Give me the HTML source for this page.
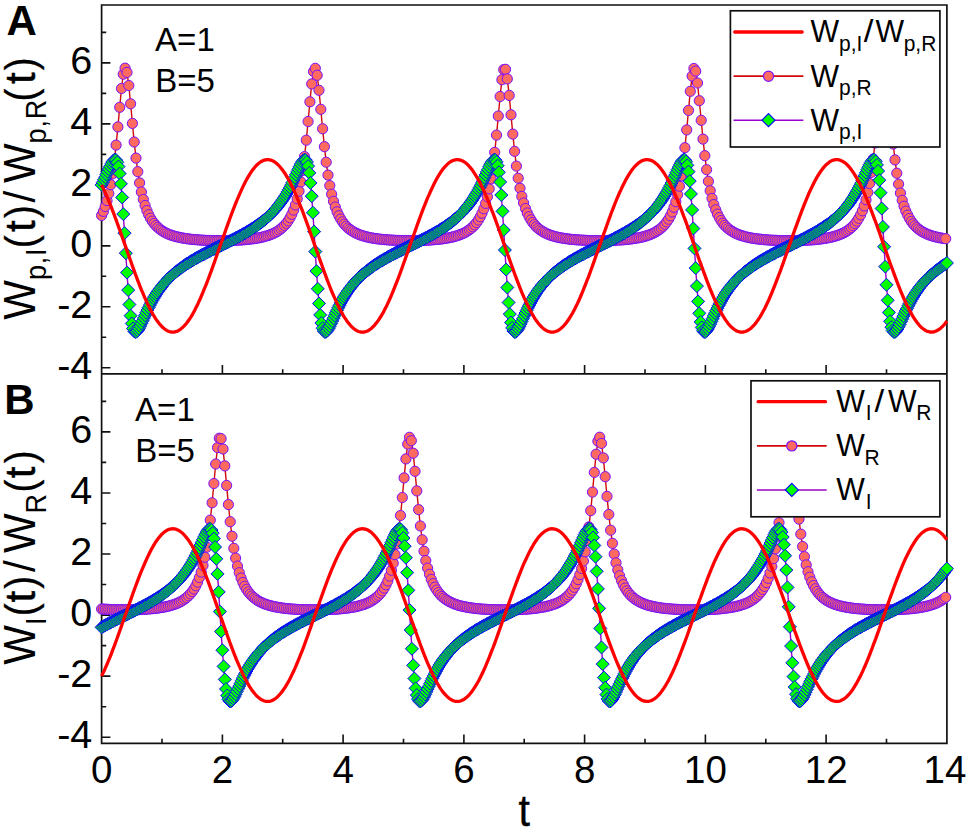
<!DOCTYPE html>
<html><head><meta charset="utf-8"><title>chart</title>
<style>
html,body{margin:0;padding:0;background:#fff}
body{width:970px;height:830px;overflow:hidden;font-family:"Liberation Sans",sans-serif}
svg{display:block}
.b{stroke:#000;stroke-width:.9px}
</style></head><body>

<svg width="970" height="830" viewBox="0 0 970 830">
<rect width="970" height="830" fill="#fff"/>
<g stroke="#111" stroke-width="1.7" fill="none" stroke-linecap="butt">
<path d="M101.6 5H946.9V743.3H101.6Z"/>
<path d="M101.6 373.9H946.9"/>
</g>
<g stroke="#111" stroke-width="1.6" fill="none">
<path d="M101.6 367.8h8.8M101.6 337.3h4.6M101.6 306.8h8.8M101.6 276.3h4.6M101.6 245.9h8.8M101.6 215.4h4.6M101.6 184.9h8.8M101.6 154.4h4.6M101.6 123.9h8.8M101.6 93.4h4.6M101.6 62.9h8.8M101.6 32.4h4.6M162 373.9v-4.6M222.4 373.9v-8.8M282.7 373.9v-4.6M343.1 373.9v-8.8M403.5 373.9v-4.6M463.9 373.9v-8.8M524.2 373.9v-4.6M584.6 373.9v-8.8M645 373.9v-4.6M705.4 373.9v-8.8M765.8 373.9v-4.6M826.1 373.9v-8.8M886.5 373.9v-4.6M101.6 737.2h8.8M101.6 706.7h4.6M101.6 676.1h8.8M101.6 645.6h4.6M101.6 615.1h8.8M101.6 584.5h4.6M101.6 554h8.8M101.6 523.5h4.6M101.6 493h8.8M101.6 462.4h4.6M101.6 431.9h8.8M101.6 401.4h4.6M162 743.3v-4.6M222.4 743.3v-8.8M282.7 743.3v-4.6M343.1 743.3v-8.8M403.5 743.3v-4.6M463.9 743.3v-8.8M524.2 743.3v-4.6M584.6 743.3v-8.8M645 743.3v-4.6M705.4 743.3v-8.8M765.8 743.3v-4.6M826.1 743.3v-8.8M886.5 743.3v-4.6"/>
</g>
<g>
<path d="M101.6 215.4L103.4 211.4L105.2 206.5L107 200.6L108.8 193.5L110.7 184.7L112.5 173.9L114.3 160.8L116.1 145.1L117.9 126.9L119.7 107.3L121.5 88.5L123.3 74.2L125.1 68.2L127 72.4L128.8 85.5L130.6 103.8L132.4 123.4L134.2 142L136 158.1L137.8 171.7L139.6 182.9L141.4 192L143.3 199.4L145.1 205.5L146.9 210.5L148.7 214.7L150.5 218.2L152.3 221.1L154.1 223.5L155.9 225.6L157.8 227.4L159.6 229L161.4 230.3L163.2 231.5L165 232.5L166.8 233.4L168.6 234.2L170.4 234.9L172.2 235.5L174.1 236.1L175.9 236.6L177.7 237L179.5 237.4L181.3 237.8L183.1 238.1L184.9 238.4L186.7 238.7L188.5 238.9L190.4 239.2L192.2 239.4L194 239.5L195.8 239.7L197.6 239.8L199.4 240L201.2 240.1L203 240.2L204.8 240.3L206.7 240.4L208.5 240.4L210.3 240.5L212.1 240.5L213.9 240.6L215.7 240.6L217.5 240.6L219.3 240.6L221.1 240.6L223 240.6L224.8 240.6L226.6 240.6L228.4 240.5L230.2 240.5L232 240.4L233.8 240.4L235.6 240.3L237.5 240.2L239.3 240.1L241.1 240L242.9 239.8L244.7 239.7L246.5 239.5L248.3 239.3L250.1 239.1L251.9 238.9L253.8 238.7L255.6 238.4L257.4 238.1L259.2 237.8L261 237.4L262.8 237L264.6 236.5L266.4 236L268.2 235.5L270.1 234.8L271.9 234.1L273.7 233.3L275.5 232.4L277.3 231.4L279.1 230.2L280.9 228.8L282.7 227.2L284.5 225.4L286.4 223.3L288.2 220.8L290 217.8L291.8 214.3L293.6 210.1L295.4 205L297.2 198.8L299 191.2L300.8 181.9L302.7 170.5L304.5 156.6L306.3 140.2L308.1 121.5L309.9 101.8L311.7 83.9L313.5 71.5L315.3 68.3L317.2 75.3L319 90.3L320.8 109.3L322.6 128.8L324.4 146.7L326.2 162.2L328 175.1L329.8 185.6L331.6 194.2L333.5 201.3L335.3 207L337.1 211.8L338.9 215.7L340.7 219L342.5 221.8L344.3 224.1L346.1 226.1L347.9 227.9L349.8 229.4L351.6 230.6L353.4 231.8L355.2 232.8L357 233.6L358.8 234.4L360.6 235.1L362.4 235.7L364.2 236.2L366.1 236.7L367.9 237.2L369.7 237.6L371.5 237.9L373.3 238.2L375.1 238.5L376.9 238.8L378.7 239L380.5 239.2L382.4 239.4L384.2 239.6L386 239.7L387.8 239.9L389.6 240L391.4 240.1L393.2 240.2L395 240.3L396.9 240.4L398.7 240.4L400.5 240.5L402.3 240.5L404.1 240.6L405.9 240.6L407.7 240.6L409.5 240.6L411.3 240.6L413.2 240.6L415 240.6L416.8 240.6L418.6 240.5L420.4 240.5L422.2 240.4L424 240.3L425.8 240.2L427.6 240.2L429.5 240L431.3 239.9L433.1 239.8L434.9 239.6L436.7 239.5L438.5 239.3L440.3 239.1L442.1 238.9L443.9 238.6L445.8 238.3L447.6 238L449.4 237.7L451.2 237.3L453 236.9L454.8 236.4L456.6 235.9L458.4 235.3L460.2 234.6L462.1 233.9L463.9 233.1L465.7 232.1L467.5 231L469.3 229.8L471.1 228.4L472.9 226.8L474.7 224.9L476.6 222.6L478.4 220L480.2 216.9L482 213.2L483.8 208.8L485.6 203.4L487.4 196.8L489.2 188.8L491 178.9L492.9 166.8L494.7 152.3L496.5 135.1L498.3 116L500.1 96.5L501.9 79.7L503.7 69.6L505.5 69.3L507.3 78.9L509.2 95.4L511 114.8L512.8 134.1L514.6 151.3L516.4 166.1L518.2 178.2L520 188.2L521.8 196.4L523.6 203L525.5 208.5L527.3 213L529.1 216.7L530.9 219.8L532.7 222.5L534.5 224.7L536.3 226.7L538.1 228.3L539.9 229.7L541.8 231L543.6 232.1L545.4 233L547.2 233.9L549 234.6L550.8 235.3L552.6 235.9L554.4 236.4L556.3 236.9L558.1 237.3L559.9 237.7L561.7 238L563.5 238.3L565.3 238.6L567.1 238.8L568.9 239.1L570.7 239.3L572.6 239.5L574.4 239.6L576.2 239.8L578 239.9L579.8 240L581.6 240.1L583.4 240.2L585.2 240.3L587 240.4L588.9 240.5L590.7 240.5L592.5 240.6L594.3 240.6L596.1 240.6L597.9 240.6L599.7 240.6L601.5 240.6L603.3 240.6L605.2 240.6L607 240.5L608.8 240.5L610.6 240.4L612.4 240.4L614.2 240.3L616 240.2L617.8 240.1L619.6 240L621.5 239.9L623.3 239.8L625.1 239.6L626.9 239.4L628.7 239.2L630.5 239L632.3 238.8L634.1 238.5L636 238.2L637.8 237.9L639.6 237.6L641.4 237.2L643.2 236.8L645 236.3L646.8 235.7L648.6 235.1L650.4 234.4L652.3 233.7L654.1 232.8L655.9 231.8L657.7 230.7L659.5 229.4L661.3 228L663.1 226.3L664.9 224.3L666.7 221.9L668.6 219.2L670.4 215.9L672.2 212L674 207.3L675.8 201.7L677.6 194.7L679.4 186.2L681.2 175.8L683 163L684.9 147.7L686.7 129.9L688.5 110.4L690.3 91.3L692.1 76L693.9 68.5L695.7 71.1L697.5 83L699.3 100.7L701.2 120.3L703 139.1L704.8 155.7L706.6 169.7L708.4 181.3L710.2 190.7L712 198.4L713.8 204.6L715.7 209.8L717.5 214.1L719.3 217.6L721.1 220.6L722.9 223.2L724.7 225.3L726.5 227.1L728.3 228.7L730.1 230.1L732 231.3L733.8 232.3L735.6 233.3L737.4 234.1L739.2 234.8L741 235.4L742.8 236L744.6 236.5L746.4 237L748.3 237.4L750.1 237.8L751.9 238.1L753.7 238.4L755.5 238.7L757.3 238.9L759.1 239.1L760.9 239.3L762.7 239.5L764.6 239.7L766.4 239.8L768.2 240L770 240.1L771.8 240.2L773.6 240.3L775.4 240.3L777.2 240.4L779 240.5L780.9 240.5L782.7 240.6L784.5 240.6L786.3 240.6L788.1 240.6L789.9 240.6L791.7 240.6L793.5 240.6L795.3 240.6L797.2 240.5L799 240.5L800.8 240.4L802.6 240.4L804.4 240.3L806.2 240.2L808 240.1L809.8 240L811.7 239.9L813.5 239.7L815.3 239.6L817.1 239.4L818.9 239.2L820.7 239L822.5 238.7L824.3 238.5L826.1 238.2L828 237.8L829.8 237.5L831.6 237.1L833.4 236.6L835.2 236.1L837 235.6L838.8 234.9L840.6 234.2L842.4 233.5L844.3 232.6L846.1 231.5L847.9 230.4L849.7 229L851.5 227.5L853.3 225.7L855.1 223.7L856.9 221.2L858.7 218.3L860.6 214.9L862.4 210.8L864.2 205.9L866 199.8L867.8 192.5L869.6 183.5L871.4 172.4L873.2 159L875 143L876.9 124.6L878.7 104.9L880.5 86.5L882.3 73L884.1 68.2L885.9 73.6L887.7 87.5L889.5 106.1L891.4 125.8L893.2 144L895 159.9L896.8 173.2L898.6 184.1L900.4 193L902.2 200.3L904 206.2L905.8 211.1L907.7 215.1L909.5 218.5L911.3 221.4L913.1 223.8L914.9 225.8L916.7 227.6L918.5 229.1L920.3 230.5L922.1 231.6L924 232.6L925.8 233.5L927.6 234.3L929.4 235L931.2 235.6L933 236.2L934.8 236.7L936.6 237.1L938.4 237.5L940.3 237.9L942.1 238.2L943.9 238.5L945.7 238.7" fill="none" stroke="#d00808" stroke-width="1.4"/>
<g fill="#ff6a60" stroke="#7810ff" stroke-width="1.0">
<circle cx="101.6" cy="215.4" r="5.1"/>
<circle cx="103.4" cy="211.4" r="5.1"/>
<circle cx="105.2" cy="206.5" r="5.1"/>
<circle cx="107" cy="200.6" r="5.1"/>
<circle cx="108.8" cy="193.5" r="5.1"/>
<circle cx="110.7" cy="184.7" r="5.1"/>
<circle cx="112.5" cy="173.9" r="5.1"/>
<circle cx="114.3" cy="160.8" r="5.1"/>
<circle cx="116.1" cy="145.1" r="5.1"/>
<circle cx="117.9" cy="126.9" r="5.1"/>
<circle cx="119.7" cy="107.3" r="5.1"/>
<circle cx="121.5" cy="88.5" r="5.1"/>
<circle cx="123.3" cy="74.2" r="5.1"/>
<circle cx="125.1" cy="68.2" r="5.1"/>
<circle cx="127" cy="72.4" r="5.1"/>
<circle cx="128.8" cy="85.5" r="5.1"/>
<circle cx="130.6" cy="103.8" r="5.1"/>
<circle cx="132.4" cy="123.4" r="5.1"/>
<circle cx="134.2" cy="142" r="5.1"/>
<circle cx="136" cy="158.1" r="5.1"/>
<circle cx="137.8" cy="171.7" r="5.1"/>
<circle cx="139.6" cy="182.9" r="5.1"/>
<circle cx="141.4" cy="192" r="5.1"/>
<circle cx="143.3" cy="199.4" r="5.1"/>
<circle cx="145.1" cy="205.5" r="5.1"/>
<circle cx="146.9" cy="210.5" r="5.1"/>
<circle cx="148.7" cy="214.7" r="5.1"/>
<circle cx="150.5" cy="218.2" r="5.1"/>
<circle cx="152.3" cy="221.1" r="5.1"/>
<circle cx="154.1" cy="223.5" r="5.1"/>
<circle cx="155.9" cy="225.6" r="5.1"/>
<circle cx="157.8" cy="227.4" r="5.1"/>
<circle cx="159.6" cy="229" r="5.1"/>
<circle cx="161.4" cy="230.3" r="5.1"/>
<circle cx="163.2" cy="231.5" r="5.1"/>
<circle cx="165" cy="232.5" r="5.1"/>
<circle cx="166.8" cy="233.4" r="5.1"/>
<circle cx="168.6" cy="234.2" r="5.1"/>
<circle cx="170.4" cy="234.9" r="5.1"/>
<circle cx="172.2" cy="235.5" r="5.1"/>
<circle cx="174.1" cy="236.1" r="5.1"/>
<circle cx="175.9" cy="236.6" r="5.1"/>
<circle cx="177.7" cy="237" r="5.1"/>
<circle cx="179.5" cy="237.4" r="5.1"/>
<circle cx="181.3" cy="237.8" r="5.1"/>
<circle cx="183.1" cy="238.1" r="5.1"/>
<circle cx="184.9" cy="238.4" r="5.1"/>
<circle cx="186.7" cy="238.7" r="5.1"/>
<circle cx="188.5" cy="238.9" r="5.1"/>
<circle cx="190.4" cy="239.2" r="5.1"/>
<circle cx="192.2" cy="239.4" r="5.1"/>
<circle cx="194" cy="239.5" r="5.1"/>
<circle cx="195.8" cy="239.7" r="5.1"/>
<circle cx="197.6" cy="239.8" r="5.1"/>
<circle cx="199.4" cy="240" r="5.1"/>
<circle cx="201.2" cy="240.1" r="5.1"/>
<circle cx="203" cy="240.2" r="5.1"/>
<circle cx="204.8" cy="240.3" r="5.1"/>
<circle cx="206.7" cy="240.4" r="5.1"/>
<circle cx="208.5" cy="240.4" r="5.1"/>
<circle cx="210.3" cy="240.5" r="5.1"/>
<circle cx="212.1" cy="240.5" r="5.1"/>
<circle cx="213.9" cy="240.6" r="5.1"/>
<circle cx="215.7" cy="240.6" r="5.1"/>
<circle cx="217.5" cy="240.6" r="5.1"/>
<circle cx="219.3" cy="240.6" r="5.1"/>
<circle cx="221.1" cy="240.6" r="5.1"/>
<circle cx="223" cy="240.6" r="5.1"/>
<circle cx="224.8" cy="240.6" r="5.1"/>
<circle cx="226.6" cy="240.6" r="5.1"/>
<circle cx="228.4" cy="240.5" r="5.1"/>
<circle cx="230.2" cy="240.5" r="5.1"/>
<circle cx="232" cy="240.4" r="5.1"/>
<circle cx="233.8" cy="240.4" r="5.1"/>
<circle cx="235.6" cy="240.3" r="5.1"/>
<circle cx="237.5" cy="240.2" r="5.1"/>
<circle cx="239.3" cy="240.1" r="5.1"/>
<circle cx="241.1" cy="240" r="5.1"/>
<circle cx="242.9" cy="239.8" r="5.1"/>
<circle cx="244.7" cy="239.7" r="5.1"/>
<circle cx="246.5" cy="239.5" r="5.1"/>
<circle cx="248.3" cy="239.3" r="5.1"/>
<circle cx="250.1" cy="239.1" r="5.1"/>
<circle cx="251.9" cy="238.9" r="5.1"/>
<circle cx="253.8" cy="238.7" r="5.1"/>
<circle cx="255.6" cy="238.4" r="5.1"/>
<circle cx="257.4" cy="238.1" r="5.1"/>
<circle cx="259.2" cy="237.8" r="5.1"/>
<circle cx="261" cy="237.4" r="5.1"/>
<circle cx="262.8" cy="237" r="5.1"/>
<circle cx="264.6" cy="236.5" r="5.1"/>
<circle cx="266.4" cy="236" r="5.1"/>
<circle cx="268.2" cy="235.5" r="5.1"/>
<circle cx="270.1" cy="234.8" r="5.1"/>
<circle cx="271.9" cy="234.1" r="5.1"/>
<circle cx="273.7" cy="233.3" r="5.1"/>
<circle cx="275.5" cy="232.4" r="5.1"/>
<circle cx="277.3" cy="231.4" r="5.1"/>
<circle cx="279.1" cy="230.2" r="5.1"/>
<circle cx="280.9" cy="228.8" r="5.1"/>
<circle cx="282.7" cy="227.2" r="5.1"/>
<circle cx="284.5" cy="225.4" r="5.1"/>
<circle cx="286.4" cy="223.3" r="5.1"/>
<circle cx="288.2" cy="220.8" r="5.1"/>
<circle cx="290" cy="217.8" r="5.1"/>
<circle cx="291.8" cy="214.3" r="5.1"/>
<circle cx="293.6" cy="210.1" r="5.1"/>
<circle cx="295.4" cy="205" r="5.1"/>
<circle cx="297.2" cy="198.8" r="5.1"/>
<circle cx="299" cy="191.2" r="5.1"/>
<circle cx="300.8" cy="181.9" r="5.1"/>
<circle cx="302.7" cy="170.5" r="5.1"/>
<circle cx="304.5" cy="156.6" r="5.1"/>
<circle cx="306.3" cy="140.2" r="5.1"/>
<circle cx="308.1" cy="121.5" r="5.1"/>
<circle cx="309.9" cy="101.8" r="5.1"/>
<circle cx="311.7" cy="83.9" r="5.1"/>
<circle cx="313.5" cy="71.5" r="5.1"/>
<circle cx="315.3" cy="68.3" r="5.1"/>
<circle cx="317.2" cy="75.3" r="5.1"/>
<circle cx="319" cy="90.3" r="5.1"/>
<circle cx="320.8" cy="109.3" r="5.1"/>
<circle cx="322.6" cy="128.8" r="5.1"/>
<circle cx="324.4" cy="146.7" r="5.1"/>
<circle cx="326.2" cy="162.2" r="5.1"/>
<circle cx="328" cy="175.1" r="5.1"/>
<circle cx="329.8" cy="185.6" r="5.1"/>
<circle cx="331.6" cy="194.2" r="5.1"/>
<circle cx="333.5" cy="201.3" r="5.1"/>
<circle cx="335.3" cy="207" r="5.1"/>
<circle cx="337.1" cy="211.8" r="5.1"/>
<circle cx="338.9" cy="215.7" r="5.1"/>
<circle cx="340.7" cy="219" r="5.1"/>
<circle cx="342.5" cy="221.8" r="5.1"/>
<circle cx="344.3" cy="224.1" r="5.1"/>
<circle cx="346.1" cy="226.1" r="5.1"/>
<circle cx="347.9" cy="227.9" r="5.1"/>
<circle cx="349.8" cy="229.4" r="5.1"/>
<circle cx="351.6" cy="230.6" r="5.1"/>
<circle cx="353.4" cy="231.8" r="5.1"/>
<circle cx="355.2" cy="232.8" r="5.1"/>
<circle cx="357" cy="233.6" r="5.1"/>
<circle cx="358.8" cy="234.4" r="5.1"/>
<circle cx="360.6" cy="235.1" r="5.1"/>
<circle cx="362.4" cy="235.7" r="5.1"/>
<circle cx="364.2" cy="236.2" r="5.1"/>
<circle cx="366.1" cy="236.7" r="5.1"/>
<circle cx="367.9" cy="237.2" r="5.1"/>
<circle cx="369.7" cy="237.6" r="5.1"/>
<circle cx="371.5" cy="237.9" r="5.1"/>
<circle cx="373.3" cy="238.2" r="5.1"/>
<circle cx="375.1" cy="238.5" r="5.1"/>
<circle cx="376.9" cy="238.8" r="5.1"/>
<circle cx="378.7" cy="239" r="5.1"/>
<circle cx="380.5" cy="239.2" r="5.1"/>
<circle cx="382.4" cy="239.4" r="5.1"/>
<circle cx="384.2" cy="239.6" r="5.1"/>
<circle cx="386" cy="239.7" r="5.1"/>
<circle cx="387.8" cy="239.9" r="5.1"/>
<circle cx="389.6" cy="240" r="5.1"/>
<circle cx="391.4" cy="240.1" r="5.1"/>
<circle cx="393.2" cy="240.2" r="5.1"/>
<circle cx="395" cy="240.3" r="5.1"/>
<circle cx="396.9" cy="240.4" r="5.1"/>
<circle cx="398.7" cy="240.4" r="5.1"/>
<circle cx="400.5" cy="240.5" r="5.1"/>
<circle cx="402.3" cy="240.5" r="5.1"/>
<circle cx="404.1" cy="240.6" r="5.1"/>
<circle cx="405.9" cy="240.6" r="5.1"/>
<circle cx="407.7" cy="240.6" r="5.1"/>
<circle cx="409.5" cy="240.6" r="5.1"/>
<circle cx="411.3" cy="240.6" r="5.1"/>
<circle cx="413.2" cy="240.6" r="5.1"/>
<circle cx="415" cy="240.6" r="5.1"/>
<circle cx="416.8" cy="240.6" r="5.1"/>
<circle cx="418.6" cy="240.5" r="5.1"/>
<circle cx="420.4" cy="240.5" r="5.1"/>
<circle cx="422.2" cy="240.4" r="5.1"/>
<circle cx="424" cy="240.3" r="5.1"/>
<circle cx="425.8" cy="240.2" r="5.1"/>
<circle cx="427.6" cy="240.2" r="5.1"/>
<circle cx="429.5" cy="240" r="5.1"/>
<circle cx="431.3" cy="239.9" r="5.1"/>
<circle cx="433.1" cy="239.8" r="5.1"/>
<circle cx="434.9" cy="239.6" r="5.1"/>
<circle cx="436.7" cy="239.5" r="5.1"/>
<circle cx="438.5" cy="239.3" r="5.1"/>
<circle cx="440.3" cy="239.1" r="5.1"/>
<circle cx="442.1" cy="238.9" r="5.1"/>
<circle cx="443.9" cy="238.6" r="5.1"/>
<circle cx="445.8" cy="238.3" r="5.1"/>
<circle cx="447.6" cy="238" r="5.1"/>
<circle cx="449.4" cy="237.7" r="5.1"/>
<circle cx="451.2" cy="237.3" r="5.1"/>
<circle cx="453" cy="236.9" r="5.1"/>
<circle cx="454.8" cy="236.4" r="5.1"/>
<circle cx="456.6" cy="235.9" r="5.1"/>
<circle cx="458.4" cy="235.3" r="5.1"/>
<circle cx="460.2" cy="234.6" r="5.1"/>
<circle cx="462.1" cy="233.9" r="5.1"/>
<circle cx="463.9" cy="233.1" r="5.1"/>
<circle cx="465.7" cy="232.1" r="5.1"/>
<circle cx="467.5" cy="231" r="5.1"/>
<circle cx="469.3" cy="229.8" r="5.1"/>
<circle cx="471.1" cy="228.4" r="5.1"/>
<circle cx="472.9" cy="226.8" r="5.1"/>
<circle cx="474.7" cy="224.9" r="5.1"/>
<circle cx="476.6" cy="222.6" r="5.1"/>
<circle cx="478.4" cy="220" r="5.1"/>
<circle cx="480.2" cy="216.9" r="5.1"/>
<circle cx="482" cy="213.2" r="5.1"/>
<circle cx="483.8" cy="208.8" r="5.1"/>
<circle cx="485.6" cy="203.4" r="5.1"/>
<circle cx="487.4" cy="196.8" r="5.1"/>
<circle cx="489.2" cy="188.8" r="5.1"/>
<circle cx="491" cy="178.9" r="5.1"/>
<circle cx="492.9" cy="166.8" r="5.1"/>
<circle cx="494.7" cy="152.3" r="5.1"/>
<circle cx="496.5" cy="135.1" r="5.1"/>
<circle cx="498.3" cy="116" r="5.1"/>
<circle cx="500.1" cy="96.5" r="5.1"/>
<circle cx="501.9" cy="79.7" r="5.1"/>
<circle cx="503.7" cy="69.6" r="5.1"/>
<circle cx="505.5" cy="69.3" r="5.1"/>
<circle cx="507.3" cy="78.9" r="5.1"/>
<circle cx="509.2" cy="95.4" r="5.1"/>
<circle cx="511" cy="114.8" r="5.1"/>
<circle cx="512.8" cy="134.1" r="5.1"/>
<circle cx="514.6" cy="151.3" r="5.1"/>
<circle cx="516.4" cy="166.1" r="5.1"/>
<circle cx="518.2" cy="178.2" r="5.1"/>
<circle cx="520" cy="188.2" r="5.1"/>
<circle cx="521.8" cy="196.4" r="5.1"/>
<circle cx="523.6" cy="203" r="5.1"/>
<circle cx="525.5" cy="208.5" r="5.1"/>
<circle cx="527.3" cy="213" r="5.1"/>
<circle cx="529.1" cy="216.7" r="5.1"/>
<circle cx="530.9" cy="219.8" r="5.1"/>
<circle cx="532.7" cy="222.5" r="5.1"/>
<circle cx="534.5" cy="224.7" r="5.1"/>
<circle cx="536.3" cy="226.7" r="5.1"/>
<circle cx="538.1" cy="228.3" r="5.1"/>
<circle cx="539.9" cy="229.7" r="5.1"/>
<circle cx="541.8" cy="231" r="5.1"/>
<circle cx="543.6" cy="232.1" r="5.1"/>
<circle cx="545.4" cy="233" r="5.1"/>
<circle cx="547.2" cy="233.9" r="5.1"/>
<circle cx="549" cy="234.6" r="5.1"/>
<circle cx="550.8" cy="235.3" r="5.1"/>
<circle cx="552.6" cy="235.9" r="5.1"/>
<circle cx="554.4" cy="236.4" r="5.1"/>
<circle cx="556.3" cy="236.9" r="5.1"/>
<circle cx="558.1" cy="237.3" r="5.1"/>
<circle cx="559.9" cy="237.7" r="5.1"/>
<circle cx="561.7" cy="238" r="5.1"/>
<circle cx="563.5" cy="238.3" r="5.1"/>
<circle cx="565.3" cy="238.6" r="5.1"/>
<circle cx="567.1" cy="238.8" r="5.1"/>
<circle cx="568.9" cy="239.1" r="5.1"/>
<circle cx="570.7" cy="239.3" r="5.1"/>
<circle cx="572.6" cy="239.5" r="5.1"/>
<circle cx="574.4" cy="239.6" r="5.1"/>
<circle cx="576.2" cy="239.8" r="5.1"/>
<circle cx="578" cy="239.9" r="5.1"/>
<circle cx="579.8" cy="240" r="5.1"/>
<circle cx="581.6" cy="240.1" r="5.1"/>
<circle cx="583.4" cy="240.2" r="5.1"/>
<circle cx="585.2" cy="240.3" r="5.1"/>
<circle cx="587" cy="240.4" r="5.1"/>
<circle cx="588.9" cy="240.5" r="5.1"/>
<circle cx="590.7" cy="240.5" r="5.1"/>
<circle cx="592.5" cy="240.6" r="5.1"/>
<circle cx="594.3" cy="240.6" r="5.1"/>
<circle cx="596.1" cy="240.6" r="5.1"/>
<circle cx="597.9" cy="240.6" r="5.1"/>
<circle cx="599.7" cy="240.6" r="5.1"/>
<circle cx="601.5" cy="240.6" r="5.1"/>
<circle cx="603.3" cy="240.6" r="5.1"/>
<circle cx="605.2" cy="240.6" r="5.1"/>
<circle cx="607" cy="240.5" r="5.1"/>
<circle cx="608.8" cy="240.5" r="5.1"/>
<circle cx="610.6" cy="240.4" r="5.1"/>
<circle cx="612.4" cy="240.4" r="5.1"/>
<circle cx="614.2" cy="240.3" r="5.1"/>
<circle cx="616" cy="240.2" r="5.1"/>
<circle cx="617.8" cy="240.1" r="5.1"/>
<circle cx="619.6" cy="240" r="5.1"/>
<circle cx="621.5" cy="239.9" r="5.1"/>
<circle cx="623.3" cy="239.8" r="5.1"/>
<circle cx="625.1" cy="239.6" r="5.1"/>
<circle cx="626.9" cy="239.4" r="5.1"/>
<circle cx="628.7" cy="239.2" r="5.1"/>
<circle cx="630.5" cy="239" r="5.1"/>
<circle cx="632.3" cy="238.8" r="5.1"/>
<circle cx="634.1" cy="238.5" r="5.1"/>
<circle cx="636" cy="238.2" r="5.1"/>
<circle cx="637.8" cy="237.9" r="5.1"/>
<circle cx="639.6" cy="237.6" r="5.1"/>
<circle cx="641.4" cy="237.2" r="5.1"/>
<circle cx="643.2" cy="236.8" r="5.1"/>
<circle cx="645" cy="236.3" r="5.1"/>
<circle cx="646.8" cy="235.7" r="5.1"/>
<circle cx="648.6" cy="235.1" r="5.1"/>
<circle cx="650.4" cy="234.4" r="5.1"/>
<circle cx="652.3" cy="233.7" r="5.1"/>
<circle cx="654.1" cy="232.8" r="5.1"/>
<circle cx="655.9" cy="231.8" r="5.1"/>
<circle cx="657.7" cy="230.7" r="5.1"/>
<circle cx="659.5" cy="229.4" r="5.1"/>
<circle cx="661.3" cy="228" r="5.1"/>
<circle cx="663.1" cy="226.3" r="5.1"/>
<circle cx="664.9" cy="224.3" r="5.1"/>
<circle cx="666.7" cy="221.9" r="5.1"/>
<circle cx="668.6" cy="219.2" r="5.1"/>
<circle cx="670.4" cy="215.9" r="5.1"/>
<circle cx="672.2" cy="212" r="5.1"/>
<circle cx="674" cy="207.3" r="5.1"/>
<circle cx="675.8" cy="201.7" r="5.1"/>
<circle cx="677.6" cy="194.7" r="5.1"/>
<circle cx="679.4" cy="186.2" r="5.1"/>
<circle cx="681.2" cy="175.8" r="5.1"/>
<circle cx="683" cy="163" r="5.1"/>
<circle cx="684.9" cy="147.7" r="5.1"/>
<circle cx="686.7" cy="129.9" r="5.1"/>
<circle cx="688.5" cy="110.4" r="5.1"/>
<circle cx="690.3" cy="91.3" r="5.1"/>
<circle cx="692.1" cy="76" r="5.1"/>
<circle cx="693.9" cy="68.5" r="5.1"/>
<circle cx="695.7" cy="71.1" r="5.1"/>
<circle cx="697.5" cy="83" r="5.1"/>
<circle cx="699.3" cy="100.7" r="5.1"/>
<circle cx="701.2" cy="120.3" r="5.1"/>
<circle cx="703" cy="139.1" r="5.1"/>
<circle cx="704.8" cy="155.7" r="5.1"/>
<circle cx="706.6" cy="169.7" r="5.1"/>
<circle cx="708.4" cy="181.3" r="5.1"/>
<circle cx="710.2" cy="190.7" r="5.1"/>
<circle cx="712" cy="198.4" r="5.1"/>
<circle cx="713.8" cy="204.6" r="5.1"/>
<circle cx="715.7" cy="209.8" r="5.1"/>
<circle cx="717.5" cy="214.1" r="5.1"/>
<circle cx="719.3" cy="217.6" r="5.1"/>
<circle cx="721.1" cy="220.6" r="5.1"/>
<circle cx="722.9" cy="223.2" r="5.1"/>
<circle cx="724.7" cy="225.3" r="5.1"/>
<circle cx="726.5" cy="227.1" r="5.1"/>
<circle cx="728.3" cy="228.7" r="5.1"/>
<circle cx="730.1" cy="230.1" r="5.1"/>
<circle cx="732" cy="231.3" r="5.1"/>
<circle cx="733.8" cy="232.3" r="5.1"/>
<circle cx="735.6" cy="233.3" r="5.1"/>
<circle cx="737.4" cy="234.1" r="5.1"/>
<circle cx="739.2" cy="234.8" r="5.1"/>
<circle cx="741" cy="235.4" r="5.1"/>
<circle cx="742.8" cy="236" r="5.1"/>
<circle cx="744.6" cy="236.5" r="5.1"/>
<circle cx="746.4" cy="237" r="5.1"/>
<circle cx="748.3" cy="237.4" r="5.1"/>
<circle cx="750.1" cy="237.8" r="5.1"/>
<circle cx="751.9" cy="238.1" r="5.1"/>
<circle cx="753.7" cy="238.4" r="5.1"/>
<circle cx="755.5" cy="238.7" r="5.1"/>
<circle cx="757.3" cy="238.9" r="5.1"/>
<circle cx="759.1" cy="239.1" r="5.1"/>
<circle cx="760.9" cy="239.3" r="5.1"/>
<circle cx="762.7" cy="239.5" r="5.1"/>
<circle cx="764.6" cy="239.7" r="5.1"/>
<circle cx="766.4" cy="239.8" r="5.1"/>
<circle cx="768.2" cy="240" r="5.1"/>
<circle cx="770" cy="240.1" r="5.1"/>
<circle cx="771.8" cy="240.2" r="5.1"/>
<circle cx="773.6" cy="240.3" r="5.1"/>
<circle cx="775.4" cy="240.3" r="5.1"/>
<circle cx="777.2" cy="240.4" r="5.1"/>
<circle cx="779" cy="240.5" r="5.1"/>
<circle cx="780.9" cy="240.5" r="5.1"/>
<circle cx="782.7" cy="240.6" r="5.1"/>
<circle cx="784.5" cy="240.6" r="5.1"/>
<circle cx="786.3" cy="240.6" r="5.1"/>
<circle cx="788.1" cy="240.6" r="5.1"/>
<circle cx="789.9" cy="240.6" r="5.1"/>
<circle cx="791.7" cy="240.6" r="5.1"/>
<circle cx="793.5" cy="240.6" r="5.1"/>
<circle cx="795.3" cy="240.6" r="5.1"/>
<circle cx="797.2" cy="240.5" r="5.1"/>
<circle cx="799" cy="240.5" r="5.1"/>
<circle cx="800.8" cy="240.4" r="5.1"/>
<circle cx="802.6" cy="240.4" r="5.1"/>
<circle cx="804.4" cy="240.3" r="5.1"/>
<circle cx="806.2" cy="240.2" r="5.1"/>
<circle cx="808" cy="240.1" r="5.1"/>
<circle cx="809.8" cy="240" r="5.1"/>
<circle cx="811.7" cy="239.9" r="5.1"/>
<circle cx="813.5" cy="239.7" r="5.1"/>
<circle cx="815.3" cy="239.6" r="5.1"/>
<circle cx="817.1" cy="239.4" r="5.1"/>
<circle cx="818.9" cy="239.2" r="5.1"/>
<circle cx="820.7" cy="239" r="5.1"/>
<circle cx="822.5" cy="238.7" r="5.1"/>
<circle cx="824.3" cy="238.5" r="5.1"/>
<circle cx="826.1" cy="238.2" r="5.1"/>
<circle cx="828" cy="237.8" r="5.1"/>
<circle cx="829.8" cy="237.5" r="5.1"/>
<circle cx="831.6" cy="237.1" r="5.1"/>
<circle cx="833.4" cy="236.6" r="5.1"/>
<circle cx="835.2" cy="236.1" r="5.1"/>
<circle cx="837" cy="235.6" r="5.1"/>
<circle cx="838.8" cy="234.9" r="5.1"/>
<circle cx="840.6" cy="234.2" r="5.1"/>
<circle cx="842.4" cy="233.5" r="5.1"/>
<circle cx="844.3" cy="232.6" r="5.1"/>
<circle cx="846.1" cy="231.5" r="5.1"/>
<circle cx="847.9" cy="230.4" r="5.1"/>
<circle cx="849.7" cy="229" r="5.1"/>
<circle cx="851.5" cy="227.5" r="5.1"/>
<circle cx="853.3" cy="225.7" r="5.1"/>
<circle cx="855.1" cy="223.7" r="5.1"/>
<circle cx="856.9" cy="221.2" r="5.1"/>
<circle cx="858.7" cy="218.3" r="5.1"/>
<circle cx="860.6" cy="214.9" r="5.1"/>
<circle cx="862.4" cy="210.8" r="5.1"/>
<circle cx="864.2" cy="205.9" r="5.1"/>
<circle cx="866" cy="199.8" r="5.1"/>
<circle cx="867.8" cy="192.5" r="5.1"/>
<circle cx="869.6" cy="183.5" r="5.1"/>
<circle cx="871.4" cy="172.4" r="5.1"/>
<circle cx="873.2" cy="159" r="5.1"/>
<circle cx="875" cy="143" r="5.1"/>
<circle cx="876.9" cy="124.6" r="5.1"/>
<circle cx="878.7" cy="104.9" r="5.1"/>
<circle cx="880.5" cy="86.5" r="5.1"/>
<circle cx="882.3" cy="73" r="5.1"/>
<circle cx="884.1" cy="68.2" r="5.1"/>
<circle cx="885.9" cy="73.6" r="5.1"/>
<circle cx="887.7" cy="87.5" r="5.1"/>
<circle cx="889.5" cy="106.1" r="5.1"/>
<circle cx="891.4" cy="125.8" r="5.1"/>
<circle cx="893.2" cy="144" r="5.1"/>
<circle cx="895" cy="159.9" r="5.1"/>
<circle cx="896.8" cy="173.2" r="5.1"/>
<circle cx="898.6" cy="184.1" r="5.1"/>
<circle cx="900.4" cy="193" r="5.1"/>
<circle cx="902.2" cy="200.3" r="5.1"/>
<circle cx="904" cy="206.2" r="5.1"/>
<circle cx="905.8" cy="211.1" r="5.1"/>
<circle cx="907.7" cy="215.1" r="5.1"/>
<circle cx="909.5" cy="218.5" r="5.1"/>
<circle cx="911.3" cy="221.4" r="5.1"/>
<circle cx="913.1" cy="223.8" r="5.1"/>
<circle cx="914.9" cy="225.8" r="5.1"/>
<circle cx="916.7" cy="227.6" r="5.1"/>
<circle cx="918.5" cy="229.1" r="5.1"/>
<circle cx="920.3" cy="230.5" r="5.1"/>
<circle cx="922.1" cy="231.6" r="5.1"/>
<circle cx="924" cy="232.6" r="5.1"/>
<circle cx="925.8" cy="233.5" r="5.1"/>
<circle cx="927.6" cy="234.3" r="5.1"/>
<circle cx="929.4" cy="235" r="5.1"/>
<circle cx="931.2" cy="235.6" r="5.1"/>
<circle cx="933" cy="236.2" r="5.1"/>
<circle cx="934.8" cy="236.7" r="5.1"/>
<circle cx="936.6" cy="237.1" r="5.1"/>
<circle cx="938.4" cy="237.5" r="5.1"/>
<circle cx="940.3" cy="237.9" r="5.1"/>
<circle cx="942.1" cy="238.2" r="5.1"/>
<circle cx="943.9" cy="238.5" r="5.1"/>
<circle cx="945.7" cy="238.7" r="5.1"/>
</g>
<path d="M101.6 184.9L102.8 182.4L104 179.8L105.2 177.2L106.4 174.4L107.6 171.7L108.8 169L110.1 166.4L111.3 163.9L112.5 161.9L113.7 160.3L114.9 159.6L116.1 160.1L117.3 162.3L118.5 166.6L119.7 173.6L120.9 183.8L122.1 197.4L123.3 214.1L124.5 233.2L125.8 253.2L127 272.6L128.2 290.1L129.4 304.5L130.6 315.7L131.8 323.5L133 328.5L134.2 331.2L135.4 332.1L136.6 331.7L137.8 330.3L139 328.4L140.2 326L141.4 323.4L142.7 320.7L143.9 318L145.1 315.3L146.3 312.6L147.5 310L148.7 307.5L149.9 305.1L151.1 302.8L152.3 300.5L153.5 298.4L154.7 296.4L155.9 294.5L157.1 292.6L158.4 290.8L159.6 289.2L160.8 287.5L162 286L163.2 284.5L164.4 283.1L165.6 281.7L166.8 280.4L168 279.1L169.2 277.9L170.4 276.7L171.6 275.6L172.8 274.5L174.1 273.4L175.3 272.4L176.5 271.4L177.7 270.4L178.9 269.5L180.1 268.6L181.3 267.7L182.5 266.8L183.7 266L184.9 265.1L186.1 264.3L187.3 263.5L188.5 262.8L189.8 262L191 261.3L192.2 260.5L193.4 259.8L194.6 259.1L195.8 258.4L197 257.7L198.2 257.1L199.4 256.4L200.6 255.7L201.8 255.1L203 254.5L204.2 253.8L205.5 253.2L206.7 252.6L207.9 252L209.1 251.3L210.3 250.7L211.5 250.1L212.7 249.5L213.9 248.9L215.1 248.3L216.3 247.7L217.5 247.1L218.7 246.5L219.9 246L221.1 245.4L222.4 244.8L223.6 244.2L224.8 243.6L226 243L227.2 242.4L228.4 241.8L229.6 241.2L230.8 240.6L232 240L233.2 239.4L234.4 238.7L235.6 238.1L236.8 237.5L238.1 236.8L239.3 236.2L240.5 235.5L241.7 234.9L242.9 234.2L244.1 233.5L245.3 232.8L246.5 232.1L247.7 231.4L248.9 230.7L250.1 230L251.3 229.2L252.5 228.4L253.8 227.7L255 226.8L256.2 226L257.4 225.2L258.6 224.3L259.8 223.4L261 222.5L262.2 221.6L263.4 220.6L264.6 219.7L265.8 218.6L267 217.6L268.2 216.5L269.5 215.4L270.7 214.2L271.9 213L273.1 211.8L274.3 210.5L275.5 209.1L276.7 207.7L277.9 206.2L279.1 204.7L280.3 203.1L281.5 201.5L282.7 199.7L283.9 197.9L285.2 196L286.4 194L287.6 191.9L288.8 189.7L290 187.5L291.2 185.1L292.4 182.6L293.6 180L294.8 177.4L296 174.7L297.2 171.9L298.4 169.2L299.6 166.6L300.8 164.1L302.1 162L303.3 160.4L304.5 159.6L305.7 160L306.9 162L308.1 166.1L309.3 172.9L310.5 182.9L311.7 196.2L312.9 212.7L314.1 231.6L315.3 251.6L316.5 271.1L317.8 288.8L319 303.5L320.2 314.9L321.4 323L322.6 328.2L323.8 331L325 332.1L326.2 331.7L327.4 330.5L328.6 328.5L329.8 326.2L331 323.7L332.2 321L333.5 318.2L334.7 315.5L335.9 312.8L337.1 310.2L338.3 307.7L339.5 305.3L340.7 302.9L341.9 300.7L343.1 298.6L344.3 296.6L345.5 294.6L346.7 292.8L347.9 291L349.2 289.3L350.4 287.7L351.6 286.1L352.8 284.6L354 283.2L355.2 281.8L356.4 280.5L357.6 279.2L358.8 278L360 276.8L361.2 275.7L362.4 274.6L363.6 273.5L364.9 272.5L366.1 271.5L367.3 270.5L368.5 269.6L369.7 268.6L370.9 267.8L372.1 266.9L373.3 266L374.5 265.2L375.7 264.4L376.9 263.6L378.1 262.8L379.3 262.1L380.5 261.3L381.8 260.6L383 259.9L384.2 259.2L385.4 258.5L386.6 257.8L387.8 257.1L389 256.4L390.2 255.8L391.4 255.1L392.6 254.5L393.8 253.9L395 253.2L396.2 252.6L397.5 252L398.7 251.4L399.9 250.8L401.1 250.2L402.3 249.6L403.5 249L404.7 248.4L405.9 247.8L407.1 247.2L408.3 246.6L409.5 246L410.7 245.4L411.9 244.8L413.2 244.2L414.4 243.6L415.6 243L416.8 242.4L418 241.8L419.2 241.2L420.4 240.6L421.6 240L422.8 239.4L424 238.8L425.2 238.2L426.4 237.5L427.6 236.9L428.9 236.2L430.1 235.6L431.3 234.9L432.5 234.3L433.7 233.6L434.9 232.9L436.1 232.2L437.3 231.5L438.5 230.8L439.7 230L440.9 229.3L442.1 228.5L443.3 227.7L444.6 226.9L445.8 226.1L447 225.3L448.2 224.4L449.4 223.5L450.6 222.6L451.8 221.7L453 220.7L454.2 219.7L455.4 218.7L456.6 217.7L457.8 216.6L459 215.5L460.2 214.3L461.5 213.1L462.7 211.9L463.9 210.6L465.1 209.2L466.3 207.8L467.5 206.4L468.7 204.8L469.9 203.3L471.1 201.6L472.3 199.9L473.5 198.1L474.7 196.2L475.9 194.2L477.2 192.1L478.4 189.9L479.6 187.6L480.8 185.3L482 182.8L483.2 180.2L484.4 177.6L485.6 174.9L486.8 172.1L488 169.4L489.2 166.8L490.4 164.3L491.6 162.2L492.9 160.5L494.1 159.7L495.3 160L496.5 161.8L497.7 165.7L498.9 172.3L500.1 182L501.3 195L502.5 211.3L503.7 230L504.9 250L506.1 269.6L507.3 287.5L508.6 302.5L509.8 314.1L511 322.5L512.2 327.9L513.4 330.9L514.6 332L515.8 331.8L517 330.6L518.2 328.7L519.4 326.4L520.6 323.9L521.8 321.2L523 318.4L524.2 315.7L525.5 313L526.7 310.4L527.9 307.9L529.1 305.5L530.3 303.1L531.5 300.9L532.7 298.7L533.9 296.7L535.1 294.8L536.3 292.9L537.5 291.1L538.7 289.4L539.9 287.8L541.2 286.2L542.4 284.7L543.6 283.3L544.8 281.9L546 280.6L547.2 279.3L548.4 278.1L549.6 276.9L550.8 275.8L552 274.7L553.2 273.6L554.4 272.6L555.6 271.6L556.9 270.6L558.1 269.6L559.3 268.7L560.5 267.8L561.7 267L562.9 266.1L564.1 265.3L565.3 264.5L566.5 263.7L567.7 262.9L568.9 262.1L570.1 261.4L571.3 260.6L572.6 259.9L573.8 259.2L575 258.5L576.2 257.8L577.4 257.2L578.6 256.5L579.8 255.8L581 255.2L582.2 254.6L583.4 253.9L584.6 253.3L585.8 252.7L587 252L588.3 251.4L589.5 250.8L590.7 250.2L591.9 249.6L593.1 249L594.3 248.4L595.5 247.8L596.7 247.2L597.9 246.6L599.1 246L600.3 245.5L601.5 244.9L602.7 244.3L603.9 243.7L605.2 243.1L606.4 242.5L607.6 241.9L608.8 241.3L610 240.7L611.2 240.1L612.4 239.5L613.6 238.8L614.8 238.2L616 237.6L617.2 236.9L618.4 236.3L619.6 235.6L620.9 235L622.1 234.3L623.3 233.6L624.5 232.9L625.7 232.2L626.9 231.5L628.1 230.8L629.3 230.1L630.5 229.3L631.7 228.6L632.9 227.8L634.1 227L635.3 226.2L636.6 225.3L637.8 224.5L639 223.6L640.2 222.7L641.4 221.8L642.6 220.8L643.8 219.8L645 218.8L646.2 217.8L647.4 216.7L648.6 215.6L649.8 214.4L651 213.2L652.3 212L653.5 210.7L654.7 209.3L655.9 207.9L657.1 206.5L658.3 205L659.5 203.4L660.7 201.7L661.9 200L663.1 198.2L664.3 196.3L665.5 194.3L666.7 192.3L668 190.1L669.2 187.8L670.4 185.5L671.6 183L672.8 180.4L674 177.8L675.2 175.1L676.4 172.4L677.6 169.6L678.8 167L680 164.5L681.2 162.3L682.4 160.6L683.6 159.7L684.9 159.9L686.1 161.6L687.3 165.3L688.5 171.7L689.7 181.1L690.9 193.9L692.1 209.9L693.3 228.5L694.5 248.4L695.7 268.1L696.9 286.1L698.1 301.4L699.3 313.3L700.6 321.9L701.8 327.5L703 330.7L704.2 332L705.4 331.9L706.6 330.7L707.8 328.9L709 326.6L710.2 324.1L711.4 321.4L712.6 318.7L713.8 315.9L715 313.2L716.3 310.6L717.5 308.1L718.7 305.6L719.9 303.3L721.1 301.1L722.3 298.9L723.5 296.9L724.7 294.9L725.9 293L727.1 291.3L728.3 289.5L729.5 287.9L730.7 286.4L732 284.9L733.2 283.4L734.4 282L735.6 280.7L736.8 279.4L738 278.2L739.2 277L740.4 275.9L741.6 274.8L742.8 273.7L744 272.6L745.2 271.6L746.4 270.7L747.7 269.7L748.9 268.8L750.1 267.9L751.3 267L752.5 266.2L753.7 265.3L754.9 264.5L756.1 263.7L757.3 262.9L758.5 262.2L759.7 261.4L760.9 260.7L762.1 260L763.3 259.3L764.6 258.6L765.8 257.9L767 257.2L768.2 256.6L769.4 255.9L770.6 255.2L771.8 254.6L773 254L774.2 253.3L775.4 252.7L776.6 252.1L777.8 251.5L779 250.9L780.3 250.3L781.5 249.7L782.7 249.1L783.9 248.5L785.1 247.9L786.3 247.3L787.5 246.7L788.7 246.1L789.9 245.5L791.1 244.9L792.3 244.3L793.5 243.7L794.7 243.1L796 242.5L797.2 241.9L798.4 241.3L799.6 240.7L800.8 240.1L802 239.5L803.2 238.9L804.4 238.3L805.6 237.6L806.8 237L808 236.3L809.2 235.7L810.4 235L811.7 234.4L812.9 233.7L814.1 233L815.3 232.3L816.5 231.6L817.7 230.9L818.9 230.1L820.1 229.4L821.3 228.6L822.5 227.8L823.7 227L824.9 226.2L826.1 225.4L827.4 224.5L828.6 223.7L829.8 222.8L831 221.8L832.2 220.9L833.4 219.9L834.6 218.9L835.8 217.8L837 216.8L838.2 215.6L839.4 214.5L840.6 213.3L841.8 212.1L843 210.8L844.3 209.4L845.5 208L846.7 206.6L847.9 205.1L849.1 203.5L850.3 201.9L851.5 200.1L852.7 198.3L853.9 196.5L855.1 194.5L856.3 192.4L857.5 190.3L858.7 188L860 185.6L861.2 183.2L862.4 180.6L863.6 178L864.8 175.3L866 172.6L867.2 169.8L868.4 167.2L869.6 164.7L870.8 162.5L872 160.7L873.2 159.7L874.4 159.8L875.7 161.4L876.9 164.9L878.1 171L879.3 180.2L880.5 192.7L881.7 208.5L882.9 226.9L884.1 246.8L885.3 266.6L886.5 284.8L887.7 300.3L888.9 312.5L890.1 321.3L891.4 327.2L892.6 330.5L893.8 332L895 331.9L896.2 330.8L897.4 329L898.6 326.8L899.8 324.3L901 321.6L902.2 318.9L903.4 316.1L904.6 313.4L905.8 310.8L907.1 308.3L908.3 305.8L909.5 303.5L910.7 301.2L911.9 299.1L913.1 297L914.3 295.1L915.5 293.2L916.7 291.4L917.9 289.7L919.1 288L920.3 286.5L921.5 285L922.7 283.5L924 282.1L925.2 280.8L926.4 279.5L927.6 278.3L928.8 277.1L930 275.9L931.2 274.8L932.4 273.8L933.6 272.7L934.8 271.7L936 270.7L937.2 269.8L938.4 268.9L939.7 268L940.9 267.1L942.1 266.2L943.3 265.4L944.5 264.6L945.7 263.8L946.9 263" fill="none" stroke="#9900cc" stroke-width="1.4"/>
<g fill="#00ff00" stroke="#0808ff" stroke-width="1.0" stroke-linejoin="miter">
<path d="M95.1 184.9l6.5 -6.5l6.5 6.5l-6.5 6.5z"/>
<path d="M96.3 182.4l6.5 -6.5l6.5 6.5l-6.5 6.5z"/>
<path d="M97.5 179.8l6.5 -6.5l6.5 6.5l-6.5 6.5z"/>
<path d="M98.7 177.2l6.5 -6.5l6.5 6.5l-6.5 6.5z"/>
<path d="M99.9 174.4l6.5 -6.5l6.5 6.5l-6.5 6.5z"/>
<path d="M101.1 171.7l6.5 -6.5l6.5 6.5l-6.5 6.5z"/>
<path d="M102.3 169l6.5 -6.5l6.5 6.5l-6.5 6.5z"/>
<path d="M103.6 166.4l6.5 -6.5l6.5 6.5l-6.5 6.5z"/>
<path d="M104.8 163.9l6.5 -6.5l6.5 6.5l-6.5 6.5z"/>
<path d="M106 161.9l6.5 -6.5l6.5 6.5l-6.5 6.5z"/>
<path d="M107.2 160.3l6.5 -6.5l6.5 6.5l-6.5 6.5z"/>
<path d="M108.4 159.6l6.5 -6.5l6.5 6.5l-6.5 6.5z"/>
<path d="M109.6 160.1l6.5 -6.5l6.5 6.5l-6.5 6.5z"/>
<path d="M110.8 162.3l6.5 -6.5l6.5 6.5l-6.5 6.5z"/>
<path d="M112 166.6l6.5 -6.5l6.5 6.5l-6.5 6.5z"/>
<path d="M113.2 173.6l6.5 -6.5l6.5 6.5l-6.5 6.5z"/>
<path d="M114.4 183.8l6.5 -6.5l6.5 6.5l-6.5 6.5z"/>
<path d="M115.6 197.4l6.5 -6.5l6.5 6.5l-6.5 6.5z"/>
<path d="M116.8 214.1l6.5 -6.5l6.5 6.5l-6.5 6.5z"/>
<path d="M118 233.2l6.5 -6.5l6.5 6.5l-6.5 6.5z"/>
<path d="M119.3 253.2l6.5 -6.5l6.5 6.5l-6.5 6.5z"/>
<path d="M120.5 272.6l6.5 -6.5l6.5 6.5l-6.5 6.5z"/>
<path d="M121.7 290.1l6.5 -6.5l6.5 6.5l-6.5 6.5z"/>
<path d="M122.9 304.5l6.5 -6.5l6.5 6.5l-6.5 6.5z"/>
<path d="M124.1 315.7l6.5 -6.5l6.5 6.5l-6.5 6.5z"/>
<path d="M125.3 323.5l6.5 -6.5l6.5 6.5l-6.5 6.5z"/>
<path d="M126.5 328.5l6.5 -6.5l6.5 6.5l-6.5 6.5z"/>
<path d="M127.7 331.2l6.5 -6.5l6.5 6.5l-6.5 6.5z"/>
<path d="M128.9 332.1l6.5 -6.5l6.5 6.5l-6.5 6.5z"/>
<path d="M130.1 331.7l6.5 -6.5l6.5 6.5l-6.5 6.5z"/>
<path d="M131.3 330.3l6.5 -6.5l6.5 6.5l-6.5 6.5z"/>
<path d="M132.5 328.4l6.5 -6.5l6.5 6.5l-6.5 6.5z"/>
<path d="M133.7 326l6.5 -6.5l6.5 6.5l-6.5 6.5z"/>
<path d="M134.9 323.4l6.5 -6.5l6.5 6.5l-6.5 6.5z"/>
<path d="M136.2 320.7l6.5 -6.5l6.5 6.5l-6.5 6.5z"/>
<path d="M137.4 318l6.5 -6.5l6.5 6.5l-6.5 6.5z"/>
<path d="M138.6 315.3l6.5 -6.5l6.5 6.5l-6.5 6.5z"/>
<path d="M139.8 312.6l6.5 -6.5l6.5 6.5l-6.5 6.5z"/>
<path d="M141 310l6.5 -6.5l6.5 6.5l-6.5 6.5z"/>
<path d="M142.2 307.5l6.5 -6.5l6.5 6.5l-6.5 6.5z"/>
<path d="M143.4 305.1l6.5 -6.5l6.5 6.5l-6.5 6.5z"/>
<path d="M144.6 302.8l6.5 -6.5l6.5 6.5l-6.5 6.5z"/>
<path d="M145.8 300.5l6.5 -6.5l6.5 6.5l-6.5 6.5z"/>
<path d="M147 298.4l6.5 -6.5l6.5 6.5l-6.5 6.5z"/>
<path d="M148.2 296.4l6.5 -6.5l6.5 6.5l-6.5 6.5z"/>
<path d="M149.4 294.5l6.5 -6.5l6.5 6.5l-6.5 6.5z"/>
<path d="M150.6 292.6l6.5 -6.5l6.5 6.5l-6.5 6.5z"/>
<path d="M151.9 290.8l6.5 -6.5l6.5 6.5l-6.5 6.5z"/>
<path d="M153.1 289.2l6.5 -6.5l6.5 6.5l-6.5 6.5z"/>
<path d="M154.3 287.5l6.5 -6.5l6.5 6.5l-6.5 6.5z"/>
<path d="M155.5 286l6.5 -6.5l6.5 6.5l-6.5 6.5z"/>
<path d="M156.7 284.5l6.5 -6.5l6.5 6.5l-6.5 6.5z"/>
<path d="M157.9 283.1l6.5 -6.5l6.5 6.5l-6.5 6.5z"/>
<path d="M159.1 281.7l6.5 -6.5l6.5 6.5l-6.5 6.5z"/>
<path d="M160.3 280.4l6.5 -6.5l6.5 6.5l-6.5 6.5z"/>
<path d="M161.5 279.1l6.5 -6.5l6.5 6.5l-6.5 6.5z"/>
<path d="M162.7 277.9l6.5 -6.5l6.5 6.5l-6.5 6.5z"/>
<path d="M163.9 276.7l6.5 -6.5l6.5 6.5l-6.5 6.5z"/>
<path d="M165.1 275.6l6.5 -6.5l6.5 6.5l-6.5 6.5z"/>
<path d="M166.3 274.5l6.5 -6.5l6.5 6.5l-6.5 6.5z"/>
<path d="M167.6 273.4l6.5 -6.5l6.5 6.5l-6.5 6.5z"/>
<path d="M168.8 272.4l6.5 -6.5l6.5 6.5l-6.5 6.5z"/>
<path d="M170 271.4l6.5 -6.5l6.5 6.5l-6.5 6.5z"/>
<path d="M171.2 270.4l6.5 -6.5l6.5 6.5l-6.5 6.5z"/>
<path d="M172.4 269.5l6.5 -6.5l6.5 6.5l-6.5 6.5z"/>
<path d="M173.6 268.6l6.5 -6.5l6.5 6.5l-6.5 6.5z"/>
<path d="M174.8 267.7l6.5 -6.5l6.5 6.5l-6.5 6.5z"/>
<path d="M176 266.8l6.5 -6.5l6.5 6.5l-6.5 6.5z"/>
<path d="M177.2 266l6.5 -6.5l6.5 6.5l-6.5 6.5z"/>
<path d="M178.4 265.1l6.5 -6.5l6.5 6.5l-6.5 6.5z"/>
<path d="M179.6 264.3l6.5 -6.5l6.5 6.5l-6.5 6.5z"/>
<path d="M180.8 263.5l6.5 -6.5l6.5 6.5l-6.5 6.5z"/>
<path d="M182 262.8l6.5 -6.5l6.5 6.5l-6.5 6.5z"/>
<path d="M183.3 262l6.5 -6.5l6.5 6.5l-6.5 6.5z"/>
<path d="M184.5 261.3l6.5 -6.5l6.5 6.5l-6.5 6.5z"/>
<path d="M185.7 260.5l6.5 -6.5l6.5 6.5l-6.5 6.5z"/>
<path d="M186.9 259.8l6.5 -6.5l6.5 6.5l-6.5 6.5z"/>
<path d="M188.1 259.1l6.5 -6.5l6.5 6.5l-6.5 6.5z"/>
<path d="M189.3 258.4l6.5 -6.5l6.5 6.5l-6.5 6.5z"/>
<path d="M190.5 257.7l6.5 -6.5l6.5 6.5l-6.5 6.5z"/>
<path d="M191.7 257.1l6.5 -6.5l6.5 6.5l-6.5 6.5z"/>
<path d="M192.9 256.4l6.5 -6.5l6.5 6.5l-6.5 6.5z"/>
<path d="M194.1 255.7l6.5 -6.5l6.5 6.5l-6.5 6.5z"/>
<path d="M195.3 255.1l6.5 -6.5l6.5 6.5l-6.5 6.5z"/>
<path d="M196.5 254.5l6.5 -6.5l6.5 6.5l-6.5 6.5z"/>
<path d="M197.7 253.8l6.5 -6.5l6.5 6.5l-6.5 6.5z"/>
<path d="M199 253.2l6.5 -6.5l6.5 6.5l-6.5 6.5z"/>
<path d="M200.2 252.6l6.5 -6.5l6.5 6.5l-6.5 6.5z"/>
<path d="M201.4 252l6.5 -6.5l6.5 6.5l-6.5 6.5z"/>
<path d="M202.6 251.3l6.5 -6.5l6.5 6.5l-6.5 6.5z"/>
<path d="M203.8 250.7l6.5 -6.5l6.5 6.5l-6.5 6.5z"/>
<path d="M205 250.1l6.5 -6.5l6.5 6.5l-6.5 6.5z"/>
<path d="M206.2 249.5l6.5 -6.5l6.5 6.5l-6.5 6.5z"/>
<path d="M207.4 248.9l6.5 -6.5l6.5 6.5l-6.5 6.5z"/>
<path d="M208.6 248.3l6.5 -6.5l6.5 6.5l-6.5 6.5z"/>
<path d="M209.8 247.7l6.5 -6.5l6.5 6.5l-6.5 6.5z"/>
<path d="M211 247.1l6.5 -6.5l6.5 6.5l-6.5 6.5z"/>
<path d="M212.2 246.5l6.5 -6.5l6.5 6.5l-6.5 6.5z"/>
<path d="M213.4 246l6.5 -6.5l6.5 6.5l-6.5 6.5z"/>
<path d="M214.6 245.4l6.5 -6.5l6.5 6.5l-6.5 6.5z"/>
<path d="M215.9 244.8l6.5 -6.5l6.5 6.5l-6.5 6.5z"/>
<path d="M217.1 244.2l6.5 -6.5l6.5 6.5l-6.5 6.5z"/>
<path d="M218.3 243.6l6.5 -6.5l6.5 6.5l-6.5 6.5z"/>
<path d="M219.5 243l6.5 -6.5l6.5 6.5l-6.5 6.5z"/>
<path d="M220.7 242.4l6.5 -6.5l6.5 6.5l-6.5 6.5z"/>
<path d="M221.9 241.8l6.5 -6.5l6.5 6.5l-6.5 6.5z"/>
<path d="M223.1 241.2l6.5 -6.5l6.5 6.5l-6.5 6.5z"/>
<path d="M224.3 240.6l6.5 -6.5l6.5 6.5l-6.5 6.5z"/>
<path d="M225.5 240l6.5 -6.5l6.5 6.5l-6.5 6.5z"/>
<path d="M226.7 239.4l6.5 -6.5l6.5 6.5l-6.5 6.5z"/>
<path d="M227.9 238.7l6.5 -6.5l6.5 6.5l-6.5 6.5z"/>
<path d="M229.1 238.1l6.5 -6.5l6.5 6.5l-6.5 6.5z"/>
<path d="M230.3 237.5l6.5 -6.5l6.5 6.5l-6.5 6.5z"/>
<path d="M231.6 236.8l6.5 -6.5l6.5 6.5l-6.5 6.5z"/>
<path d="M232.8 236.2l6.5 -6.5l6.5 6.5l-6.5 6.5z"/>
<path d="M234 235.5l6.5 -6.5l6.5 6.5l-6.5 6.5z"/>
<path d="M235.2 234.9l6.5 -6.5l6.5 6.5l-6.5 6.5z"/>
<path d="M236.4 234.2l6.5 -6.5l6.5 6.5l-6.5 6.5z"/>
<path d="M237.6 233.5l6.5 -6.5l6.5 6.5l-6.5 6.5z"/>
<path d="M238.8 232.8l6.5 -6.5l6.5 6.5l-6.5 6.5z"/>
<path d="M240 232.1l6.5 -6.5l6.5 6.5l-6.5 6.5z"/>
<path d="M241.2 231.4l6.5 -6.5l6.5 6.5l-6.5 6.5z"/>
<path d="M242.4 230.7l6.5 -6.5l6.5 6.5l-6.5 6.5z"/>
<path d="M243.6 230l6.5 -6.5l6.5 6.5l-6.5 6.5z"/>
<path d="M244.8 229.2l6.5 -6.5l6.5 6.5l-6.5 6.5z"/>
<path d="M246 228.4l6.5 -6.5l6.5 6.5l-6.5 6.5z"/>
<path d="M247.3 227.7l6.5 -6.5l6.5 6.5l-6.5 6.5z"/>
<path d="M248.5 226.8l6.5 -6.5l6.5 6.5l-6.5 6.5z"/>
<path d="M249.7 226l6.5 -6.5l6.5 6.5l-6.5 6.5z"/>
<path d="M250.9 225.2l6.5 -6.5l6.5 6.5l-6.5 6.5z"/>
<path d="M252.1 224.3l6.5 -6.5l6.5 6.5l-6.5 6.5z"/>
<path d="M253.3 223.4l6.5 -6.5l6.5 6.5l-6.5 6.5z"/>
<path d="M254.5 222.5l6.5 -6.5l6.5 6.5l-6.5 6.5z"/>
<path d="M255.7 221.6l6.5 -6.5l6.5 6.5l-6.5 6.5z"/>
<path d="M256.9 220.6l6.5 -6.5l6.5 6.5l-6.5 6.5z"/>
<path d="M258.1 219.7l6.5 -6.5l6.5 6.5l-6.5 6.5z"/>
<path d="M259.3 218.6l6.5 -6.5l6.5 6.5l-6.5 6.5z"/>
<path d="M260.5 217.6l6.5 -6.5l6.5 6.5l-6.5 6.5z"/>
<path d="M261.7 216.5l6.5 -6.5l6.5 6.5l-6.5 6.5z"/>
<path d="M263 215.4l6.5 -6.5l6.5 6.5l-6.5 6.5z"/>
<path d="M264.2 214.2l6.5 -6.5l6.5 6.5l-6.5 6.5z"/>
<path d="M265.4 213l6.5 -6.5l6.5 6.5l-6.5 6.5z"/>
<path d="M266.6 211.8l6.5 -6.5l6.5 6.5l-6.5 6.5z"/>
<path d="M267.8 210.5l6.5 -6.5l6.5 6.5l-6.5 6.5z"/>
<path d="M269 209.1l6.5 -6.5l6.5 6.5l-6.5 6.5z"/>
<path d="M270.2 207.7l6.5 -6.5l6.5 6.5l-6.5 6.5z"/>
<path d="M271.4 206.2l6.5 -6.5l6.5 6.5l-6.5 6.5z"/>
<path d="M272.6 204.7l6.5 -6.5l6.5 6.5l-6.5 6.5z"/>
<path d="M273.8 203.1l6.5 -6.5l6.5 6.5l-6.5 6.5z"/>
<path d="M275 201.5l6.5 -6.5l6.5 6.5l-6.5 6.5z"/>
<path d="M276.2 199.7l6.5 -6.5l6.5 6.5l-6.5 6.5z"/>
<path d="M277.4 197.9l6.5 -6.5l6.5 6.5l-6.5 6.5z"/>
<path d="M278.7 196l6.5 -6.5l6.5 6.5l-6.5 6.5z"/>
<path d="M279.9 194l6.5 -6.5l6.5 6.5l-6.5 6.5z"/>
<path d="M281.1 191.9l6.5 -6.5l6.5 6.5l-6.5 6.5z"/>
<path d="M282.3 189.7l6.5 -6.5l6.5 6.5l-6.5 6.5z"/>
<path d="M283.5 187.5l6.5 -6.5l6.5 6.5l-6.5 6.5z"/>
<path d="M284.7 185.1l6.5 -6.5l6.5 6.5l-6.5 6.5z"/>
<path d="M285.9 182.6l6.5 -6.5l6.5 6.5l-6.5 6.5z"/>
<path d="M287.1 180l6.5 -6.5l6.5 6.5l-6.5 6.5z"/>
<path d="M288.3 177.4l6.5 -6.5l6.5 6.5l-6.5 6.5z"/>
<path d="M289.5 174.7l6.5 -6.5l6.5 6.5l-6.5 6.5z"/>
<path d="M290.7 171.9l6.5 -6.5l6.5 6.5l-6.5 6.5z"/>
<path d="M291.9 169.2l6.5 -6.5l6.5 6.5l-6.5 6.5z"/>
<path d="M293.1 166.6l6.5 -6.5l6.5 6.5l-6.5 6.5z"/>
<path d="M294.3 164.1l6.5 -6.5l6.5 6.5l-6.5 6.5z"/>
<path d="M295.6 162l6.5 -6.5l6.5 6.5l-6.5 6.5z"/>
<path d="M296.8 160.4l6.5 -6.5l6.5 6.5l-6.5 6.5z"/>
<path d="M298 159.6l6.5 -6.5l6.5 6.5l-6.5 6.5z"/>
<path d="M299.2 160l6.5 -6.5l6.5 6.5l-6.5 6.5z"/>
<path d="M300.4 162l6.5 -6.5l6.5 6.5l-6.5 6.5z"/>
<path d="M301.6 166.1l6.5 -6.5l6.5 6.5l-6.5 6.5z"/>
<path d="M302.8 172.9l6.5 -6.5l6.5 6.5l-6.5 6.5z"/>
<path d="M304 182.9l6.5 -6.5l6.5 6.5l-6.5 6.5z"/>
<path d="M305.2 196.2l6.5 -6.5l6.5 6.5l-6.5 6.5z"/>
<path d="M306.4 212.7l6.5 -6.5l6.5 6.5l-6.5 6.5z"/>
<path d="M307.6 231.6l6.5 -6.5l6.5 6.5l-6.5 6.5z"/>
<path d="M308.8 251.6l6.5 -6.5l6.5 6.5l-6.5 6.5z"/>
<path d="M310 271.1l6.5 -6.5l6.5 6.5l-6.5 6.5z"/>
<path d="M311.3 288.8l6.5 -6.5l6.5 6.5l-6.5 6.5z"/>
<path d="M312.5 303.5l6.5 -6.5l6.5 6.5l-6.5 6.5z"/>
<path d="M313.7 314.9l6.5 -6.5l6.5 6.5l-6.5 6.5z"/>
<path d="M314.9 323l6.5 -6.5l6.5 6.5l-6.5 6.5z"/>
<path d="M316.1 328.2l6.5 -6.5l6.5 6.5l-6.5 6.5z"/>
<path d="M317.3 331l6.5 -6.5l6.5 6.5l-6.5 6.5z"/>
<path d="M318.5 332.1l6.5 -6.5l6.5 6.5l-6.5 6.5z"/>
<path d="M319.7 331.7l6.5 -6.5l6.5 6.5l-6.5 6.5z"/>
<path d="M320.9 330.5l6.5 -6.5l6.5 6.5l-6.5 6.5z"/>
<path d="M322.1 328.5l6.5 -6.5l6.5 6.5l-6.5 6.5z"/>
<path d="M323.3 326.2l6.5 -6.5l6.5 6.5l-6.5 6.5z"/>
<path d="M324.5 323.7l6.5 -6.5l6.5 6.5l-6.5 6.5z"/>
<path d="M325.7 321l6.5 -6.5l6.5 6.5l-6.5 6.5z"/>
<path d="M327 318.2l6.5 -6.5l6.5 6.5l-6.5 6.5z"/>
<path d="M328.2 315.5l6.5 -6.5l6.5 6.5l-6.5 6.5z"/>
<path d="M329.4 312.8l6.5 -6.5l6.5 6.5l-6.5 6.5z"/>
<path d="M330.6 310.2l6.5 -6.5l6.5 6.5l-6.5 6.5z"/>
<path d="M331.8 307.7l6.5 -6.5l6.5 6.5l-6.5 6.5z"/>
<path d="M333 305.3l6.5 -6.5l6.5 6.5l-6.5 6.5z"/>
<path d="M334.2 302.9l6.5 -6.5l6.5 6.5l-6.5 6.5z"/>
<path d="M335.4 300.7l6.5 -6.5l6.5 6.5l-6.5 6.5z"/>
<path d="M336.6 298.6l6.5 -6.5l6.5 6.5l-6.5 6.5z"/>
<path d="M337.8 296.6l6.5 -6.5l6.5 6.5l-6.5 6.5z"/>
<path d="M339 294.6l6.5 -6.5l6.5 6.5l-6.5 6.5z"/>
<path d="M340.2 292.8l6.5 -6.5l6.5 6.5l-6.5 6.5z"/>
<path d="M341.4 291l6.5 -6.5l6.5 6.5l-6.5 6.5z"/>
<path d="M342.7 289.3l6.5 -6.5l6.5 6.5l-6.5 6.5z"/>
<path d="M343.9 287.7l6.5 -6.5l6.5 6.5l-6.5 6.5z"/>
<path d="M345.1 286.1l6.5 -6.5l6.5 6.5l-6.5 6.5z"/>
<path d="M346.3 284.6l6.5 -6.5l6.5 6.5l-6.5 6.5z"/>
<path d="M347.5 283.2l6.5 -6.5l6.5 6.5l-6.5 6.5z"/>
<path d="M348.7 281.8l6.5 -6.5l6.5 6.5l-6.5 6.5z"/>
<path d="M349.9 280.5l6.5 -6.5l6.5 6.5l-6.5 6.5z"/>
<path d="M351.1 279.2l6.5 -6.5l6.5 6.5l-6.5 6.5z"/>
<path d="M352.3 278l6.5 -6.5l6.5 6.5l-6.5 6.5z"/>
<path d="M353.5 276.8l6.5 -6.5l6.5 6.5l-6.5 6.5z"/>
<path d="M354.7 275.7l6.5 -6.5l6.5 6.5l-6.5 6.5z"/>
<path d="M355.9 274.6l6.5 -6.5l6.5 6.5l-6.5 6.5z"/>
<path d="M357.1 273.5l6.5 -6.5l6.5 6.5l-6.5 6.5z"/>
<path d="M358.4 272.5l6.5 -6.5l6.5 6.5l-6.5 6.5z"/>
<path d="M359.6 271.5l6.5 -6.5l6.5 6.5l-6.5 6.5z"/>
<path d="M360.8 270.5l6.5 -6.5l6.5 6.5l-6.5 6.5z"/>
<path d="M362 269.6l6.5 -6.5l6.5 6.5l-6.5 6.5z"/>
<path d="M363.2 268.6l6.5 -6.5l6.5 6.5l-6.5 6.5z"/>
<path d="M364.4 267.8l6.5 -6.5l6.5 6.5l-6.5 6.5z"/>
<path d="M365.6 266.9l6.5 -6.5l6.5 6.5l-6.5 6.5z"/>
<path d="M366.8 266l6.5 -6.5l6.5 6.5l-6.5 6.5z"/>
<path d="M368 265.2l6.5 -6.5l6.5 6.5l-6.5 6.5z"/>
<path d="M369.2 264.4l6.5 -6.5l6.5 6.5l-6.5 6.5z"/>
<path d="M370.4 263.6l6.5 -6.5l6.5 6.5l-6.5 6.5z"/>
<path d="M371.6 262.8l6.5 -6.5l6.5 6.5l-6.5 6.5z"/>
<path d="M372.8 262.1l6.5 -6.5l6.5 6.5l-6.5 6.5z"/>
<path d="M374 261.3l6.5 -6.5l6.5 6.5l-6.5 6.5z"/>
<path d="M375.3 260.6l6.5 -6.5l6.5 6.5l-6.5 6.5z"/>
<path d="M376.5 259.9l6.5 -6.5l6.5 6.5l-6.5 6.5z"/>
<path d="M377.7 259.2l6.5 -6.5l6.5 6.5l-6.5 6.5z"/>
<path d="M378.9 258.5l6.5 -6.5l6.5 6.5l-6.5 6.5z"/>
<path d="M380.1 257.8l6.5 -6.5l6.5 6.5l-6.5 6.5z"/>
<path d="M381.3 257.1l6.5 -6.5l6.5 6.5l-6.5 6.5z"/>
<path d="M382.5 256.4l6.5 -6.5l6.5 6.5l-6.5 6.5z"/>
<path d="M383.7 255.8l6.5 -6.5l6.5 6.5l-6.5 6.5z"/>
<path d="M384.9 255.1l6.5 -6.5l6.5 6.5l-6.5 6.5z"/>
<path d="M386.1 254.5l6.5 -6.5l6.5 6.5l-6.5 6.5z"/>
<path d="M387.3 253.9l6.5 -6.5l6.5 6.5l-6.5 6.5z"/>
<path d="M388.5 253.2l6.5 -6.5l6.5 6.5l-6.5 6.5z"/>
<path d="M389.7 252.6l6.5 -6.5l6.5 6.5l-6.5 6.5z"/>
<path d="M391 252l6.5 -6.5l6.5 6.5l-6.5 6.5z"/>
<path d="M392.2 251.4l6.5 -6.5l6.5 6.5l-6.5 6.5z"/>
<path d="M393.4 250.8l6.5 -6.5l6.5 6.5l-6.5 6.5z"/>
<path d="M394.6 250.2l6.5 -6.5l6.5 6.5l-6.5 6.5z"/>
<path d="M395.8 249.6l6.5 -6.5l6.5 6.5l-6.5 6.5z"/>
<path d="M397 249l6.5 -6.5l6.5 6.5l-6.5 6.5z"/>
<path d="M398.2 248.4l6.5 -6.5l6.5 6.5l-6.5 6.5z"/>
<path d="M399.4 247.8l6.5 -6.5l6.5 6.5l-6.5 6.5z"/>
<path d="M400.6 247.2l6.5 -6.5l6.5 6.5l-6.5 6.5z"/>
<path d="M401.8 246.6l6.5 -6.5l6.5 6.5l-6.5 6.5z"/>
<path d="M403 246l6.5 -6.5l6.5 6.5l-6.5 6.5z"/>
<path d="M404.2 245.4l6.5 -6.5l6.5 6.5l-6.5 6.5z"/>
<path d="M405.4 244.8l6.5 -6.5l6.5 6.5l-6.5 6.5z"/>
<path d="M406.7 244.2l6.5 -6.5l6.5 6.5l-6.5 6.5z"/>
<path d="M407.9 243.6l6.5 -6.5l6.5 6.5l-6.5 6.5z"/>
<path d="M409.1 243l6.5 -6.5l6.5 6.5l-6.5 6.5z"/>
<path d="M410.3 242.4l6.5 -6.5l6.5 6.5l-6.5 6.5z"/>
<path d="M411.5 241.8l6.5 -6.5l6.5 6.5l-6.5 6.5z"/>
<path d="M412.7 241.2l6.5 -6.5l6.5 6.5l-6.5 6.5z"/>
<path d="M413.9 240.6l6.5 -6.5l6.5 6.5l-6.5 6.5z"/>
<path d="M415.1 240l6.5 -6.5l6.5 6.5l-6.5 6.5z"/>
<path d="M416.3 239.4l6.5 -6.5l6.5 6.5l-6.5 6.5z"/>
<path d="M417.5 238.8l6.5 -6.5l6.5 6.5l-6.5 6.5z"/>
<path d="M418.7 238.2l6.5 -6.5l6.5 6.5l-6.5 6.5z"/>
<path d="M419.9 237.5l6.5 -6.5l6.5 6.5l-6.5 6.5z"/>
<path d="M421.1 236.9l6.5 -6.5l6.5 6.5l-6.5 6.5z"/>
<path d="M422.4 236.2l6.5 -6.5l6.5 6.5l-6.5 6.5z"/>
<path d="M423.6 235.6l6.5 -6.5l6.5 6.5l-6.5 6.5z"/>
<path d="M424.8 234.9l6.5 -6.5l6.5 6.5l-6.5 6.5z"/>
<path d="M426 234.3l6.5 -6.5l6.5 6.5l-6.5 6.5z"/>
<path d="M427.2 233.6l6.5 -6.5l6.5 6.5l-6.5 6.5z"/>
<path d="M428.4 232.9l6.5 -6.5l6.5 6.5l-6.5 6.5z"/>
<path d="M429.6 232.2l6.5 -6.5l6.5 6.5l-6.5 6.5z"/>
<path d="M430.8 231.5l6.5 -6.5l6.5 6.5l-6.5 6.5z"/>
<path d="M432 230.8l6.5 -6.5l6.5 6.5l-6.5 6.5z"/>
<path d="M433.2 230l6.5 -6.5l6.5 6.5l-6.5 6.5z"/>
<path d="M434.4 229.3l6.5 -6.5l6.5 6.5l-6.5 6.5z"/>
<path d="M435.6 228.5l6.5 -6.5l6.5 6.5l-6.5 6.5z"/>
<path d="M436.8 227.7l6.5 -6.5l6.5 6.5l-6.5 6.5z"/>
<path d="M438.1 226.9l6.5 -6.5l6.5 6.5l-6.5 6.5z"/>
<path d="M439.3 226.1l6.5 -6.5l6.5 6.5l-6.5 6.5z"/>
<path d="M440.5 225.3l6.5 -6.5l6.5 6.5l-6.5 6.5z"/>
<path d="M441.7 224.4l6.5 -6.5l6.5 6.5l-6.5 6.5z"/>
<path d="M442.9 223.5l6.5 -6.5l6.5 6.5l-6.5 6.5z"/>
<path d="M444.1 222.6l6.5 -6.5l6.5 6.5l-6.5 6.5z"/>
<path d="M445.3 221.7l6.5 -6.5l6.5 6.5l-6.5 6.5z"/>
<path d="M446.5 220.7l6.5 -6.5l6.5 6.5l-6.5 6.5z"/>
<path d="M447.7 219.7l6.5 -6.5l6.5 6.5l-6.5 6.5z"/>
<path d="M448.9 218.7l6.5 -6.5l6.5 6.5l-6.5 6.5z"/>
<path d="M450.1 217.7l6.5 -6.5l6.5 6.5l-6.5 6.5z"/>
<path d="M451.3 216.6l6.5 -6.5l6.5 6.5l-6.5 6.5z"/>
<path d="M452.5 215.5l6.5 -6.5l6.5 6.5l-6.5 6.5z"/>
<path d="M453.7 214.3l6.5 -6.5l6.5 6.5l-6.5 6.5z"/>
<path d="M455 213.1l6.5 -6.5l6.5 6.5l-6.5 6.5z"/>
<path d="M456.2 211.9l6.5 -6.5l6.5 6.5l-6.5 6.5z"/>
<path d="M457.4 210.6l6.5 -6.5l6.5 6.5l-6.5 6.5z"/>
<path d="M458.6 209.2l6.5 -6.5l6.5 6.5l-6.5 6.5z"/>
<path d="M459.8 207.8l6.5 -6.5l6.5 6.5l-6.5 6.5z"/>
<path d="M461 206.4l6.5 -6.5l6.5 6.5l-6.5 6.5z"/>
<path d="M462.2 204.8l6.5 -6.5l6.5 6.5l-6.5 6.5z"/>
<path d="M463.4 203.3l6.5 -6.5l6.5 6.5l-6.5 6.5z"/>
<path d="M464.6 201.6l6.5 -6.5l6.5 6.5l-6.5 6.5z"/>
<path d="M465.8 199.9l6.5 -6.5l6.5 6.5l-6.5 6.5z"/>
<path d="M467 198.1l6.5 -6.5l6.5 6.5l-6.5 6.5z"/>
<path d="M468.2 196.2l6.5 -6.5l6.5 6.5l-6.5 6.5z"/>
<path d="M469.4 194.2l6.5 -6.5l6.5 6.5l-6.5 6.5z"/>
<path d="M470.7 192.1l6.5 -6.5l6.5 6.5l-6.5 6.5z"/>
<path d="M471.9 189.9l6.5 -6.5l6.5 6.5l-6.5 6.5z"/>
<path d="M473.1 187.6l6.5 -6.5l6.5 6.5l-6.5 6.5z"/>
<path d="M474.3 185.3l6.5 -6.5l6.5 6.5l-6.5 6.5z"/>
<path d="M475.5 182.8l6.5 -6.5l6.5 6.5l-6.5 6.5z"/>
<path d="M476.7 180.2l6.5 -6.5l6.5 6.5l-6.5 6.5z"/>
<path d="M477.9 177.6l6.5 -6.5l6.5 6.5l-6.5 6.5z"/>
<path d="M479.1 174.9l6.5 -6.5l6.5 6.5l-6.5 6.5z"/>
<path d="M480.3 172.1l6.5 -6.5l6.5 6.5l-6.5 6.5z"/>
<path d="M481.5 169.4l6.5 -6.5l6.5 6.5l-6.5 6.5z"/>
<path d="M482.7 166.8l6.5 -6.5l6.5 6.5l-6.5 6.5z"/>
<path d="M483.9 164.3l6.5 -6.5l6.5 6.5l-6.5 6.5z"/>
<path d="M485.1 162.2l6.5 -6.5l6.5 6.5l-6.5 6.5z"/>
<path d="M486.4 160.5l6.5 -6.5l6.5 6.5l-6.5 6.5z"/>
<path d="M487.6 159.7l6.5 -6.5l6.5 6.5l-6.5 6.5z"/>
<path d="M488.8 160l6.5 -6.5l6.5 6.5l-6.5 6.5z"/>
<path d="M490 161.8l6.5 -6.5l6.5 6.5l-6.5 6.5z"/>
<path d="M491.2 165.7l6.5 -6.5l6.5 6.5l-6.5 6.5z"/>
<path d="M492.4 172.3l6.5 -6.5l6.5 6.5l-6.5 6.5z"/>
<path d="M493.6 182l6.5 -6.5l6.5 6.5l-6.5 6.5z"/>
<path d="M494.8 195l6.5 -6.5l6.5 6.5l-6.5 6.5z"/>
<path d="M496 211.3l6.5 -6.5l6.5 6.5l-6.5 6.5z"/>
<path d="M497.2 230l6.5 -6.5l6.5 6.5l-6.5 6.5z"/>
<path d="M498.4 250l6.5 -6.5l6.5 6.5l-6.5 6.5z"/>
<path d="M499.6 269.6l6.5 -6.5l6.5 6.5l-6.5 6.5z"/>
<path d="M500.8 287.5l6.5 -6.5l6.5 6.5l-6.5 6.5z"/>
<path d="M502.1 302.5l6.5 -6.5l6.5 6.5l-6.5 6.5z"/>
<path d="M503.3 314.1l6.5 -6.5l6.5 6.5l-6.5 6.5z"/>
<path d="M504.5 322.5l6.5 -6.5l6.5 6.5l-6.5 6.5z"/>
<path d="M505.7 327.9l6.5 -6.5l6.5 6.5l-6.5 6.5z"/>
<path d="M506.9 330.9l6.5 -6.5l6.5 6.5l-6.5 6.5z"/>
<path d="M508.1 332l6.5 -6.5l6.5 6.5l-6.5 6.5z"/>
<path d="M509.3 331.8l6.5 -6.5l6.5 6.5l-6.5 6.5z"/>
<path d="M510.5 330.6l6.5 -6.5l6.5 6.5l-6.5 6.5z"/>
<path d="M511.7 328.7l6.5 -6.5l6.5 6.5l-6.5 6.5z"/>
<path d="M512.9 326.4l6.5 -6.5l6.5 6.5l-6.5 6.5z"/>
<path d="M514.1 323.9l6.5 -6.5l6.5 6.5l-6.5 6.5z"/>
<path d="M515.3 321.2l6.5 -6.5l6.5 6.5l-6.5 6.5z"/>
<path d="M516.5 318.4l6.5 -6.5l6.5 6.5l-6.5 6.5z"/>
<path d="M517.8 315.7l6.5 -6.5l6.5 6.5l-6.5 6.5z"/>
<path d="M519 313l6.5 -6.5l6.5 6.5l-6.5 6.5z"/>
<path d="M520.2 310.4l6.5 -6.5l6.5 6.5l-6.5 6.5z"/>
<path d="M521.4 307.9l6.5 -6.5l6.5 6.5l-6.5 6.5z"/>
<path d="M522.6 305.5l6.5 -6.5l6.5 6.5l-6.5 6.5z"/>
<path d="M523.8 303.1l6.5 -6.5l6.5 6.5l-6.5 6.5z"/>
<path d="M525 300.9l6.5 -6.5l6.5 6.5l-6.5 6.5z"/>
<path d="M526.2 298.7l6.5 -6.5l6.5 6.5l-6.5 6.5z"/>
<path d="M527.4 296.7l6.5 -6.5l6.5 6.5l-6.5 6.5z"/>
<path d="M528.6 294.8l6.5 -6.5l6.5 6.5l-6.5 6.5z"/>
<path d="M529.8 292.9l6.5 -6.5l6.5 6.5l-6.5 6.5z"/>
<path d="M531 291.1l6.5 -6.5l6.5 6.5l-6.5 6.5z"/>
<path d="M532.2 289.4l6.5 -6.5l6.5 6.5l-6.5 6.5z"/>
<path d="M533.4 287.8l6.5 -6.5l6.5 6.5l-6.5 6.5z"/>
<path d="M534.7 286.2l6.5 -6.5l6.5 6.5l-6.5 6.5z"/>
<path d="M535.9 284.7l6.5 -6.5l6.5 6.5l-6.5 6.5z"/>
<path d="M537.1 283.3l6.5 -6.5l6.5 6.5l-6.5 6.5z"/>
<path d="M538.3 281.9l6.5 -6.5l6.5 6.5l-6.5 6.5z"/>
<path d="M539.5 280.6l6.5 -6.5l6.5 6.5l-6.5 6.5z"/>
<path d="M540.7 279.3l6.5 -6.5l6.5 6.5l-6.5 6.5z"/>
<path d="M541.9 278.1l6.5 -6.5l6.5 6.5l-6.5 6.5z"/>
<path d="M543.1 276.9l6.5 -6.5l6.5 6.5l-6.5 6.5z"/>
<path d="M544.3 275.8l6.5 -6.5l6.5 6.5l-6.5 6.5z"/>
<path d="M545.5 274.7l6.5 -6.5l6.5 6.5l-6.5 6.5z"/>
<path d="M546.7 273.6l6.5 -6.5l6.5 6.5l-6.5 6.5z"/>
<path d="M547.9 272.6l6.5 -6.5l6.5 6.5l-6.5 6.5z"/>
<path d="M549.1 271.6l6.5 -6.5l6.5 6.5l-6.5 6.5z"/>
<path d="M550.4 270.6l6.5 -6.5l6.5 6.5l-6.5 6.5z"/>
<path d="M551.6 269.6l6.5 -6.5l6.5 6.5l-6.5 6.5z"/>
<path d="M552.8 268.7l6.5 -6.5l6.5 6.5l-6.5 6.5z"/>
<path d="M554 267.8l6.5 -6.5l6.5 6.5l-6.5 6.5z"/>
<path d="M555.2 267l6.5 -6.5l6.5 6.5l-6.5 6.5z"/>
<path d="M556.4 266.1l6.5 -6.5l6.5 6.5l-6.5 6.5z"/>
<path d="M557.6 265.3l6.5 -6.5l6.5 6.5l-6.5 6.5z"/>
<path d="M558.8 264.5l6.5 -6.5l6.5 6.5l-6.5 6.5z"/>
<path d="M560 263.7l6.5 -6.5l6.5 6.5l-6.5 6.5z"/>
<path d="M561.2 262.9l6.5 -6.5l6.5 6.5l-6.5 6.5z"/>
<path d="M562.4 262.1l6.5 -6.5l6.5 6.5l-6.5 6.5z"/>
<path d="M563.6 261.4l6.5 -6.5l6.5 6.5l-6.5 6.5z"/>
<path d="M564.8 260.6l6.5 -6.5l6.5 6.5l-6.5 6.5z"/>
<path d="M566.1 259.9l6.5 -6.5l6.5 6.5l-6.5 6.5z"/>
<path d="M567.3 259.2l6.5 -6.5l6.5 6.5l-6.5 6.5z"/>
<path d="M568.5 258.5l6.5 -6.5l6.5 6.5l-6.5 6.5z"/>
<path d="M569.7 257.8l6.5 -6.5l6.5 6.5l-6.5 6.5z"/>
<path d="M570.9 257.2l6.5 -6.5l6.5 6.5l-6.5 6.5z"/>
<path d="M572.1 256.5l6.5 -6.5l6.5 6.5l-6.5 6.5z"/>
<path d="M573.3 255.8l6.5 -6.5l6.5 6.5l-6.5 6.5z"/>
<path d="M574.5 255.2l6.5 -6.5l6.5 6.5l-6.5 6.5z"/>
<path d="M575.7 254.6l6.5 -6.5l6.5 6.5l-6.5 6.5z"/>
<path d="M576.9 253.9l6.5 -6.5l6.5 6.5l-6.5 6.5z"/>
<path d="M578.1 253.3l6.5 -6.5l6.5 6.5l-6.5 6.5z"/>
<path d="M579.3 252.7l6.5 -6.5l6.5 6.5l-6.5 6.5z"/>
<path d="M580.5 252l6.5 -6.5l6.5 6.5l-6.5 6.5z"/>
<path d="M581.8 251.4l6.5 -6.5l6.5 6.5l-6.5 6.5z"/>
<path d="M583 250.8l6.5 -6.5l6.5 6.5l-6.5 6.5z"/>
<path d="M584.2 250.2l6.5 -6.5l6.5 6.5l-6.5 6.5z"/>
<path d="M585.4 249.6l6.5 -6.5l6.5 6.5l-6.5 6.5z"/>
<path d="M586.6 249l6.5 -6.5l6.5 6.5l-6.5 6.5z"/>
<path d="M587.8 248.4l6.5 -6.5l6.5 6.5l-6.5 6.5z"/>
<path d="M589 247.8l6.5 -6.5l6.5 6.5l-6.5 6.5z"/>
<path d="M590.2 247.2l6.5 -6.5l6.5 6.5l-6.5 6.5z"/>
<path d="M591.4 246.6l6.5 -6.5l6.5 6.5l-6.5 6.5z"/>
<path d="M592.6 246l6.5 -6.5l6.5 6.5l-6.5 6.5z"/>
<path d="M593.8 245.5l6.5 -6.5l6.5 6.5l-6.5 6.5z"/>
<path d="M595 244.9l6.5 -6.5l6.5 6.5l-6.5 6.5z"/>
<path d="M596.2 244.3l6.5 -6.5l6.5 6.5l-6.5 6.5z"/>
<path d="M597.4 243.7l6.5 -6.5l6.5 6.5l-6.5 6.5z"/>
<path d="M598.7 243.1l6.5 -6.5l6.5 6.5l-6.5 6.5z"/>
<path d="M599.9 242.5l6.5 -6.5l6.5 6.5l-6.5 6.5z"/>
<path d="M601.1 241.9l6.5 -6.5l6.5 6.5l-6.5 6.5z"/>
<path d="M602.3 241.3l6.5 -6.5l6.5 6.5l-6.5 6.5z"/>
<path d="M603.5 240.7l6.5 -6.5l6.5 6.5l-6.5 6.5z"/>
<path d="M604.7 240.1l6.5 -6.5l6.5 6.5l-6.5 6.5z"/>
<path d="M605.9 239.5l6.5 -6.5l6.5 6.5l-6.5 6.5z"/>
<path d="M607.1 238.8l6.5 -6.5l6.5 6.5l-6.5 6.5z"/>
<path d="M608.3 238.2l6.5 -6.5l6.5 6.5l-6.5 6.5z"/>
<path d="M609.5 237.6l6.5 -6.5l6.5 6.5l-6.5 6.5z"/>
<path d="M610.7 236.9l6.5 -6.5l6.5 6.5l-6.5 6.5z"/>
<path d="M611.9 236.3l6.5 -6.5l6.5 6.5l-6.5 6.5z"/>
<path d="M613.1 235.6l6.5 -6.5l6.5 6.5l-6.5 6.5z"/>
<path d="M614.4 235l6.5 -6.5l6.5 6.5l-6.5 6.5z"/>
<path d="M615.6 234.3l6.5 -6.5l6.5 6.5l-6.5 6.5z"/>
<path d="M616.8 233.6l6.5 -6.5l6.5 6.5l-6.5 6.5z"/>
<path d="M618 232.9l6.5 -6.5l6.5 6.5l-6.5 6.5z"/>
<path d="M619.2 232.2l6.5 -6.5l6.5 6.5l-6.5 6.5z"/>
<path d="M620.4 231.5l6.5 -6.5l6.5 6.5l-6.5 6.5z"/>
<path d="M621.6 230.8l6.5 -6.5l6.5 6.5l-6.5 6.5z"/>
<path d="M622.8 230.1l6.5 -6.5l6.5 6.5l-6.5 6.5z"/>
<path d="M624 229.3l6.5 -6.5l6.5 6.5l-6.5 6.5z"/>
<path d="M625.2 228.6l6.5 -6.5l6.5 6.5l-6.5 6.5z"/>
<path d="M626.4 227.8l6.5 -6.5l6.5 6.5l-6.5 6.5z"/>
<path d="M627.6 227l6.5 -6.5l6.5 6.5l-6.5 6.5z"/>
<path d="M628.8 226.2l6.5 -6.5l6.5 6.5l-6.5 6.5z"/>
<path d="M630.1 225.3l6.5 -6.5l6.5 6.5l-6.5 6.5z"/>
<path d="M631.3 224.5l6.5 -6.5l6.5 6.5l-6.5 6.5z"/>
<path d="M632.5 223.6l6.5 -6.5l6.5 6.5l-6.5 6.5z"/>
<path d="M633.7 222.7l6.5 -6.5l6.5 6.5l-6.5 6.5z"/>
<path d="M634.9 221.8l6.5 -6.5l6.5 6.5l-6.5 6.5z"/>
<path d="M636.1 220.8l6.5 -6.5l6.5 6.5l-6.5 6.5z"/>
<path d="M637.3 219.8l6.5 -6.5l6.5 6.5l-6.5 6.5z"/>
<path d="M638.5 218.8l6.5 -6.5l6.5 6.5l-6.5 6.5z"/>
<path d="M639.7 217.8l6.5 -6.5l6.5 6.5l-6.5 6.5z"/>
<path d="M640.9 216.7l6.5 -6.5l6.5 6.5l-6.5 6.5z"/>
<path d="M642.1 215.6l6.5 -6.5l6.5 6.5l-6.5 6.5z"/>
<path d="M643.3 214.4l6.5 -6.5l6.5 6.5l-6.5 6.5z"/>
<path d="M644.5 213.2l6.5 -6.5l6.5 6.5l-6.5 6.5z"/>
<path d="M645.8 212l6.5 -6.5l6.5 6.5l-6.5 6.5z"/>
<path d="M647 210.7l6.5 -6.5l6.5 6.5l-6.5 6.5z"/>
<path d="M648.2 209.3l6.5 -6.5l6.5 6.5l-6.5 6.5z"/>
<path d="M649.4 207.9l6.5 -6.5l6.5 6.5l-6.5 6.5z"/>
<path d="M650.6 206.5l6.5 -6.5l6.5 6.5l-6.5 6.5z"/>
<path d="M651.8 205l6.5 -6.5l6.5 6.5l-6.5 6.5z"/>
<path d="M653 203.4l6.5 -6.5l6.5 6.5l-6.5 6.5z"/>
<path d="M654.2 201.7l6.5 -6.5l6.5 6.5l-6.5 6.5z"/>
<path d="M655.4 200l6.5 -6.5l6.5 6.5l-6.5 6.5z"/>
<path d="M656.6 198.2l6.5 -6.5l6.5 6.5l-6.5 6.5z"/>
<path d="M657.8 196.3l6.5 -6.5l6.5 6.5l-6.5 6.5z"/>
<path d="M659 194.3l6.5 -6.5l6.5 6.5l-6.5 6.5z"/>
<path d="M660.2 192.3l6.5 -6.5l6.5 6.5l-6.5 6.5z"/>
<path d="M661.5 190.1l6.5 -6.5l6.5 6.5l-6.5 6.5z"/>
<path d="M662.7 187.8l6.5 -6.5l6.5 6.5l-6.5 6.5z"/>
<path d="M663.9 185.5l6.5 -6.5l6.5 6.5l-6.5 6.5z"/>
<path d="M665.1 183l6.5 -6.5l6.5 6.5l-6.5 6.5z"/>
<path d="M666.3 180.4l6.5 -6.5l6.5 6.5l-6.5 6.5z"/>
<path d="M667.5 177.8l6.5 -6.5l6.5 6.5l-6.5 6.5z"/>
<path d="M668.7 175.1l6.5 -6.5l6.5 6.5l-6.5 6.5z"/>
<path d="M669.9 172.4l6.5 -6.5l6.5 6.5l-6.5 6.5z"/>
<path d="M671.1 169.6l6.5 -6.5l6.5 6.5l-6.5 6.5z"/>
<path d="M672.3 167l6.5 -6.5l6.5 6.5l-6.5 6.5z"/>
<path d="M673.5 164.5l6.5 -6.5l6.5 6.5l-6.5 6.5z"/>
<path d="M674.7 162.3l6.5 -6.5l6.5 6.5l-6.5 6.5z"/>
<path d="M675.9 160.6l6.5 -6.5l6.5 6.5l-6.5 6.5z"/>
<path d="M677.1 159.7l6.5 -6.5l6.5 6.5l-6.5 6.5z"/>
<path d="M678.4 159.9l6.5 -6.5l6.5 6.5l-6.5 6.5z"/>
<path d="M679.6 161.6l6.5 -6.5l6.5 6.5l-6.5 6.5z"/>
<path d="M680.8 165.3l6.5 -6.5l6.5 6.5l-6.5 6.5z"/>
<path d="M682 171.7l6.5 -6.5l6.5 6.5l-6.5 6.5z"/>
<path d="M683.2 181.1l6.5 -6.5l6.5 6.5l-6.5 6.5z"/>
<path d="M684.4 193.9l6.5 -6.5l6.5 6.5l-6.5 6.5z"/>
<path d="M685.6 209.9l6.5 -6.5l6.5 6.5l-6.5 6.5z"/>
<path d="M686.8 228.5l6.5 -6.5l6.5 6.5l-6.5 6.5z"/>
<path d="M688 248.4l6.5 -6.5l6.5 6.5l-6.5 6.5z"/>
<path d="M689.2 268.1l6.5 -6.5l6.5 6.5l-6.5 6.5z"/>
<path d="M690.4 286.1l6.5 -6.5l6.5 6.5l-6.5 6.5z"/>
<path d="M691.6 301.4l6.5 -6.5l6.5 6.5l-6.5 6.5z"/>
<path d="M692.8 313.3l6.5 -6.5l6.5 6.5l-6.5 6.5z"/>
<path d="M694.1 321.9l6.5 -6.5l6.5 6.5l-6.5 6.5z"/>
<path d="M695.3 327.5l6.5 -6.5l6.5 6.5l-6.5 6.5z"/>
<path d="M696.5 330.7l6.5 -6.5l6.5 6.5l-6.5 6.5z"/>
<path d="M697.7 332l6.5 -6.5l6.5 6.5l-6.5 6.5z"/>
<path d="M698.9 331.9l6.5 -6.5l6.5 6.5l-6.5 6.5z"/>
<path d="M700.1 330.7l6.5 -6.5l6.5 6.5l-6.5 6.5z"/>
<path d="M701.3 328.9l6.5 -6.5l6.5 6.5l-6.5 6.5z"/>
<path d="M702.5 326.6l6.5 -6.5l6.5 6.5l-6.5 6.5z"/>
<path d="M703.7 324.1l6.5 -6.5l6.5 6.5l-6.5 6.5z"/>
<path d="M704.9 321.4l6.5 -6.5l6.5 6.5l-6.5 6.5z"/>
<path d="M706.1 318.7l6.5 -6.5l6.5 6.5l-6.5 6.5z"/>
<path d="M707.3 315.9l6.5 -6.5l6.5 6.5l-6.5 6.5z"/>
<path d="M708.5 313.2l6.5 -6.5l6.5 6.5l-6.5 6.5z"/>
<path d="M709.8 310.6l6.5 -6.5l6.5 6.5l-6.5 6.5z"/>
<path d="M711 308.1l6.5 -6.5l6.5 6.5l-6.5 6.5z"/>
<path d="M712.2 305.6l6.5 -6.5l6.5 6.5l-6.5 6.5z"/>
<path d="M713.4 303.3l6.5 -6.5l6.5 6.5l-6.5 6.5z"/>
<path d="M714.6 301.1l6.5 -6.5l6.5 6.5l-6.5 6.5z"/>
<path d="M715.8 298.9l6.5 -6.5l6.5 6.5l-6.5 6.5z"/>
<path d="M717 296.9l6.5 -6.5l6.5 6.5l-6.5 6.5z"/>
<path d="M718.2 294.9l6.5 -6.5l6.5 6.5l-6.5 6.5z"/>
<path d="M719.4 293l6.5 -6.5l6.5 6.5l-6.5 6.5z"/>
<path d="M720.6 291.3l6.5 -6.5l6.5 6.5l-6.5 6.5z"/>
<path d="M721.8 289.5l6.5 -6.5l6.5 6.5l-6.5 6.5z"/>
<path d="M723 287.9l6.5 -6.5l6.5 6.5l-6.5 6.5z"/>
<path d="M724.2 286.4l6.5 -6.5l6.5 6.5l-6.5 6.5z"/>
<path d="M725.5 284.9l6.5 -6.5l6.5 6.5l-6.5 6.5z"/>
<path d="M726.7 283.4l6.5 -6.5l6.5 6.5l-6.5 6.5z"/>
<path d="M727.9 282l6.5 -6.5l6.5 6.5l-6.5 6.5z"/>
<path d="M729.1 280.7l6.5 -6.5l6.5 6.5l-6.5 6.5z"/>
<path d="M730.3 279.4l6.5 -6.5l6.5 6.5l-6.5 6.5z"/>
<path d="M731.5 278.2l6.5 -6.5l6.5 6.5l-6.5 6.5z"/>
<path d="M732.7 277l6.5 -6.5l6.5 6.5l-6.5 6.5z"/>
<path d="M733.9 275.9l6.5 -6.5l6.5 6.5l-6.5 6.5z"/>
<path d="M735.1 274.8l6.5 -6.5l6.5 6.5l-6.5 6.5z"/>
<path d="M736.3 273.7l6.5 -6.5l6.5 6.5l-6.5 6.5z"/>
<path d="M737.5 272.6l6.5 -6.5l6.5 6.5l-6.5 6.5z"/>
<path d="M738.7 271.6l6.5 -6.5l6.5 6.5l-6.5 6.5z"/>
<path d="M739.9 270.7l6.5 -6.5l6.5 6.5l-6.5 6.5z"/>
<path d="M741.2 269.7l6.5 -6.5l6.5 6.5l-6.5 6.5z"/>
<path d="M742.4 268.8l6.5 -6.5l6.5 6.5l-6.5 6.5z"/>
<path d="M743.6 267.9l6.5 -6.5l6.5 6.5l-6.5 6.5z"/>
<path d="M744.8 267l6.5 -6.5l6.5 6.5l-6.5 6.5z"/>
<path d="M746 266.2l6.5 -6.5l6.5 6.5l-6.5 6.5z"/>
<path d="M747.2 265.3l6.5 -6.5l6.5 6.5l-6.5 6.5z"/>
<path d="M748.4 264.5l6.5 -6.5l6.5 6.5l-6.5 6.5z"/>
<path d="M749.6 263.7l6.5 -6.5l6.5 6.5l-6.5 6.5z"/>
<path d="M750.8 262.9l6.5 -6.5l6.5 6.5l-6.5 6.5z"/>
<path d="M752 262.2l6.5 -6.5l6.5 6.5l-6.5 6.5z"/>
<path d="M753.2 261.4l6.5 -6.5l6.5 6.5l-6.5 6.5z"/>
<path d="M754.4 260.7l6.5 -6.5l6.5 6.5l-6.5 6.5z"/>
<path d="M755.6 260l6.5 -6.5l6.5 6.5l-6.5 6.5z"/>
<path d="M756.8 259.3l6.5 -6.5l6.5 6.5l-6.5 6.5z"/>
<path d="M758.1 258.6l6.5 -6.5l6.5 6.5l-6.5 6.5z"/>
<path d="M759.3 257.9l6.5 -6.5l6.5 6.5l-6.5 6.5z"/>
<path d="M760.5 257.2l6.5 -6.5l6.5 6.5l-6.5 6.5z"/>
<path d="M761.7 256.6l6.5 -6.5l6.5 6.5l-6.5 6.5z"/>
<path d="M762.9 255.9l6.5 -6.5l6.5 6.5l-6.5 6.5z"/>
<path d="M764.1 255.2l6.5 -6.5l6.5 6.5l-6.5 6.5z"/>
<path d="M765.3 254.6l6.5 -6.5l6.5 6.5l-6.5 6.5z"/>
<path d="M766.5 254l6.5 -6.5l6.5 6.5l-6.5 6.5z"/>
<path d="M767.7 253.3l6.5 -6.5l6.5 6.5l-6.5 6.5z"/>
<path d="M768.9 252.7l6.5 -6.5l6.5 6.5l-6.5 6.5z"/>
<path d="M770.1 252.1l6.5 -6.5l6.5 6.5l-6.5 6.5z"/>
<path d="M771.3 251.5l6.5 -6.5l6.5 6.5l-6.5 6.5z"/>
<path d="M772.5 250.9l6.5 -6.5l6.5 6.5l-6.5 6.5z"/>
<path d="M773.8 250.3l6.5 -6.5l6.5 6.5l-6.5 6.5z"/>
<path d="M775 249.7l6.5 -6.5l6.5 6.5l-6.5 6.5z"/>
<path d="M776.2 249.1l6.5 -6.5l6.5 6.5l-6.5 6.5z"/>
<path d="M777.4 248.5l6.5 -6.5l6.5 6.5l-6.5 6.5z"/>
<path d="M778.6 247.9l6.5 -6.5l6.5 6.5l-6.5 6.5z"/>
<path d="M779.8 247.3l6.5 -6.5l6.5 6.5l-6.5 6.5z"/>
<path d="M781 246.7l6.5 -6.5l6.5 6.5l-6.5 6.5z"/>
<path d="M782.2 246.1l6.5 -6.5l6.5 6.5l-6.5 6.5z"/>
<path d="M783.4 245.5l6.5 -6.5l6.5 6.5l-6.5 6.5z"/>
<path d="M784.6 244.9l6.5 -6.5l6.5 6.5l-6.5 6.5z"/>
<path d="M785.8 244.3l6.5 -6.5l6.5 6.5l-6.5 6.5z"/>
<path d="M787 243.7l6.5 -6.5l6.5 6.5l-6.5 6.5z"/>
<path d="M788.2 243.1l6.5 -6.5l6.5 6.5l-6.5 6.5z"/>
<path d="M789.5 242.5l6.5 -6.5l6.5 6.5l-6.5 6.5z"/>
<path d="M790.7 241.9l6.5 -6.5l6.5 6.5l-6.5 6.5z"/>
<path d="M791.9 241.3l6.5 -6.5l6.5 6.5l-6.5 6.5z"/>
<path d="M793.1 240.7l6.5 -6.5l6.5 6.5l-6.5 6.5z"/>
<path d="M794.3 240.1l6.5 -6.5l6.5 6.5l-6.5 6.5z"/>
<path d="M795.5 239.5l6.5 -6.5l6.5 6.5l-6.5 6.5z"/>
<path d="M796.7 238.9l6.5 -6.5l6.5 6.5l-6.5 6.5z"/>
<path d="M797.9 238.3l6.5 -6.5l6.5 6.5l-6.5 6.5z"/>
<path d="M799.1 237.6l6.5 -6.5l6.5 6.5l-6.5 6.5z"/>
<path d="M800.3 237l6.5 -6.5l6.5 6.5l-6.5 6.5z"/>
<path d="M801.5 236.3l6.5 -6.5l6.5 6.5l-6.5 6.5z"/>
<path d="M802.7 235.7l6.5 -6.5l6.5 6.5l-6.5 6.5z"/>
<path d="M803.9 235l6.5 -6.5l6.5 6.5l-6.5 6.5z"/>
<path d="M805.2 234.4l6.5 -6.5l6.5 6.5l-6.5 6.5z"/>
<path d="M806.4 233.7l6.5 -6.5l6.5 6.5l-6.5 6.5z"/>
<path d="M807.6 233l6.5 -6.5l6.5 6.5l-6.5 6.5z"/>
<path d="M808.8 232.3l6.5 -6.5l6.5 6.5l-6.5 6.5z"/>
<path d="M810 231.6l6.5 -6.5l6.5 6.5l-6.5 6.5z"/>
<path d="M811.2 230.9l6.5 -6.5l6.5 6.5l-6.5 6.5z"/>
<path d="M812.4 230.1l6.5 -6.5l6.5 6.5l-6.5 6.5z"/>
<path d="M813.6 229.4l6.5 -6.5l6.5 6.5l-6.5 6.5z"/>
<path d="M814.8 228.6l6.5 -6.5l6.5 6.5l-6.5 6.5z"/>
<path d="M816 227.8l6.5 -6.5l6.5 6.5l-6.5 6.5z"/>
<path d="M817.2 227l6.5 -6.5l6.5 6.5l-6.5 6.5z"/>
<path d="M818.4 226.2l6.5 -6.5l6.5 6.5l-6.5 6.5z"/>
<path d="M819.6 225.4l6.5 -6.5l6.5 6.5l-6.5 6.5z"/>
<path d="M820.9 224.5l6.5 -6.5l6.5 6.5l-6.5 6.5z"/>
<path d="M822.1 223.7l6.5 -6.5l6.5 6.5l-6.5 6.5z"/>
<path d="M823.3 222.8l6.5 -6.5l6.5 6.5l-6.5 6.5z"/>
<path d="M824.5 221.8l6.5 -6.5l6.5 6.5l-6.5 6.5z"/>
<path d="M825.7 220.9l6.5 -6.5l6.5 6.5l-6.5 6.5z"/>
<path d="M826.9 219.9l6.5 -6.5l6.5 6.5l-6.5 6.5z"/>
<path d="M828.1 218.9l6.5 -6.5l6.5 6.5l-6.5 6.5z"/>
<path d="M829.3 217.8l6.5 -6.5l6.5 6.5l-6.5 6.5z"/>
<path d="M830.5 216.8l6.5 -6.5l6.5 6.5l-6.5 6.5z"/>
<path d="M831.7 215.6l6.5 -6.5l6.5 6.5l-6.5 6.5z"/>
<path d="M832.9 214.5l6.5 -6.5l6.5 6.5l-6.5 6.5z"/>
<path d="M834.1 213.3l6.5 -6.5l6.5 6.5l-6.5 6.5z"/>
<path d="M835.3 212.1l6.5 -6.5l6.5 6.5l-6.5 6.5z"/>
<path d="M836.5 210.8l6.5 -6.5l6.5 6.5l-6.5 6.5z"/>
<path d="M837.8 209.4l6.5 -6.5l6.5 6.5l-6.5 6.5z"/>
<path d="M839 208l6.5 -6.5l6.5 6.5l-6.5 6.5z"/>
<path d="M840.2 206.6l6.5 -6.5l6.5 6.5l-6.5 6.5z"/>
<path d="M841.4 205.1l6.5 -6.5l6.5 6.5l-6.5 6.5z"/>
<path d="M842.6 203.5l6.5 -6.5l6.5 6.5l-6.5 6.5z"/>
<path d="M843.8 201.9l6.5 -6.5l6.5 6.5l-6.5 6.5z"/>
<path d="M845 200.1l6.5 -6.5l6.5 6.5l-6.5 6.5z"/>
<path d="M846.2 198.3l6.5 -6.5l6.5 6.5l-6.5 6.5z"/>
<path d="M847.4 196.5l6.5 -6.5l6.5 6.5l-6.5 6.5z"/>
<path d="M848.6 194.5l6.5 -6.5l6.5 6.5l-6.5 6.5z"/>
<path d="M849.8 192.4l6.5 -6.5l6.5 6.5l-6.5 6.5z"/>
<path d="M851 190.3l6.5 -6.5l6.5 6.5l-6.5 6.5z"/>
<path d="M852.2 188l6.5 -6.5l6.5 6.5l-6.5 6.5z"/>
<path d="M853.5 185.6l6.5 -6.5l6.5 6.5l-6.5 6.5z"/>
<path d="M854.7 183.2l6.5 -6.5l6.5 6.5l-6.5 6.5z"/>
<path d="M855.9 180.6l6.5 -6.5l6.5 6.5l-6.5 6.5z"/>
<path d="M857.1 178l6.5 -6.5l6.5 6.5l-6.5 6.5z"/>
<path d="M858.3 175.3l6.5 -6.5l6.5 6.5l-6.5 6.5z"/>
<path d="M859.5 172.6l6.5 -6.5l6.5 6.5l-6.5 6.5z"/>
<path d="M860.7 169.8l6.5 -6.5l6.5 6.5l-6.5 6.5z"/>
<path d="M861.9 167.2l6.5 -6.5l6.5 6.5l-6.5 6.5z"/>
<path d="M863.1 164.7l6.5 -6.5l6.5 6.5l-6.5 6.5z"/>
<path d="M864.3 162.5l6.5 -6.5l6.5 6.5l-6.5 6.5z"/>
<path d="M865.5 160.7l6.5 -6.5l6.5 6.5l-6.5 6.5z"/>
<path d="M866.7 159.7l6.5 -6.5l6.5 6.5l-6.5 6.5z"/>
<path d="M867.9 159.8l6.5 -6.5l6.5 6.5l-6.5 6.5z"/>
<path d="M869.2 161.4l6.5 -6.5l6.5 6.5l-6.5 6.5z"/>
<path d="M870.4 164.9l6.5 -6.5l6.5 6.5l-6.5 6.5z"/>
<path d="M871.6 171l6.5 -6.5l6.5 6.5l-6.5 6.5z"/>
<path d="M872.8 180.2l6.5 -6.5l6.5 6.5l-6.5 6.5z"/>
<path d="M874 192.7l6.5 -6.5l6.5 6.5l-6.5 6.5z"/>
<path d="M875.2 208.5l6.5 -6.5l6.5 6.5l-6.5 6.5z"/>
<path d="M876.4 226.9l6.5 -6.5l6.5 6.5l-6.5 6.5z"/>
<path d="M877.6 246.8l6.5 -6.5l6.5 6.5l-6.5 6.5z"/>
<path d="M878.8 266.6l6.5 -6.5l6.5 6.5l-6.5 6.5z"/>
<path d="M880 284.8l6.5 -6.5l6.5 6.5l-6.5 6.5z"/>
<path d="M881.2 300.3l6.5 -6.5l6.5 6.5l-6.5 6.5z"/>
<path d="M882.4 312.5l6.5 -6.5l6.5 6.5l-6.5 6.5z"/>
<path d="M883.6 321.3l6.5 -6.5l6.5 6.5l-6.5 6.5z"/>
<path d="M884.9 327.2l6.5 -6.5l6.5 6.5l-6.5 6.5z"/>
<path d="M886.1 330.5l6.5 -6.5l6.5 6.5l-6.5 6.5z"/>
<path d="M887.3 332l6.5 -6.5l6.5 6.5l-6.5 6.5z"/>
<path d="M888.5 331.9l6.5 -6.5l6.5 6.5l-6.5 6.5z"/>
<path d="M889.7 330.8l6.5 -6.5l6.5 6.5l-6.5 6.5z"/>
<path d="M890.9 329l6.5 -6.5l6.5 6.5l-6.5 6.5z"/>
<path d="M892.1 326.8l6.5 -6.5l6.5 6.5l-6.5 6.5z"/>
<path d="M893.3 324.3l6.5 -6.5l6.5 6.5l-6.5 6.5z"/>
<path d="M894.5 321.6l6.5 -6.5l6.5 6.5l-6.5 6.5z"/>
<path d="M895.7 318.9l6.5 -6.5l6.5 6.5l-6.5 6.5z"/>
<path d="M896.9 316.1l6.5 -6.5l6.5 6.5l-6.5 6.5z"/>
<path d="M898.1 313.4l6.5 -6.5l6.5 6.5l-6.5 6.5z"/>
<path d="M899.3 310.8l6.5 -6.5l6.5 6.5l-6.5 6.5z"/>
<path d="M900.6 308.3l6.5 -6.5l6.5 6.5l-6.5 6.5z"/>
<path d="M901.8 305.8l6.5 -6.5l6.5 6.5l-6.5 6.5z"/>
<path d="M903 303.5l6.5 -6.5l6.5 6.5l-6.5 6.5z"/>
<path d="M904.2 301.2l6.5 -6.5l6.5 6.5l-6.5 6.5z"/>
<path d="M905.4 299.1l6.5 -6.5l6.5 6.5l-6.5 6.5z"/>
<path d="M906.6 297l6.5 -6.5l6.5 6.5l-6.5 6.5z"/>
<path d="M907.8 295.1l6.5 -6.5l6.5 6.5l-6.5 6.5z"/>
<path d="M909 293.2l6.5 -6.5l6.5 6.5l-6.5 6.5z"/>
<path d="M910.2 291.4l6.5 -6.5l6.5 6.5l-6.5 6.5z"/>
<path d="M911.4 289.7l6.5 -6.5l6.5 6.5l-6.5 6.5z"/>
<path d="M912.6 288l6.5 -6.5l6.5 6.5l-6.5 6.5z"/>
<path d="M913.8 286.5l6.5 -6.5l6.5 6.5l-6.5 6.5z"/>
<path d="M915 285l6.5 -6.5l6.5 6.5l-6.5 6.5z"/>
<path d="M916.2 283.5l6.5 -6.5l6.5 6.5l-6.5 6.5z"/>
<path d="M917.5 282.1l6.5 -6.5l6.5 6.5l-6.5 6.5z"/>
<path d="M918.7 280.8l6.5 -6.5l6.5 6.5l-6.5 6.5z"/>
<path d="M919.9 279.5l6.5 -6.5l6.5 6.5l-6.5 6.5z"/>
<path d="M921.1 278.3l6.5 -6.5l6.5 6.5l-6.5 6.5z"/>
<path d="M922.3 277.1l6.5 -6.5l6.5 6.5l-6.5 6.5z"/>
<path d="M923.5 275.9l6.5 -6.5l6.5 6.5l-6.5 6.5z"/>
<path d="M924.7 274.8l6.5 -6.5l6.5 6.5l-6.5 6.5z"/>
<path d="M925.9 273.8l6.5 -6.5l6.5 6.5l-6.5 6.5z"/>
<path d="M927.1 272.7l6.5 -6.5l6.5 6.5l-6.5 6.5z"/>
<path d="M928.3 271.7l6.5 -6.5l6.5 6.5l-6.5 6.5z"/>
<path d="M929.5 270.7l6.5 -6.5l6.5 6.5l-6.5 6.5z"/>
<path d="M930.7 269.8l6.5 -6.5l6.5 6.5l-6.5 6.5z"/>
<path d="M931.9 268.9l6.5 -6.5l6.5 6.5l-6.5 6.5z"/>
<path d="M933.2 268l6.5 -6.5l6.5 6.5l-6.5 6.5z"/>
<path d="M934.4 267.1l6.5 -6.5l6.5 6.5l-6.5 6.5z"/>
<path d="M935.6 266.2l6.5 -6.5l6.5 6.5l-6.5 6.5z"/>
<path d="M936.8 265.4l6.5 -6.5l6.5 6.5l-6.5 6.5z"/>
<path d="M938 264.6l6.5 -6.5l6.5 6.5l-6.5 6.5z"/>
<path d="M939.2 263.8l6.5 -6.5l6.5 6.5l-6.5 6.5z"/>
<path d="M940.4 263l6.5 -6.5l6.5 6.5l-6.5 6.5z"/>
</g>
<path d="M101.6 184.9L102.8 187.4L104 189.9L105.2 192.6L106.4 195.4L107.6 198.2L108.8 201.1L110.1 204.1L111.3 207.2L112.5 210.3L113.7 213.4L114.9 216.7L116.1 219.9L117.3 223.2L118.5 226.6L119.7 230L120.9 233.4L122.1 236.8L123.3 240.2L124.5 243.7L125.8 247.1L127 250.6L128.2 254L129.4 257.4L130.6 260.8L131.8 264.2L133 267.6L134.2 270.9L135.4 274.2L136.6 277.4L137.8 280.6L139 283.7L140.2 286.8L141.4 289.8L142.7 292.7L143.9 295.6L145.1 298.4L146.3 301L147.5 303.7L148.7 306.2L149.9 308.6L151.1 310.9L152.3 313.1L153.5 315.2L154.7 317.2L155.9 319.1L157.1 320.8L158.4 322.5L159.6 324L160.8 325.4L162 326.7L163.2 327.8L164.4 328.8L165.6 329.7L166.8 330.4L168 331L169.2 331.5L170.4 331.8L171.6 332L172.8 332.1L174.1 332L175.3 331.8L176.5 331.4L177.7 330.9L178.9 330.3L180.1 329.5L181.3 328.6L182.5 327.6L183.7 326.4L184.9 325.1L186.1 323.7L187.3 322.2L188.5 320.5L189.8 318.7L191 316.8L192.2 314.8L193.4 312.7L194.6 310.5L195.8 308.1L197 305.7L198.2 303.2L199.4 300.5L200.6 297.8L201.8 295L203 292.2L204.2 289.2L205.5 286.2L206.7 283.1L207.9 280L209.1 276.8L210.3 273.5L211.5 270.3L212.7 266.9L213.9 263.6L215.1 260.2L216.3 256.8L217.5 253.3L218.7 249.9L219.9 246.5L221.1 243L222.4 239.6L223.6 236.1L224.8 232.7L226 229.3L227.2 225.9L228.4 222.6L229.6 219.3L230.8 216L232 212.8L233.2 209.7L234.4 206.6L235.6 203.5L236.8 200.6L238.1 197.7L239.3 194.8L240.5 192.1L241.7 189.4L242.9 186.9L244.1 184.4L245.3 182L246.5 179.8L247.7 177.6L248.9 175.6L250.1 173.6L251.3 171.8L252.5 170.1L253.8 168.5L255 167L256.2 165.7L257.4 164.5L258.6 163.4L259.8 162.5L261 161.7L262.2 161L263.4 160.4L264.6 160L265.8 159.8L267 159.6L268.2 159.6L269.5 159.8L270.7 160.1L271.9 160.5L273.1 161L274.3 161.7L275.5 162.6L276.7 163.5L277.9 164.6L279.1 165.8L280.3 167.2L281.5 168.7L282.7 170.3L283.9 172L285.2 173.8L286.4 175.8L287.6 177.8L288.8 180L290 182.3L291.2 184.7L292.4 187.2L293.6 189.7L294.8 192.4L296 195.1L297.2 198L298.4 200.9L299.6 203.9L300.8 206.9L302.1 210L303.3 213.2L304.5 216.4L305.7 219.7L306.9 223L308.1 226.3L309.3 229.7L310.5 233.1L311.7 236.5L312.9 239.9L314.1 243.4L315.3 246.8L316.5 250.3L317.8 253.7L319 257.2L320.2 260.6L321.4 263.9L322.6 267.3L323.8 270.6L325 273.9L326.2 277.1L327.4 280.3L328.6 283.5L329.8 286.5L331 289.6L332.2 292.5L333.5 295.4L334.7 298.1L335.9 300.8L337.1 303.4L338.3 306L339.5 308.4L340.7 310.7L341.9 312.9L343.1 315.1L344.3 317.1L345.5 318.9L346.7 320.7L347.9 322.4L349.2 323.9L350.4 325.3L351.6 326.6L352.8 327.7L354 328.7L355.2 329.6L356.4 330.4L357.6 331L358.8 331.5L360 331.8L361.2 332L362.4 332.1L363.6 332L364.9 331.8L366.1 331.5L367.3 331L368.5 330.4L369.7 329.6L370.9 328.7L372.1 327.7L373.3 326.5L374.5 325.3L375.7 323.8L376.9 322.3L378.1 320.7L379.3 318.9L380.5 317L381.8 315L383 312.9L384.2 310.6L385.4 308.3L386.6 305.9L387.8 303.4L389 300.8L390.2 298.1L391.4 295.3L392.6 292.4L393.8 289.5L395 286.4L396.2 283.4L397.5 280.2L398.7 277L399.9 273.8L401.1 270.5L402.3 267.2L403.5 263.8L404.7 260.5L405.9 257L407.1 253.6L408.3 250.2L409.5 246.7L410.7 243.3L411.9 239.8L413.2 236.4L414.4 233L415.6 229.6L416.8 226.2L418 222.9L419.2 219.6L420.4 216.3L421.6 213.1L422.8 209.9L424 206.8L425.2 203.8L426.4 200.8L427.6 197.9L428.9 195.1L430.1 192.3L431.3 189.7L432.5 187.1L433.7 184.6L434.9 182.2L436.1 180L437.3 177.8L438.5 175.7L439.7 173.8L440.9 171.9L442.1 170.2L443.3 168.6L444.6 167.1L445.8 165.8L447 164.6L448.2 163.5L449.4 162.5L450.6 161.7L451.8 161L453 160.5L454.2 160.1L455.4 159.8L456.6 159.6L457.8 159.6L459 159.8L460.2 160L461.5 160.5L462.7 161L463.9 161.7L465.1 162.5L466.3 163.4L467.5 164.5L468.7 165.7L469.9 167.1L471.1 168.5L472.3 170.1L473.5 171.8L474.7 173.7L475.9 175.6L477.2 177.7L478.4 179.8L479.6 182.1L480.8 184.5L482 187L483.2 189.5L484.4 192.2L485.6 194.9L486.8 197.7L488 200.6L489.2 203.6L490.4 206.7L491.6 209.8L492.9 212.9L494.1 216.1L495.3 219.4L496.5 222.7L497.7 226L498.9 229.4L500.1 232.8L501.3 236.2L502.5 239.7L503.7 243.1L504.9 246.6L506.1 250L507.3 253.5L508.6 256.9L509.8 260.3L511 263.7L512.2 267L513.4 270.4L514.6 273.7L515.8 276.9L517 280.1L518.2 283.2L519.4 286.3L520.6 289.3L521.8 292.3L523 295.1L524.2 297.9L525.5 300.6L526.7 303.2L527.9 305.8L529.1 308.2L530.3 310.5L531.5 312.8L532.7 314.9L533.9 316.9L535.1 318.8L536.3 320.6L537.5 322.2L538.7 323.8L539.9 325.2L541.2 326.5L542.4 327.6L543.6 328.7L544.8 329.6L546 330.3L547.2 330.9L548.4 331.4L549.6 331.8L550.8 332L552 332.1L553.2 332L554.4 331.8L555.6 331.5L556.9 331L558.1 330.4L559.3 329.7L560.5 328.8L561.7 327.8L562.9 326.6L564.1 325.4L565.3 324L566.5 322.4L567.7 320.8L568.9 319L570.1 317.1L571.3 315.2L572.6 313L573.8 310.8L575 308.5L576.2 306.1L577.4 303.6L578.6 301L579.8 298.3L581 295.5L582.2 292.6L583.4 289.7L584.6 286.7L585.8 283.6L587 280.5L588.3 277.3L589.5 274.1L590.7 270.8L591.9 267.5L593.1 264.1L594.3 260.7L595.5 257.3L596.7 253.9L597.9 250.5L599.1 247L600.3 243.6L601.5 240.1L602.7 236.7L603.9 233.3L605.2 229.9L606.4 226.5L607.6 223.1L608.8 219.8L610 216.6L611.2 213.3L612.4 210.2L613.6 207.1L614.8 204L616 201L617.2 198.1L618.4 195.3L619.6 192.5L620.9 189.9L622.1 187.3L623.3 184.8L624.5 182.4L625.7 180.1L626.9 177.9L628.1 175.9L629.3 173.9L630.5 172.1L631.7 170.3L632.9 168.7L634.1 167.3L635.3 165.9L636.6 164.7L637.8 163.6L639 162.6L640.2 161.8L641.4 161.1L642.6 160.5L643.8 160.1L645 159.8L646.2 159.6L647.4 159.6L648.6 159.8L649.8 160L651 160.4L652.3 160.9L653.5 161.6L654.7 162.4L655.9 163.4L657.1 164.4L658.3 165.6L659.5 167L660.7 168.4L661.9 170L663.1 171.7L664.3 173.5L665.5 175.5L666.7 177.5L668 179.7L669.2 181.9L670.4 184.3L671.6 186.8L672.8 189.3L674 192L675.2 194.7L676.4 197.5L677.6 200.4L678.8 203.4L680 206.4L681.2 209.5L682.4 212.7L683.6 215.9L684.9 219.1L686.1 222.4L687.3 225.8L688.5 229.1L689.7 232.5L690.9 236L692.1 239.4L693.3 242.8L694.5 246.3L695.7 249.7L696.9 253.2L698.1 256.6L699.3 260L700.6 263.4L701.8 266.8L703 270.1L704.2 273.4L705.4 276.6L706.6 279.8L707.8 283L709 286.1L710.2 289.1L711.4 292L712.6 294.9L713.8 297.7L715 300.4L716.3 303L717.5 305.6L718.7 308L719.9 310.4L721.1 312.6L722.3 314.7L723.5 316.7L724.7 318.6L725.9 320.4L727.1 322.1L728.3 323.7L729.5 325.1L730.7 326.4L732 327.5L733.2 328.6L734.4 329.5L735.6 330.3L736.8 330.9L738 331.4L739.2 331.8L740.4 332L741.6 332.1L742.8 332L744 331.8L745.2 331.5L746.4 331.1L747.7 330.5L748.9 329.7L750.1 328.9L751.3 327.9L752.5 326.7L753.7 325.5L754.9 324.1L756.1 322.6L757.3 320.9L758.5 319.2L759.7 317.3L760.9 315.3L762.1 313.2L763.3 311L764.6 308.7L765.8 306.3L767 303.8L768.2 301.2L769.4 298.5L770.6 295.7L771.8 292.9L773 289.9L774.2 286.9L775.4 283.9L776.6 280.7L777.8 277.6L779 274.3L780.3 271.1L781.5 267.7L782.7 264.4L783.9 261L785.1 257.6L786.3 254.2L787.5 250.7L788.7 247.3L789.9 243.8L791.1 240.4L792.3 236.9L793.5 233.5L794.7 230.1L796 226.7L797.2 223.4L798.4 220.1L799.6 216.8L800.8 213.6L802 210.4L803.2 207.3L804.4 204.2L805.6 201.3L806.8 198.3L808 195.5L809.2 192.7L810.4 190.1L811.7 187.5L812.9 185L814.1 182.6L815.3 180.3L816.5 178.1L817.7 176L818.9 174.1L820.1 172.2L821.3 170.5L822.5 168.9L823.7 167.4L824.9 166L826.1 164.8L827.4 163.7L828.6 162.7L829.8 161.8L831 161.1L832.2 160.6L833.4 160.1L834.6 159.8L835.8 159.7L837 159.6L838.2 159.7L839.4 160L840.6 160.4L841.8 160.9L843 161.6L844.3 162.4L845.5 163.3L846.7 164.3L847.9 165.5L849.1 166.9L850.3 168.3L851.5 169.9L852.7 171.6L853.9 173.4L855.1 175.3L856.3 177.3L857.5 179.5L858.7 181.7L860 184.1L861.2 186.6L862.4 189.1L863.6 191.8L864.8 194.5L866 197.3L867.2 200.2L868.4 203.1L869.6 206.2L870.8 209.3L872 212.4L873.2 215.6L874.4 218.9L875.7 222.2L876.9 225.5L878.1 228.9L879.3 232.3L880.5 235.7L881.7 239.1L882.9 242.6L884.1 246L885.3 249.5L886.5 252.9L887.7 256.3L888.9 259.7L890.1 263.1L891.4 266.5L892.6 269.8L893.8 273.1L895 276.4L896.2 279.6L897.4 282.7L898.6 285.8L899.8 288.8L901 291.8L902.2 294.7L903.4 297.5L904.6 300.2L905.8 302.8L907.1 305.4L908.3 307.8L909.5 310.2L910.7 312.4L911.9 314.6L913.1 316.6L914.3 318.5L915.5 320.3L916.7 322L917.9 323.5L919.1 325L920.3 326.3L921.5 327.5L922.7 328.5L924 329.4L925.2 330.2L926.4 330.9L927.6 331.4L928.8 331.7L930 332L931.2 332.1L932.4 332L933.6 331.9L934.8 331.6L936 331.1L937.2 330.5L938.4 329.8L939.7 328.9L940.9 327.9L942.1 326.8L943.3 325.6L944.5 324.2L945.7 322.7L946.9 321.1" fill="none" stroke="#ff0000" stroke-width="3.3" stroke-linejoin="round"/>
</g>
<g>
<path d="M101.6 609L103.4 609.1L105.2 609.2L107 609.3L108.8 609.4L110.7 609.5L112.5 609.6L114.3 609.7L116.1 609.7L117.9 609.8L119.7 609.8L121.5 609.8L123.3 609.8L125.1 609.8L127 609.8L128.8 609.8L130.6 609.8L132.4 609.8L134.2 609.7L136 609.7L137.8 609.6L139.6 609.5L141.4 609.5L143.3 609.4L145.1 609.3L146.9 609.1L148.7 609L150.5 608.8L152.3 608.7L154.1 608.5L155.9 608.3L157.8 608.1L159.6 607.8L161.4 607.5L163.2 607.2L165 606.9L166.8 606.5L168.6 606.1L170.4 605.6L172.2 605.1L174.1 604.5L175.9 603.8L177.7 603.1L179.5 602.2L181.3 601.3L183.1 600.2L184.9 598.9L186.7 597.5L188.5 595.8L190.4 593.9L192.2 591.6L194 589L195.8 585.8L197.6 582.1L199.4 577.5L201.2 572.1L203 565.4L204.8 557.2L206.7 547.2L208.5 534.9L210.3 520.1L212.1 502.8L213.9 483.5L215.7 464L217.5 447.6L219.3 438.2L221.1 438.7L223 449L224.8 465.9L226.6 485.4L228.4 504.6L230.2 521.7L232 536.2L233.8 548.3L235.6 558.1L237.5 566.1L239.3 572.7L241.1 578L242.9 582.5L244.7 586.2L246.5 589.3L248.3 591.9L250.1 594.1L251.9 596L253.8 597.6L255.6 599L257.4 600.3L259.2 601.4L261 602.3L262.8 603.1L264.6 603.9L266.4 604.5L268.2 605.1L270.1 605.6L271.9 606.1L273.7 606.5L275.5 606.9L277.3 607.2L279.1 607.5L280.9 607.8L282.7 608.1L284.5 608.3L286.4 608.5L288.2 608.7L290 608.9L291.8 609L293.6 609.1L295.4 609.3L297.2 609.4L299 609.5L300.8 609.6L302.7 609.6L304.5 609.7L306.3 609.7L308.1 609.8L309.9 609.8L311.7 609.8L313.5 609.8L315.3 609.8L317.2 609.8L319 609.8L320.8 609.8L322.6 609.8L324.4 609.7L326.2 609.7L328 609.6L329.8 609.5L331.6 609.4L333.5 609.3L335.3 609.2L337.1 609.1L338.9 609L340.7 608.8L342.5 608.6L344.3 608.4L346.1 608.2L347.9 608L349.8 607.7L351.6 607.4L353.4 607.1L355.2 606.8L357 606.4L358.8 605.9L360.6 605.4L362.4 604.9L364.2 604.3L366.1 603.6L367.9 602.8L369.7 602L371.5 601L373.3 599.8L375.1 598.5L376.9 597L378.7 595.3L380.5 593.3L382.4 590.9L384.2 588.1L386 584.8L387.8 580.9L389.6 576.1L391.4 570.3L393.2 563.2L395 554.6L396.9 544L398.7 531L400.5 515.5L402.3 497.5L404.1 477.9L405.9 458.9L407.7 444.1L409.5 437.3L411.3 440.7L413.2 453.2L415 471.3L416.8 490.9L418.6 509.6L420.4 526L422.2 539.8L424 551.2L425.8 560.5L427.6 568.1L429.5 574.3L431.3 579.4L433.1 583.6L434.9 587.1L436.7 590L438.5 592.5L440.3 594.7L442.1 596.5L443.9 598L445.8 599.4L447.6 600.6L449.4 601.6L451.2 602.5L453 603.3L454.8 604.1L456.6 604.7L458.4 605.3L460.2 605.8L462.1 606.2L463.9 606.6L465.7 607L467.5 607.3L469.3 607.6L471.1 607.9L472.9 608.1L474.7 608.4L476.6 608.6L478.4 608.7L480.2 608.9L482 609.1L483.8 609.2L485.6 609.3L487.4 609.4L489.2 609.5L491 609.6L492.9 609.6L494.7 609.7L496.5 609.7L498.3 609.8L500.1 609.8L501.9 609.8L503.7 609.8L505.5 609.8L507.3 609.8L509.2 609.8L511 609.8L512.8 609.7L514.6 609.7L516.4 609.6L518.2 609.6L520 609.5L521.8 609.4L523.6 609.3L525.5 609.2L527.3 609.1L529.1 608.9L530.9 608.8L532.7 608.6L534.5 608.4L536.3 608.2L538.1 607.9L539.9 607.6L541.8 607.3L543.6 607L545.4 606.7L547.2 606.2L549 605.8L550.8 605.3L552.6 604.7L554.4 604.1L556.3 603.4L558.1 602.6L559.9 601.7L561.7 600.7L563.5 599.5L565.3 598.1L567.1 596.6L568.9 594.8L570.7 592.7L572.6 590.2L574.4 587.3L576.2 583.8L578 579.6L579.8 574.6L581.6 568.5L583.4 561L585.2 551.8L587 540.6L588.9 526.9L590.7 510.7L592.5 492.1L594.3 472.4L596.1 454.2L597.9 441.2L599.7 437.2L601.5 443.4L603.3 457.9L605.2 476.7L607 496.4L608.8 514.5L610.6 530.2L612.4 543.3L614.2 554L616 562.8L617.8 569.9L619.6 575.8L621.5 580.6L623.3 584.6L625.1 588L626.9 590.8L628.7 593.2L630.5 595.2L632.3 596.9L634.1 598.5L636 599.8L637.8 600.9L639.6 601.9L641.4 602.8L643.2 603.6L645 604.2L646.8 604.9L648.6 605.4L650.4 605.9L652.3 606.3L654.1 606.7L655.9 607.1L657.7 607.4L659.5 607.7L661.3 608L663.1 608.2L664.9 608.4L666.7 608.6L668.6 608.8L670.4 608.9L672.2 609.1L674 609.2L675.8 609.3L677.6 609.4L679.4 609.5L681.2 609.6L683 609.7L684.9 609.7L686.7 609.8L688.5 609.8L690.3 609.8L692.1 609.8L693.9 609.8L695.7 609.8L697.5 609.8L699.3 609.8L701.2 609.8L703 609.7L704.8 609.7L706.6 609.6L708.4 609.6L710.2 609.5L712 609.4L713.8 609.3L715.7 609.2L717.5 609L719.3 608.9L721.1 608.7L722.9 608.5L724.7 608.3L726.5 608.1L728.3 607.8L730.1 607.6L732 607.3L733.8 606.9L735.6 606.5L737.4 606.1L739.2 605.7L741 605.1L742.8 604.6L744.6 603.9L746.4 603.2L748.3 602.4L750.1 601.4L751.9 600.3L753.7 599.1L755.5 597.7L757.3 596.1L759.1 594.2L760.9 592L762.7 589.4L764.6 586.4L766.4 582.7L768.2 578.3L770 573L771.8 566.5L773.6 558.6L775.4 548.9L777.2 537L779 522.6L780.9 505.7L782.7 486.6L784.5 467L786.3 449.8L788.1 439.1L789.9 437.9L791.7 446.8L793.5 462.9L795.3 482.3L797.2 501.7L799 519.1L800.8 534.1L802.6 546.5L804.4 556.7L806.2 564.9L808 571.7L809.8 577.2L811.7 581.8L813.5 585.6L815.3 588.8L817.1 591.5L818.9 593.8L820.7 595.7L822.5 597.4L824.3 598.8L826.1 600.1L828 601.2L829.8 602.2L831.6 603L833.4 603.8L835.2 604.4L837 605L838.8 605.6L840.6 606L842.4 606.5L844.3 606.8L846.1 607.2L847.9 607.5L849.7 607.8L851.5 608L853.3 608.3L855.1 608.5L856.9 608.7L858.7 608.8L860.6 609L862.4 609.1L864.2 609.2L866 609.4L867.8 609.5L869.6 609.5L871.4 609.6L873.2 609.7L875 609.7L876.9 609.8L878.7 609.8L880.5 609.8L882.3 609.8L884.1 609.8L885.9 609.8L887.7 609.8L889.5 609.8L891.4 609.8L893.2 609.7L895 609.7L896.8 609.6L898.6 609.5L900.4 609.4L902.2 609.4L904 609.2L905.8 609.1L907.7 609L909.5 608.8L911.3 608.7L913.1 608.5L914.9 608.3L916.7 608L918.5 607.8L920.3 607.5L922.1 607.2L924 606.8L925.8 606.4L927.6 606L929.4 605.5L931.2 605L933 604.4L934.8 603.7L936.6 603L938.4 602.1L940.3 601.1L942.1 600L943.9 598.8L945.7 597.3" fill="none" stroke="#d00808" stroke-width="1.4"/>
<g fill="#ff6a60" stroke="#7810ff" stroke-width="1.0">
<circle cx="101.6" cy="609" r="5.1"/>
<circle cx="103.4" cy="609.1" r="5.1"/>
<circle cx="105.2" cy="609.2" r="5.1"/>
<circle cx="107" cy="609.3" r="5.1"/>
<circle cx="108.8" cy="609.4" r="5.1"/>
<circle cx="110.7" cy="609.5" r="5.1"/>
<circle cx="112.5" cy="609.6" r="5.1"/>
<circle cx="114.3" cy="609.7" r="5.1"/>
<circle cx="116.1" cy="609.7" r="5.1"/>
<circle cx="117.9" cy="609.8" r="5.1"/>
<circle cx="119.7" cy="609.8" r="5.1"/>
<circle cx="121.5" cy="609.8" r="5.1"/>
<circle cx="123.3" cy="609.8" r="5.1"/>
<circle cx="125.1" cy="609.8" r="5.1"/>
<circle cx="127" cy="609.8" r="5.1"/>
<circle cx="128.8" cy="609.8" r="5.1"/>
<circle cx="130.6" cy="609.8" r="5.1"/>
<circle cx="132.4" cy="609.8" r="5.1"/>
<circle cx="134.2" cy="609.7" r="5.1"/>
<circle cx="136" cy="609.7" r="5.1"/>
<circle cx="137.8" cy="609.6" r="5.1"/>
<circle cx="139.6" cy="609.5" r="5.1"/>
<circle cx="141.4" cy="609.5" r="5.1"/>
<circle cx="143.3" cy="609.4" r="5.1"/>
<circle cx="145.1" cy="609.3" r="5.1"/>
<circle cx="146.9" cy="609.1" r="5.1"/>
<circle cx="148.7" cy="609" r="5.1"/>
<circle cx="150.5" cy="608.8" r="5.1"/>
<circle cx="152.3" cy="608.7" r="5.1"/>
<circle cx="154.1" cy="608.5" r="5.1"/>
<circle cx="155.9" cy="608.3" r="5.1"/>
<circle cx="157.8" cy="608.1" r="5.1"/>
<circle cx="159.6" cy="607.8" r="5.1"/>
<circle cx="161.4" cy="607.5" r="5.1"/>
<circle cx="163.2" cy="607.2" r="5.1"/>
<circle cx="165" cy="606.9" r="5.1"/>
<circle cx="166.8" cy="606.5" r="5.1"/>
<circle cx="168.6" cy="606.1" r="5.1"/>
<circle cx="170.4" cy="605.6" r="5.1"/>
<circle cx="172.2" cy="605.1" r="5.1"/>
<circle cx="174.1" cy="604.5" r="5.1"/>
<circle cx="175.9" cy="603.8" r="5.1"/>
<circle cx="177.7" cy="603.1" r="5.1"/>
<circle cx="179.5" cy="602.2" r="5.1"/>
<circle cx="181.3" cy="601.3" r="5.1"/>
<circle cx="183.1" cy="600.2" r="5.1"/>
<circle cx="184.9" cy="598.9" r="5.1"/>
<circle cx="186.7" cy="597.5" r="5.1"/>
<circle cx="188.5" cy="595.8" r="5.1"/>
<circle cx="190.4" cy="593.9" r="5.1"/>
<circle cx="192.2" cy="591.6" r="5.1"/>
<circle cx="194" cy="589" r="5.1"/>
<circle cx="195.8" cy="585.8" r="5.1"/>
<circle cx="197.6" cy="582.1" r="5.1"/>
<circle cx="199.4" cy="577.5" r="5.1"/>
<circle cx="201.2" cy="572.1" r="5.1"/>
<circle cx="203" cy="565.4" r="5.1"/>
<circle cx="204.8" cy="557.2" r="5.1"/>
<circle cx="206.7" cy="547.2" r="5.1"/>
<circle cx="208.5" cy="534.9" r="5.1"/>
<circle cx="210.3" cy="520.1" r="5.1"/>
<circle cx="212.1" cy="502.8" r="5.1"/>
<circle cx="213.9" cy="483.5" r="5.1"/>
<circle cx="215.7" cy="464" r="5.1"/>
<circle cx="217.5" cy="447.6" r="5.1"/>
<circle cx="219.3" cy="438.2" r="5.1"/>
<circle cx="221.1" cy="438.7" r="5.1"/>
<circle cx="223" cy="449" r="5.1"/>
<circle cx="224.8" cy="465.9" r="5.1"/>
<circle cx="226.6" cy="485.4" r="5.1"/>
<circle cx="228.4" cy="504.6" r="5.1"/>
<circle cx="230.2" cy="521.7" r="5.1"/>
<circle cx="232" cy="536.2" r="5.1"/>
<circle cx="233.8" cy="548.3" r="5.1"/>
<circle cx="235.6" cy="558.1" r="5.1"/>
<circle cx="237.5" cy="566.1" r="5.1"/>
<circle cx="239.3" cy="572.7" r="5.1"/>
<circle cx="241.1" cy="578" r="5.1"/>
<circle cx="242.9" cy="582.5" r="5.1"/>
<circle cx="244.7" cy="586.2" r="5.1"/>
<circle cx="246.5" cy="589.3" r="5.1"/>
<circle cx="248.3" cy="591.9" r="5.1"/>
<circle cx="250.1" cy="594.1" r="5.1"/>
<circle cx="251.9" cy="596" r="5.1"/>
<circle cx="253.8" cy="597.6" r="5.1"/>
<circle cx="255.6" cy="599" r="5.1"/>
<circle cx="257.4" cy="600.3" r="5.1"/>
<circle cx="259.2" cy="601.4" r="5.1"/>
<circle cx="261" cy="602.3" r="5.1"/>
<circle cx="262.8" cy="603.1" r="5.1"/>
<circle cx="264.6" cy="603.9" r="5.1"/>
<circle cx="266.4" cy="604.5" r="5.1"/>
<circle cx="268.2" cy="605.1" r="5.1"/>
<circle cx="270.1" cy="605.6" r="5.1"/>
<circle cx="271.9" cy="606.1" r="5.1"/>
<circle cx="273.7" cy="606.5" r="5.1"/>
<circle cx="275.5" cy="606.9" r="5.1"/>
<circle cx="277.3" cy="607.2" r="5.1"/>
<circle cx="279.1" cy="607.5" r="5.1"/>
<circle cx="280.9" cy="607.8" r="5.1"/>
<circle cx="282.7" cy="608.1" r="5.1"/>
<circle cx="284.5" cy="608.3" r="5.1"/>
<circle cx="286.4" cy="608.5" r="5.1"/>
<circle cx="288.2" cy="608.7" r="5.1"/>
<circle cx="290" cy="608.9" r="5.1"/>
<circle cx="291.8" cy="609" r="5.1"/>
<circle cx="293.6" cy="609.1" r="5.1"/>
<circle cx="295.4" cy="609.3" r="5.1"/>
<circle cx="297.2" cy="609.4" r="5.1"/>
<circle cx="299" cy="609.5" r="5.1"/>
<circle cx="300.8" cy="609.6" r="5.1"/>
<circle cx="302.7" cy="609.6" r="5.1"/>
<circle cx="304.5" cy="609.7" r="5.1"/>
<circle cx="306.3" cy="609.7" r="5.1"/>
<circle cx="308.1" cy="609.8" r="5.1"/>
<circle cx="309.9" cy="609.8" r="5.1"/>
<circle cx="311.7" cy="609.8" r="5.1"/>
<circle cx="313.5" cy="609.8" r="5.1"/>
<circle cx="315.3" cy="609.8" r="5.1"/>
<circle cx="317.2" cy="609.8" r="5.1"/>
<circle cx="319" cy="609.8" r="5.1"/>
<circle cx="320.8" cy="609.8" r="5.1"/>
<circle cx="322.6" cy="609.8" r="5.1"/>
<circle cx="324.4" cy="609.7" r="5.1"/>
<circle cx="326.2" cy="609.7" r="5.1"/>
<circle cx="328" cy="609.6" r="5.1"/>
<circle cx="329.8" cy="609.5" r="5.1"/>
<circle cx="331.6" cy="609.4" r="5.1"/>
<circle cx="333.5" cy="609.3" r="5.1"/>
<circle cx="335.3" cy="609.2" r="5.1"/>
<circle cx="337.1" cy="609.1" r="5.1"/>
<circle cx="338.9" cy="609" r="5.1"/>
<circle cx="340.7" cy="608.8" r="5.1"/>
<circle cx="342.5" cy="608.6" r="5.1"/>
<circle cx="344.3" cy="608.4" r="5.1"/>
<circle cx="346.1" cy="608.2" r="5.1"/>
<circle cx="347.9" cy="608" r="5.1"/>
<circle cx="349.8" cy="607.7" r="5.1"/>
<circle cx="351.6" cy="607.4" r="5.1"/>
<circle cx="353.4" cy="607.1" r="5.1"/>
<circle cx="355.2" cy="606.8" r="5.1"/>
<circle cx="357" cy="606.4" r="5.1"/>
<circle cx="358.8" cy="605.9" r="5.1"/>
<circle cx="360.6" cy="605.4" r="5.1"/>
<circle cx="362.4" cy="604.9" r="5.1"/>
<circle cx="364.2" cy="604.3" r="5.1"/>
<circle cx="366.1" cy="603.6" r="5.1"/>
<circle cx="367.9" cy="602.8" r="5.1"/>
<circle cx="369.7" cy="602" r="5.1"/>
<circle cx="371.5" cy="601" r="5.1"/>
<circle cx="373.3" cy="599.8" r="5.1"/>
<circle cx="375.1" cy="598.5" r="5.1"/>
<circle cx="376.9" cy="597" r="5.1"/>
<circle cx="378.7" cy="595.3" r="5.1"/>
<circle cx="380.5" cy="593.3" r="5.1"/>
<circle cx="382.4" cy="590.9" r="5.1"/>
<circle cx="384.2" cy="588.1" r="5.1"/>
<circle cx="386" cy="584.8" r="5.1"/>
<circle cx="387.8" cy="580.9" r="5.1"/>
<circle cx="389.6" cy="576.1" r="5.1"/>
<circle cx="391.4" cy="570.3" r="5.1"/>
<circle cx="393.2" cy="563.2" r="5.1"/>
<circle cx="395" cy="554.6" r="5.1"/>
<circle cx="396.9" cy="544" r="5.1"/>
<circle cx="398.7" cy="531" r="5.1"/>
<circle cx="400.5" cy="515.5" r="5.1"/>
<circle cx="402.3" cy="497.5" r="5.1"/>
<circle cx="404.1" cy="477.9" r="5.1"/>
<circle cx="405.9" cy="458.9" r="5.1"/>
<circle cx="407.7" cy="444.1" r="5.1"/>
<circle cx="409.5" cy="437.3" r="5.1"/>
<circle cx="411.3" cy="440.7" r="5.1"/>
<circle cx="413.2" cy="453.2" r="5.1"/>
<circle cx="415" cy="471.3" r="5.1"/>
<circle cx="416.8" cy="490.9" r="5.1"/>
<circle cx="418.6" cy="509.6" r="5.1"/>
<circle cx="420.4" cy="526" r="5.1"/>
<circle cx="422.2" cy="539.8" r="5.1"/>
<circle cx="424" cy="551.2" r="5.1"/>
<circle cx="425.8" cy="560.5" r="5.1"/>
<circle cx="427.6" cy="568.1" r="5.1"/>
<circle cx="429.5" cy="574.3" r="5.1"/>
<circle cx="431.3" cy="579.4" r="5.1"/>
<circle cx="433.1" cy="583.6" r="5.1"/>
<circle cx="434.9" cy="587.1" r="5.1"/>
<circle cx="436.7" cy="590" r="5.1"/>
<circle cx="438.5" cy="592.5" r="5.1"/>
<circle cx="440.3" cy="594.7" r="5.1"/>
<circle cx="442.1" cy="596.5" r="5.1"/>
<circle cx="443.9" cy="598" r="5.1"/>
<circle cx="445.8" cy="599.4" r="5.1"/>
<circle cx="447.6" cy="600.6" r="5.1"/>
<circle cx="449.4" cy="601.6" r="5.1"/>
<circle cx="451.2" cy="602.5" r="5.1"/>
<circle cx="453" cy="603.3" r="5.1"/>
<circle cx="454.8" cy="604.1" r="5.1"/>
<circle cx="456.6" cy="604.7" r="5.1"/>
<circle cx="458.4" cy="605.3" r="5.1"/>
<circle cx="460.2" cy="605.8" r="5.1"/>
<circle cx="462.1" cy="606.2" r="5.1"/>
<circle cx="463.9" cy="606.6" r="5.1"/>
<circle cx="465.7" cy="607" r="5.1"/>
<circle cx="467.5" cy="607.3" r="5.1"/>
<circle cx="469.3" cy="607.6" r="5.1"/>
<circle cx="471.1" cy="607.9" r="5.1"/>
<circle cx="472.9" cy="608.1" r="5.1"/>
<circle cx="474.7" cy="608.4" r="5.1"/>
<circle cx="476.6" cy="608.6" r="5.1"/>
<circle cx="478.4" cy="608.7" r="5.1"/>
<circle cx="480.2" cy="608.9" r="5.1"/>
<circle cx="482" cy="609.1" r="5.1"/>
<circle cx="483.8" cy="609.2" r="5.1"/>
<circle cx="485.6" cy="609.3" r="5.1"/>
<circle cx="487.4" cy="609.4" r="5.1"/>
<circle cx="489.2" cy="609.5" r="5.1"/>
<circle cx="491" cy="609.6" r="5.1"/>
<circle cx="492.9" cy="609.6" r="5.1"/>
<circle cx="494.7" cy="609.7" r="5.1"/>
<circle cx="496.5" cy="609.7" r="5.1"/>
<circle cx="498.3" cy="609.8" r="5.1"/>
<circle cx="500.1" cy="609.8" r="5.1"/>
<circle cx="501.9" cy="609.8" r="5.1"/>
<circle cx="503.7" cy="609.8" r="5.1"/>
<circle cx="505.5" cy="609.8" r="5.1"/>
<circle cx="507.3" cy="609.8" r="5.1"/>
<circle cx="509.2" cy="609.8" r="5.1"/>
<circle cx="511" cy="609.8" r="5.1"/>
<circle cx="512.8" cy="609.7" r="5.1"/>
<circle cx="514.6" cy="609.7" r="5.1"/>
<circle cx="516.4" cy="609.6" r="5.1"/>
<circle cx="518.2" cy="609.6" r="5.1"/>
<circle cx="520" cy="609.5" r="5.1"/>
<circle cx="521.8" cy="609.4" r="5.1"/>
<circle cx="523.6" cy="609.3" r="5.1"/>
<circle cx="525.5" cy="609.2" r="5.1"/>
<circle cx="527.3" cy="609.1" r="5.1"/>
<circle cx="529.1" cy="608.9" r="5.1"/>
<circle cx="530.9" cy="608.8" r="5.1"/>
<circle cx="532.7" cy="608.6" r="5.1"/>
<circle cx="534.5" cy="608.4" r="5.1"/>
<circle cx="536.3" cy="608.2" r="5.1"/>
<circle cx="538.1" cy="607.9" r="5.1"/>
<circle cx="539.9" cy="607.6" r="5.1"/>
<circle cx="541.8" cy="607.3" r="5.1"/>
<circle cx="543.6" cy="607" r="5.1"/>
<circle cx="545.4" cy="606.7" r="5.1"/>
<circle cx="547.2" cy="606.2" r="5.1"/>
<circle cx="549" cy="605.8" r="5.1"/>
<circle cx="550.8" cy="605.3" r="5.1"/>
<circle cx="552.6" cy="604.7" r="5.1"/>
<circle cx="554.4" cy="604.1" r="5.1"/>
<circle cx="556.3" cy="603.4" r="5.1"/>
<circle cx="558.1" cy="602.6" r="5.1"/>
<circle cx="559.9" cy="601.7" r="5.1"/>
<circle cx="561.7" cy="600.7" r="5.1"/>
<circle cx="563.5" cy="599.5" r="5.1"/>
<circle cx="565.3" cy="598.1" r="5.1"/>
<circle cx="567.1" cy="596.6" r="5.1"/>
<circle cx="568.9" cy="594.8" r="5.1"/>
<circle cx="570.7" cy="592.7" r="5.1"/>
<circle cx="572.6" cy="590.2" r="5.1"/>
<circle cx="574.4" cy="587.3" r="5.1"/>
<circle cx="576.2" cy="583.8" r="5.1"/>
<circle cx="578" cy="579.6" r="5.1"/>
<circle cx="579.8" cy="574.6" r="5.1"/>
<circle cx="581.6" cy="568.5" r="5.1"/>
<circle cx="583.4" cy="561" r="5.1"/>
<circle cx="585.2" cy="551.8" r="5.1"/>
<circle cx="587" cy="540.6" r="5.1"/>
<circle cx="588.9" cy="526.9" r="5.1"/>
<circle cx="590.7" cy="510.7" r="5.1"/>
<circle cx="592.5" cy="492.1" r="5.1"/>
<circle cx="594.3" cy="472.4" r="5.1"/>
<circle cx="596.1" cy="454.2" r="5.1"/>
<circle cx="597.9" cy="441.2" r="5.1"/>
<circle cx="599.7" cy="437.2" r="5.1"/>
<circle cx="601.5" cy="443.4" r="5.1"/>
<circle cx="603.3" cy="457.9" r="5.1"/>
<circle cx="605.2" cy="476.7" r="5.1"/>
<circle cx="607" cy="496.4" r="5.1"/>
<circle cx="608.8" cy="514.5" r="5.1"/>
<circle cx="610.6" cy="530.2" r="5.1"/>
<circle cx="612.4" cy="543.3" r="5.1"/>
<circle cx="614.2" cy="554" r="5.1"/>
<circle cx="616" cy="562.8" r="5.1"/>
<circle cx="617.8" cy="569.9" r="5.1"/>
<circle cx="619.6" cy="575.8" r="5.1"/>
<circle cx="621.5" cy="580.6" r="5.1"/>
<circle cx="623.3" cy="584.6" r="5.1"/>
<circle cx="625.1" cy="588" r="5.1"/>
<circle cx="626.9" cy="590.8" r="5.1"/>
<circle cx="628.7" cy="593.2" r="5.1"/>
<circle cx="630.5" cy="595.2" r="5.1"/>
<circle cx="632.3" cy="596.9" r="5.1"/>
<circle cx="634.1" cy="598.5" r="5.1"/>
<circle cx="636" cy="599.8" r="5.1"/>
<circle cx="637.8" cy="600.9" r="5.1"/>
<circle cx="639.6" cy="601.9" r="5.1"/>
<circle cx="641.4" cy="602.8" r="5.1"/>
<circle cx="643.2" cy="603.6" r="5.1"/>
<circle cx="645" cy="604.2" r="5.1"/>
<circle cx="646.8" cy="604.9" r="5.1"/>
<circle cx="648.6" cy="605.4" r="5.1"/>
<circle cx="650.4" cy="605.9" r="5.1"/>
<circle cx="652.3" cy="606.3" r="5.1"/>
<circle cx="654.1" cy="606.7" r="5.1"/>
<circle cx="655.9" cy="607.1" r="5.1"/>
<circle cx="657.7" cy="607.4" r="5.1"/>
<circle cx="659.5" cy="607.7" r="5.1"/>
<circle cx="661.3" cy="608" r="5.1"/>
<circle cx="663.1" cy="608.2" r="5.1"/>
<circle cx="664.9" cy="608.4" r="5.1"/>
<circle cx="666.7" cy="608.6" r="5.1"/>
<circle cx="668.6" cy="608.8" r="5.1"/>
<circle cx="670.4" cy="608.9" r="5.1"/>
<circle cx="672.2" cy="609.1" r="5.1"/>
<circle cx="674" cy="609.2" r="5.1"/>
<circle cx="675.8" cy="609.3" r="5.1"/>
<circle cx="677.6" cy="609.4" r="5.1"/>
<circle cx="679.4" cy="609.5" r="5.1"/>
<circle cx="681.2" cy="609.6" r="5.1"/>
<circle cx="683" cy="609.7" r="5.1"/>
<circle cx="684.9" cy="609.7" r="5.1"/>
<circle cx="686.7" cy="609.8" r="5.1"/>
<circle cx="688.5" cy="609.8" r="5.1"/>
<circle cx="690.3" cy="609.8" r="5.1"/>
<circle cx="692.1" cy="609.8" r="5.1"/>
<circle cx="693.9" cy="609.8" r="5.1"/>
<circle cx="695.7" cy="609.8" r="5.1"/>
<circle cx="697.5" cy="609.8" r="5.1"/>
<circle cx="699.3" cy="609.8" r="5.1"/>
<circle cx="701.2" cy="609.8" r="5.1"/>
<circle cx="703" cy="609.7" r="5.1"/>
<circle cx="704.8" cy="609.7" r="5.1"/>
<circle cx="706.6" cy="609.6" r="5.1"/>
<circle cx="708.4" cy="609.6" r="5.1"/>
<circle cx="710.2" cy="609.5" r="5.1"/>
<circle cx="712" cy="609.4" r="5.1"/>
<circle cx="713.8" cy="609.3" r="5.1"/>
<circle cx="715.7" cy="609.2" r="5.1"/>
<circle cx="717.5" cy="609" r="5.1"/>
<circle cx="719.3" cy="608.9" r="5.1"/>
<circle cx="721.1" cy="608.7" r="5.1"/>
<circle cx="722.9" cy="608.5" r="5.1"/>
<circle cx="724.7" cy="608.3" r="5.1"/>
<circle cx="726.5" cy="608.1" r="5.1"/>
<circle cx="728.3" cy="607.8" r="5.1"/>
<circle cx="730.1" cy="607.6" r="5.1"/>
<circle cx="732" cy="607.3" r="5.1"/>
<circle cx="733.8" cy="606.9" r="5.1"/>
<circle cx="735.6" cy="606.5" r="5.1"/>
<circle cx="737.4" cy="606.1" r="5.1"/>
<circle cx="739.2" cy="605.7" r="5.1"/>
<circle cx="741" cy="605.1" r="5.1"/>
<circle cx="742.8" cy="604.6" r="5.1"/>
<circle cx="744.6" cy="603.9" r="5.1"/>
<circle cx="746.4" cy="603.2" r="5.1"/>
<circle cx="748.3" cy="602.4" r="5.1"/>
<circle cx="750.1" cy="601.4" r="5.1"/>
<circle cx="751.9" cy="600.3" r="5.1"/>
<circle cx="753.7" cy="599.1" r="5.1"/>
<circle cx="755.5" cy="597.7" r="5.1"/>
<circle cx="757.3" cy="596.1" r="5.1"/>
<circle cx="759.1" cy="594.2" r="5.1"/>
<circle cx="760.9" cy="592" r="5.1"/>
<circle cx="762.7" cy="589.4" r="5.1"/>
<circle cx="764.6" cy="586.4" r="5.1"/>
<circle cx="766.4" cy="582.7" r="5.1"/>
<circle cx="768.2" cy="578.3" r="5.1"/>
<circle cx="770" cy="573" r="5.1"/>
<circle cx="771.8" cy="566.5" r="5.1"/>
<circle cx="773.6" cy="558.6" r="5.1"/>
<circle cx="775.4" cy="548.9" r="5.1"/>
<circle cx="777.2" cy="537" r="5.1"/>
<circle cx="779" cy="522.6" r="5.1"/>
<circle cx="780.9" cy="505.7" r="5.1"/>
<circle cx="782.7" cy="486.6" r="5.1"/>
<circle cx="784.5" cy="467" r="5.1"/>
<circle cx="786.3" cy="449.8" r="5.1"/>
<circle cx="788.1" cy="439.1" r="5.1"/>
<circle cx="789.9" cy="437.9" r="5.1"/>
<circle cx="791.7" cy="446.8" r="5.1"/>
<circle cx="793.5" cy="462.9" r="5.1"/>
<circle cx="795.3" cy="482.3" r="5.1"/>
<circle cx="797.2" cy="501.7" r="5.1"/>
<circle cx="799" cy="519.1" r="5.1"/>
<circle cx="800.8" cy="534.1" r="5.1"/>
<circle cx="802.6" cy="546.5" r="5.1"/>
<circle cx="804.4" cy="556.7" r="5.1"/>
<circle cx="806.2" cy="564.9" r="5.1"/>
<circle cx="808" cy="571.7" r="5.1"/>
<circle cx="809.8" cy="577.2" r="5.1"/>
<circle cx="811.7" cy="581.8" r="5.1"/>
<circle cx="813.5" cy="585.6" r="5.1"/>
<circle cx="815.3" cy="588.8" r="5.1"/>
<circle cx="817.1" cy="591.5" r="5.1"/>
<circle cx="818.9" cy="593.8" r="5.1"/>
<circle cx="820.7" cy="595.7" r="5.1"/>
<circle cx="822.5" cy="597.4" r="5.1"/>
<circle cx="824.3" cy="598.8" r="5.1"/>
<circle cx="826.1" cy="600.1" r="5.1"/>
<circle cx="828" cy="601.2" r="5.1"/>
<circle cx="829.8" cy="602.2" r="5.1"/>
<circle cx="831.6" cy="603" r="5.1"/>
<circle cx="833.4" cy="603.8" r="5.1"/>
<circle cx="835.2" cy="604.4" r="5.1"/>
<circle cx="837" cy="605" r="5.1"/>
<circle cx="838.8" cy="605.6" r="5.1"/>
<circle cx="840.6" cy="606" r="5.1"/>
<circle cx="842.4" cy="606.5" r="5.1"/>
<circle cx="844.3" cy="606.8" r="5.1"/>
<circle cx="846.1" cy="607.2" r="5.1"/>
<circle cx="847.9" cy="607.5" r="5.1"/>
<circle cx="849.7" cy="607.8" r="5.1"/>
<circle cx="851.5" cy="608" r="5.1"/>
<circle cx="853.3" cy="608.3" r="5.1"/>
<circle cx="855.1" cy="608.5" r="5.1"/>
<circle cx="856.9" cy="608.7" r="5.1"/>
<circle cx="858.7" cy="608.8" r="5.1"/>
<circle cx="860.6" cy="609" r="5.1"/>
<circle cx="862.4" cy="609.1" r="5.1"/>
<circle cx="864.2" cy="609.2" r="5.1"/>
<circle cx="866" cy="609.4" r="5.1"/>
<circle cx="867.8" cy="609.5" r="5.1"/>
<circle cx="869.6" cy="609.5" r="5.1"/>
<circle cx="871.4" cy="609.6" r="5.1"/>
<circle cx="873.2" cy="609.7" r="5.1"/>
<circle cx="875" cy="609.7" r="5.1"/>
<circle cx="876.9" cy="609.8" r="5.1"/>
<circle cx="878.7" cy="609.8" r="5.1"/>
<circle cx="880.5" cy="609.8" r="5.1"/>
<circle cx="882.3" cy="609.8" r="5.1"/>
<circle cx="884.1" cy="609.8" r="5.1"/>
<circle cx="885.9" cy="609.8" r="5.1"/>
<circle cx="887.7" cy="609.8" r="5.1"/>
<circle cx="889.5" cy="609.8" r="5.1"/>
<circle cx="891.4" cy="609.8" r="5.1"/>
<circle cx="893.2" cy="609.7" r="5.1"/>
<circle cx="895" cy="609.7" r="5.1"/>
<circle cx="896.8" cy="609.6" r="5.1"/>
<circle cx="898.6" cy="609.5" r="5.1"/>
<circle cx="900.4" cy="609.4" r="5.1"/>
<circle cx="902.2" cy="609.4" r="5.1"/>
<circle cx="904" cy="609.2" r="5.1"/>
<circle cx="905.8" cy="609.1" r="5.1"/>
<circle cx="907.7" cy="609" r="5.1"/>
<circle cx="909.5" cy="608.8" r="5.1"/>
<circle cx="911.3" cy="608.7" r="5.1"/>
<circle cx="913.1" cy="608.5" r="5.1"/>
<circle cx="914.9" cy="608.3" r="5.1"/>
<circle cx="916.7" cy="608" r="5.1"/>
<circle cx="918.5" cy="607.8" r="5.1"/>
<circle cx="920.3" cy="607.5" r="5.1"/>
<circle cx="922.1" cy="607.2" r="5.1"/>
<circle cx="924" cy="606.8" r="5.1"/>
<circle cx="925.8" cy="606.4" r="5.1"/>
<circle cx="927.6" cy="606" r="5.1"/>
<circle cx="929.4" cy="605.5" r="5.1"/>
<circle cx="931.2" cy="605" r="5.1"/>
<circle cx="933" cy="604.4" r="5.1"/>
<circle cx="934.8" cy="603.7" r="5.1"/>
<circle cx="936.6" cy="603" r="5.1"/>
<circle cx="938.4" cy="602.1" r="5.1"/>
<circle cx="940.3" cy="601.1" r="5.1"/>
<circle cx="942.1" cy="600" r="5.1"/>
<circle cx="943.9" cy="598.8" r="5.1"/>
<circle cx="945.7" cy="597.3" r="5.1"/>
</g>
<path d="M101.6 627.3L102.8 626.6L104 625.9L105.2 625.3L106.4 624.6L107.6 624L108.8 623.3L110.1 622.7L111.3 622.1L112.5 621.5L113.7 620.9L114.9 620.2L116.1 619.6L117.3 619L118.5 618.4L119.7 617.8L120.9 617.2L122.1 616.6L123.3 616L124.5 615.5L125.8 614.9L127 614.3L128.2 613.7L129.4 613.1L130.6 612.5L131.8 611.9L133 611.3L134.2 610.7L135.4 610.1L136.6 609.5L137.8 608.9L139 608.2L140.2 607.6L141.4 607L142.7 606.3L143.9 605.7L145.1 605.1L146.3 604.4L147.5 603.7L148.7 603.1L149.9 602.4L151.1 601.7L152.3 601L153.5 600.2L154.7 599.5L155.9 598.8L157.1 598L158.4 597.2L159.6 596.4L160.8 595.6L162 594.8L163.2 593.9L164.4 593L165.6 592.2L166.8 591.2L168 590.3L169.2 589.3L170.4 588.3L171.6 587.3L172.8 586.2L174.1 585.1L175.3 583.9L176.5 582.8L177.7 581.5L178.9 580.2L180.1 578.9L181.3 577.5L182.5 576.1L183.7 574.6L184.9 573L186.1 571.4L187.3 569.7L188.5 567.9L189.8 566L191 564.1L192.2 562L193.4 559.9L194.6 557.7L195.8 555.3L197 552.9L198.2 550.4L199.4 547.7L200.6 545L201.8 542.3L203 539.6L204.2 536.9L205.5 534.3L206.7 532L207.9 530.2L209.1 529L210.3 528.8L211.5 530L212.7 533.1L213.9 538.6L215.1 547L216.3 558.8L217.5 573.9L218.7 591.9L219.9 611.6L221.1 631.5L222.4 650.2L223.6 666.4L224.8 679.4L226 689L227.2 695.5L228.4 699.3L229.6 701.1L230.8 701.4L232 700.5L233.2 698.8L234.4 696.7L235.6 694.2L236.8 691.5L238.1 688.8L239.3 686.1L240.5 683.4L241.7 680.7L242.9 678.1L244.1 675.7L245.3 673.3L246.5 671L247.7 668.8L248.9 666.8L250.1 664.8L251.3 662.9L252.5 661.1L253.8 659.3L255 657.7L256.2 656.1L257.4 654.6L258.6 653.1L259.8 651.7L261 650.4L262.2 649.1L263.4 647.8L264.6 646.6L265.8 645.5L267 644.3L268.2 643.3L269.5 642.2L270.7 641.2L271.9 640.2L273.1 639.3L274.3 638.3L275.5 637.4L276.7 636.5L277.9 635.7L279.1 634.8L280.3 634L281.5 633.2L282.7 632.4L283.9 631.7L285.2 630.9L286.4 630.2L287.6 629.4L288.8 628.7L290 628L291.2 627.3L292.4 626.7L293.6 626L294.8 625.3L296 624.7L297.2 624L298.4 623.4L299.6 622.8L300.8 622.1L302.1 621.5L303.3 620.9L304.5 620.3L305.7 619.7L306.9 619.1L308.1 618.5L309.3 617.9L310.5 617.3L311.7 616.7L312.9 616.1L314.1 615.5L315.3 614.9L316.5 614.3L317.8 613.7L319 613.1L320.2 612.5L321.4 611.9L322.6 611.3L323.8 610.7L325 610.1L326.2 609.5L327.4 608.9L328.6 608.3L329.8 607.7L331 607L332.2 606.4L333.5 605.8L334.7 605.1L335.9 604.4L337.1 603.8L338.3 603.1L339.5 602.4L340.7 601.7L341.9 601L343.1 600.3L344.3 599.6L345.5 598.8L346.7 598.1L347.9 597.3L349.2 596.5L350.4 595.7L351.6 594.8L352.8 594L354 593.1L355.2 592.2L356.4 591.3L357.6 590.4L358.8 589.4L360 588.4L361.2 587.3L362.4 586.3L363.6 585.2L364.9 584L366.1 582.8L367.3 581.6L368.5 580.3L369.7 579L370.9 577.6L372.1 576.2L373.3 574.7L374.5 573.2L375.7 571.5L376.9 569.8L378.1 568.1L379.3 566.2L380.5 564.2L381.8 562.2L383 560.1L384.2 557.8L385.4 555.5L386.6 553.1L387.8 550.6L389 547.9L390.2 545.3L391.4 542.5L392.6 539.8L393.8 537.1L395 534.5L396.2 532.2L397.5 530.3L398.7 529.1L399.9 528.8L401.1 529.8L402.3 532.7L403.5 538L404.7 546.2L405.9 557.7L407.1 572.6L408.3 590.3L409.5 610L410.7 630L411.9 648.8L413.2 665.3L414.4 678.5L415.6 688.3L416.8 695.1L418 699.1L419.2 701L420.4 701.4L421.6 700.6L422.8 699L424 696.9L425.2 694.4L426.4 691.8L427.6 689L428.9 686.3L430.1 683.6L431.3 680.9L432.5 678.3L433.7 675.9L434.9 673.5L436.1 671.2L437.3 669L438.5 666.9L439.7 664.9L440.9 663L442.1 661.2L443.3 659.5L444.6 657.8L445.8 656.2L447 654.7L448.2 653.2L449.4 651.8L450.6 650.5L451.8 649.2L453 647.9L454.2 646.7L455.4 645.6L456.6 644.4L457.8 643.3L459 642.3L460.2 641.3L461.5 640.3L462.7 639.3L463.9 638.4L465.1 637.5L466.3 636.6L467.5 635.7L468.7 634.9L469.9 634.1L471.1 633.3L472.3 632.5L473.5 631.7L474.7 631L475.9 630.2L477.2 629.5L478.4 628.8L479.6 628.1L480.8 627.4L482 626.7L483.2 626L484.4 625.4L485.6 624.7L486.8 624.1L488 623.4L489.2 622.8L490.4 622.2L491.6 621.6L492.9 621L494.1 620.3L495.3 619.7L496.5 619.1L497.7 618.5L498.9 617.9L500.1 617.3L501.3 616.7L502.5 616.1L503.7 615.5L504.9 615L506.1 614.4L507.3 613.8L508.6 613.2L509.8 612.6L511 612L512.2 611.4L513.4 610.8L514.6 610.2L515.8 609.6L517 609L518.2 608.3L519.4 607.7L520.6 607.1L521.8 606.4L523 605.8L524.2 605.2L525.5 604.5L526.7 603.8L527.9 603.2L529.1 602.5L530.3 601.8L531.5 601.1L532.7 600.4L533.9 599.6L535.1 598.9L536.3 598.1L537.5 597.3L538.7 596.5L539.9 595.7L541.2 594.9L542.4 594.1L543.6 593.2L544.8 592.3L546 591.4L547.2 590.4L548.4 589.5L549.6 588.5L550.8 587.4L552 586.4L553.2 585.3L554.4 584.1L555.6 582.9L556.9 581.7L558.1 580.5L559.3 579.1L560.5 577.8L561.7 576.3L562.9 574.8L564.1 573.3L565.3 571.7L566.5 570L567.7 568.2L568.9 566.3L570.1 564.4L571.3 562.4L572.6 560.3L573.8 558L575 555.7L576.2 553.3L577.4 550.8L578.6 548.2L579.8 545.5L581 542.7L582.2 540L583.4 537.3L584.6 534.7L585.8 532.4L587 530.4L588.3 529.1L589.5 528.7L590.7 529.7L591.9 532.4L593.1 537.5L594.3 545.5L595.5 556.7L596.7 571.3L597.9 588.9L599.1 608.4L600.3 628.4L601.5 647.4L602.7 664.1L603.9 677.6L605.2 687.7L606.4 694.6L607.6 698.9L608.8 701L610 701.4L611.2 700.7L612.4 699.1L613.6 697L614.8 694.6L616 692L617.2 689.2L618.4 686.5L619.6 683.8L620.9 681.1L622.1 678.5L623.3 676.1L624.5 673.7L625.7 671.4L626.9 669.2L628.1 667.1L629.3 665.1L630.5 663.2L631.7 661.4L632.9 659.6L634.1 657.9L635.3 656.3L636.6 654.8L637.8 653.3L639 651.9L640.2 650.6L641.4 649.3L642.6 648L643.8 646.8L645 645.7L646.2 644.5L647.4 643.4L648.6 642.4L649.8 641.4L651 640.4L652.3 639.4L653.5 638.5L654.7 637.6L655.9 636.7L657.1 635.8L658.3 635L659.5 634.1L660.7 633.3L661.9 632.6L663.1 631.8L664.3 631L665.5 630.3L666.7 629.6L668 628.8L669.2 628.1L670.4 627.5L671.6 626.8L672.8 626.1L674 625.4L675.2 624.8L676.4 624.1L677.6 623.5L678.8 622.9L680 622.2L681.2 621.6L682.4 621L683.6 620.4L684.9 619.8L686.1 619.2L687.3 618.6L688.5 618L689.7 617.4L690.9 616.8L692.1 616.2L693.3 615.6L694.5 615L695.7 614.4L696.9 613.8L698.1 613.2L699.3 612.6L700.6 612L701.8 611.4L703 610.8L704.2 610.2L705.4 609.6L706.6 609L707.8 608.4L709 607.8L710.2 607.1L711.4 606.5L712.6 605.9L713.8 605.2L715 604.6L716.3 603.9L717.5 603.2L718.7 602.5L719.9 601.8L721.1 601.1L722.3 600.4L723.5 599.7L724.7 598.9L725.9 598.2L727.1 597.4L728.3 596.6L729.5 595.8L730.7 595L732 594.1L733.2 593.3L734.4 592.4L735.6 591.5L736.8 590.5L738 589.5L739.2 588.5L740.4 587.5L741.6 586.5L742.8 585.4L744 584.2L745.2 583L746.4 581.8L747.7 580.6L748.9 579.2L750.1 577.9L751.3 576.4L752.5 575L753.7 573.4L754.9 571.8L756.1 570.1L757.3 568.3L758.5 566.5L759.7 564.6L760.9 562.5L762.1 560.4L763.3 558.2L764.6 555.9L765.8 553.5L767 551L768.2 548.4L769.4 545.7L770.6 543L771.8 540.2L773 537.5L774.2 534.9L775.4 532.6L776.6 530.6L777.8 529.2L779 528.7L780.3 529.6L781.5 532.1L782.7 537L783.9 544.7L785.1 555.7L786.3 570L787.5 587.4L788.7 606.8L789.9 626.8L791.1 646L792.3 662.8L793.5 676.6L794.7 687L796 694.2L797.2 698.6L798.4 700.9L799.6 701.4L800.8 700.8L802 699.3L803.2 697.2L804.4 694.8L805.6 692.2L806.8 689.5L808 686.7L809.2 684L810.4 681.3L811.7 678.8L812.9 676.3L814.1 673.9L815.3 671.6L816.5 669.4L817.7 667.3L818.9 665.3L820.1 663.3L821.3 661.5L822.5 659.7L823.7 658.1L824.9 656.5L826.1 654.9L827.4 653.5L828.6 652L829.8 650.7L831 649.4L832.2 648.1L833.4 646.9L834.6 645.7L835.8 644.6L837 643.5L838.2 642.5L839.4 641.4L840.6 640.4L841.8 639.5L843 638.5L844.3 637.6L845.5 636.7L846.7 635.9L847.9 635L849.1 634.2L850.3 633.4L851.5 632.6L852.7 631.8L853.9 631.1L855.1 630.3L856.3 629.6L857.5 628.9L858.7 628.2L860 627.5L861.2 626.8L862.4 626.2L863.6 625.5L864.8 624.8L866 624.2L867.2 623.5L868.4 622.9L869.6 622.3L870.8 621.7L872 621L873.2 620.4L874.4 619.8L875.7 619.2L876.9 618.6L878.1 618L879.3 617.4L880.5 616.8L881.7 616.2L882.9 615.6L884.1 615.1L885.3 614.5L886.5 613.9L887.7 613.3L888.9 612.7L890.1 612.1L891.4 611.5L892.6 610.9L893.8 610.3L895 609.7L896.2 609.1L897.4 608.4L898.6 607.8L899.8 607.2L901 606.5L902.2 605.9L903.4 605.3L904.6 604.6L905.8 603.9L907.1 603.3L908.3 602.6L909.5 601.9L910.7 601.2L911.9 600.5L913.1 599.7L914.3 599L915.5 598.2L916.7 597.5L917.9 596.7L919.1 595.9L920.3 595L921.5 594.2L922.7 593.3L924 592.4L925.2 591.5L926.4 590.6L927.6 589.6L928.8 588.6L930 587.6L931.2 586.5L932.4 585.4L933.6 584.3L934.8 583.1L936 581.9L937.2 580.7L938.4 579.3L939.7 578L940.9 576.6L942.1 575.1L943.3 573.5L944.5 571.9L945.7 570.2L946.9 568.5" fill="none" stroke="#9900cc" stroke-width="1.4"/>
<g fill="#00ff00" stroke="#0808ff" stroke-width="1.0" stroke-linejoin="miter">
<path d="M95.1 627.3l6.5 -6.5l6.5 6.5l-6.5 6.5z"/>
<path d="M96.3 626.6l6.5 -6.5l6.5 6.5l-6.5 6.5z"/>
<path d="M97.5 625.9l6.5 -6.5l6.5 6.5l-6.5 6.5z"/>
<path d="M98.7 625.3l6.5 -6.5l6.5 6.5l-6.5 6.5z"/>
<path d="M99.9 624.6l6.5 -6.5l6.5 6.5l-6.5 6.5z"/>
<path d="M101.1 624l6.5 -6.5l6.5 6.5l-6.5 6.5z"/>
<path d="M102.3 623.3l6.5 -6.5l6.5 6.5l-6.5 6.5z"/>
<path d="M103.6 622.7l6.5 -6.5l6.5 6.5l-6.5 6.5z"/>
<path d="M104.8 622.1l6.5 -6.5l6.5 6.5l-6.5 6.5z"/>
<path d="M106 621.5l6.5 -6.5l6.5 6.5l-6.5 6.5z"/>
<path d="M107.2 620.9l6.5 -6.5l6.5 6.5l-6.5 6.5z"/>
<path d="M108.4 620.2l6.5 -6.5l6.5 6.5l-6.5 6.5z"/>
<path d="M109.6 619.6l6.5 -6.5l6.5 6.5l-6.5 6.5z"/>
<path d="M110.8 619l6.5 -6.5l6.5 6.5l-6.5 6.5z"/>
<path d="M112 618.4l6.5 -6.5l6.5 6.5l-6.5 6.5z"/>
<path d="M113.2 617.8l6.5 -6.5l6.5 6.5l-6.5 6.5z"/>
<path d="M114.4 617.2l6.5 -6.5l6.5 6.5l-6.5 6.5z"/>
<path d="M115.6 616.6l6.5 -6.5l6.5 6.5l-6.5 6.5z"/>
<path d="M116.8 616l6.5 -6.5l6.5 6.5l-6.5 6.5z"/>
<path d="M118 615.5l6.5 -6.5l6.5 6.5l-6.5 6.5z"/>
<path d="M119.3 614.9l6.5 -6.5l6.5 6.5l-6.5 6.5z"/>
<path d="M120.5 614.3l6.5 -6.5l6.5 6.5l-6.5 6.5z"/>
<path d="M121.7 613.7l6.5 -6.5l6.5 6.5l-6.5 6.5z"/>
<path d="M122.9 613.1l6.5 -6.5l6.5 6.5l-6.5 6.5z"/>
<path d="M124.1 612.5l6.5 -6.5l6.5 6.5l-6.5 6.5z"/>
<path d="M125.3 611.9l6.5 -6.5l6.5 6.5l-6.5 6.5z"/>
<path d="M126.5 611.3l6.5 -6.5l6.5 6.5l-6.5 6.5z"/>
<path d="M127.7 610.7l6.5 -6.5l6.5 6.5l-6.5 6.5z"/>
<path d="M128.9 610.1l6.5 -6.5l6.5 6.5l-6.5 6.5z"/>
<path d="M130.1 609.5l6.5 -6.5l6.5 6.5l-6.5 6.5z"/>
<path d="M131.3 608.9l6.5 -6.5l6.5 6.5l-6.5 6.5z"/>
<path d="M132.5 608.2l6.5 -6.5l6.5 6.5l-6.5 6.5z"/>
<path d="M133.7 607.6l6.5 -6.5l6.5 6.5l-6.5 6.5z"/>
<path d="M134.9 607l6.5 -6.5l6.5 6.5l-6.5 6.5z"/>
<path d="M136.2 606.3l6.5 -6.5l6.5 6.5l-6.5 6.5z"/>
<path d="M137.4 605.7l6.5 -6.5l6.5 6.5l-6.5 6.5z"/>
<path d="M138.6 605.1l6.5 -6.5l6.5 6.5l-6.5 6.5z"/>
<path d="M139.8 604.4l6.5 -6.5l6.5 6.5l-6.5 6.5z"/>
<path d="M141 603.7l6.5 -6.5l6.5 6.5l-6.5 6.5z"/>
<path d="M142.2 603.1l6.5 -6.5l6.5 6.5l-6.5 6.5z"/>
<path d="M143.4 602.4l6.5 -6.5l6.5 6.5l-6.5 6.5z"/>
<path d="M144.6 601.7l6.5 -6.5l6.5 6.5l-6.5 6.5z"/>
<path d="M145.8 601l6.5 -6.5l6.5 6.5l-6.5 6.5z"/>
<path d="M147 600.2l6.5 -6.5l6.5 6.5l-6.5 6.5z"/>
<path d="M148.2 599.5l6.5 -6.5l6.5 6.5l-6.5 6.5z"/>
<path d="M149.4 598.8l6.5 -6.5l6.5 6.5l-6.5 6.5z"/>
<path d="M150.6 598l6.5 -6.5l6.5 6.5l-6.5 6.5z"/>
<path d="M151.9 597.2l6.5 -6.5l6.5 6.5l-6.5 6.5z"/>
<path d="M153.1 596.4l6.5 -6.5l6.5 6.5l-6.5 6.5z"/>
<path d="M154.3 595.6l6.5 -6.5l6.5 6.5l-6.5 6.5z"/>
<path d="M155.5 594.8l6.5 -6.5l6.5 6.5l-6.5 6.5z"/>
<path d="M156.7 593.9l6.5 -6.5l6.5 6.5l-6.5 6.5z"/>
<path d="M157.9 593l6.5 -6.5l6.5 6.5l-6.5 6.5z"/>
<path d="M159.1 592.2l6.5 -6.5l6.5 6.5l-6.5 6.5z"/>
<path d="M160.3 591.2l6.5 -6.5l6.5 6.5l-6.5 6.5z"/>
<path d="M161.5 590.3l6.5 -6.5l6.5 6.5l-6.5 6.5z"/>
<path d="M162.7 589.3l6.5 -6.5l6.5 6.5l-6.5 6.5z"/>
<path d="M163.9 588.3l6.5 -6.5l6.5 6.5l-6.5 6.5z"/>
<path d="M165.1 587.3l6.5 -6.5l6.5 6.5l-6.5 6.5z"/>
<path d="M166.3 586.2l6.5 -6.5l6.5 6.5l-6.5 6.5z"/>
<path d="M167.6 585.1l6.5 -6.5l6.5 6.5l-6.5 6.5z"/>
<path d="M168.8 583.9l6.5 -6.5l6.5 6.5l-6.5 6.5z"/>
<path d="M170 582.8l6.5 -6.5l6.5 6.5l-6.5 6.5z"/>
<path d="M171.2 581.5l6.5 -6.5l6.5 6.5l-6.5 6.5z"/>
<path d="M172.4 580.2l6.5 -6.5l6.5 6.5l-6.5 6.5z"/>
<path d="M173.6 578.9l6.5 -6.5l6.5 6.5l-6.5 6.5z"/>
<path d="M174.8 577.5l6.5 -6.5l6.5 6.5l-6.5 6.5z"/>
<path d="M176 576.1l6.5 -6.5l6.5 6.5l-6.5 6.5z"/>
<path d="M177.2 574.6l6.5 -6.5l6.5 6.5l-6.5 6.5z"/>
<path d="M178.4 573l6.5 -6.5l6.5 6.5l-6.5 6.5z"/>
<path d="M179.6 571.4l6.5 -6.5l6.5 6.5l-6.5 6.5z"/>
<path d="M180.8 569.7l6.5 -6.5l6.5 6.5l-6.5 6.5z"/>
<path d="M182 567.9l6.5 -6.5l6.5 6.5l-6.5 6.5z"/>
<path d="M183.3 566l6.5 -6.5l6.5 6.5l-6.5 6.5z"/>
<path d="M184.5 564.1l6.5 -6.5l6.5 6.5l-6.5 6.5z"/>
<path d="M185.7 562l6.5 -6.5l6.5 6.5l-6.5 6.5z"/>
<path d="M186.9 559.9l6.5 -6.5l6.5 6.5l-6.5 6.5z"/>
<path d="M188.1 557.7l6.5 -6.5l6.5 6.5l-6.5 6.5z"/>
<path d="M189.3 555.3l6.5 -6.5l6.5 6.5l-6.5 6.5z"/>
<path d="M190.5 552.9l6.5 -6.5l6.5 6.5l-6.5 6.5z"/>
<path d="M191.7 550.4l6.5 -6.5l6.5 6.5l-6.5 6.5z"/>
<path d="M192.9 547.7l6.5 -6.5l6.5 6.5l-6.5 6.5z"/>
<path d="M194.1 545l6.5 -6.5l6.5 6.5l-6.5 6.5z"/>
<path d="M195.3 542.3l6.5 -6.5l6.5 6.5l-6.5 6.5z"/>
<path d="M196.5 539.6l6.5 -6.5l6.5 6.5l-6.5 6.5z"/>
<path d="M197.7 536.9l6.5 -6.5l6.5 6.5l-6.5 6.5z"/>
<path d="M199 534.3l6.5 -6.5l6.5 6.5l-6.5 6.5z"/>
<path d="M200.2 532l6.5 -6.5l6.5 6.5l-6.5 6.5z"/>
<path d="M201.4 530.2l6.5 -6.5l6.5 6.5l-6.5 6.5z"/>
<path d="M202.6 529l6.5 -6.5l6.5 6.5l-6.5 6.5z"/>
<path d="M203.8 528.8l6.5 -6.5l6.5 6.5l-6.5 6.5z"/>
<path d="M205 530l6.5 -6.5l6.5 6.5l-6.5 6.5z"/>
<path d="M206.2 533.1l6.5 -6.5l6.5 6.5l-6.5 6.5z"/>
<path d="M207.4 538.6l6.5 -6.5l6.5 6.5l-6.5 6.5z"/>
<path d="M208.6 547l6.5 -6.5l6.5 6.5l-6.5 6.5z"/>
<path d="M209.8 558.8l6.5 -6.5l6.5 6.5l-6.5 6.5z"/>
<path d="M211 573.9l6.5 -6.5l6.5 6.5l-6.5 6.5z"/>
<path d="M212.2 591.9l6.5 -6.5l6.5 6.5l-6.5 6.5z"/>
<path d="M213.4 611.6l6.5 -6.5l6.5 6.5l-6.5 6.5z"/>
<path d="M214.6 631.5l6.5 -6.5l6.5 6.5l-6.5 6.5z"/>
<path d="M215.9 650.2l6.5 -6.5l6.5 6.5l-6.5 6.5z"/>
<path d="M217.1 666.4l6.5 -6.5l6.5 6.5l-6.5 6.5z"/>
<path d="M218.3 679.4l6.5 -6.5l6.5 6.5l-6.5 6.5z"/>
<path d="M219.5 689l6.5 -6.5l6.5 6.5l-6.5 6.5z"/>
<path d="M220.7 695.5l6.5 -6.5l6.5 6.5l-6.5 6.5z"/>
<path d="M221.9 699.3l6.5 -6.5l6.5 6.5l-6.5 6.5z"/>
<path d="M223.1 701.1l6.5 -6.5l6.5 6.5l-6.5 6.5z"/>
<path d="M224.3 701.4l6.5 -6.5l6.5 6.5l-6.5 6.5z"/>
<path d="M225.5 700.5l6.5 -6.5l6.5 6.5l-6.5 6.5z"/>
<path d="M226.7 698.8l6.5 -6.5l6.5 6.5l-6.5 6.5z"/>
<path d="M227.9 696.7l6.5 -6.5l6.5 6.5l-6.5 6.5z"/>
<path d="M229.1 694.2l6.5 -6.5l6.5 6.5l-6.5 6.5z"/>
<path d="M230.3 691.5l6.5 -6.5l6.5 6.5l-6.5 6.5z"/>
<path d="M231.6 688.8l6.5 -6.5l6.5 6.5l-6.5 6.5z"/>
<path d="M232.8 686.1l6.5 -6.5l6.5 6.5l-6.5 6.5z"/>
<path d="M234 683.4l6.5 -6.5l6.5 6.5l-6.5 6.5z"/>
<path d="M235.2 680.7l6.5 -6.5l6.5 6.5l-6.5 6.5z"/>
<path d="M236.4 678.1l6.5 -6.5l6.5 6.5l-6.5 6.5z"/>
<path d="M237.6 675.7l6.5 -6.5l6.5 6.5l-6.5 6.5z"/>
<path d="M238.8 673.3l6.5 -6.5l6.5 6.5l-6.5 6.5z"/>
<path d="M240 671l6.5 -6.5l6.5 6.5l-6.5 6.5z"/>
<path d="M241.2 668.8l6.5 -6.5l6.5 6.5l-6.5 6.5z"/>
<path d="M242.4 666.8l6.5 -6.5l6.5 6.5l-6.5 6.5z"/>
<path d="M243.6 664.8l6.5 -6.5l6.5 6.5l-6.5 6.5z"/>
<path d="M244.8 662.9l6.5 -6.5l6.5 6.5l-6.5 6.5z"/>
<path d="M246 661.1l6.5 -6.5l6.5 6.5l-6.5 6.5z"/>
<path d="M247.3 659.3l6.5 -6.5l6.5 6.5l-6.5 6.5z"/>
<path d="M248.5 657.7l6.5 -6.5l6.5 6.5l-6.5 6.5z"/>
<path d="M249.7 656.1l6.5 -6.5l6.5 6.5l-6.5 6.5z"/>
<path d="M250.9 654.6l6.5 -6.5l6.5 6.5l-6.5 6.5z"/>
<path d="M252.1 653.1l6.5 -6.5l6.5 6.5l-6.5 6.5z"/>
<path d="M253.3 651.7l6.5 -6.5l6.5 6.5l-6.5 6.5z"/>
<path d="M254.5 650.4l6.5 -6.5l6.5 6.5l-6.5 6.5z"/>
<path d="M255.7 649.1l6.5 -6.5l6.5 6.5l-6.5 6.5z"/>
<path d="M256.9 647.8l6.5 -6.5l6.5 6.5l-6.5 6.5z"/>
<path d="M258.1 646.6l6.5 -6.5l6.5 6.5l-6.5 6.5z"/>
<path d="M259.3 645.5l6.5 -6.5l6.5 6.5l-6.5 6.5z"/>
<path d="M260.5 644.3l6.5 -6.5l6.5 6.5l-6.5 6.5z"/>
<path d="M261.7 643.3l6.5 -6.5l6.5 6.5l-6.5 6.5z"/>
<path d="M263 642.2l6.5 -6.5l6.5 6.5l-6.5 6.5z"/>
<path d="M264.2 641.2l6.5 -6.5l6.5 6.5l-6.5 6.5z"/>
<path d="M265.4 640.2l6.5 -6.5l6.5 6.5l-6.5 6.5z"/>
<path d="M266.6 639.3l6.5 -6.5l6.5 6.5l-6.5 6.5z"/>
<path d="M267.8 638.3l6.5 -6.5l6.5 6.5l-6.5 6.5z"/>
<path d="M269 637.4l6.5 -6.5l6.5 6.5l-6.5 6.5z"/>
<path d="M270.2 636.5l6.5 -6.5l6.5 6.5l-6.5 6.5z"/>
<path d="M271.4 635.7l6.5 -6.5l6.5 6.5l-6.5 6.5z"/>
<path d="M272.6 634.8l6.5 -6.5l6.5 6.5l-6.5 6.5z"/>
<path d="M273.8 634l6.5 -6.5l6.5 6.5l-6.5 6.5z"/>
<path d="M275 633.2l6.5 -6.5l6.5 6.5l-6.5 6.5z"/>
<path d="M276.2 632.4l6.5 -6.5l6.5 6.5l-6.5 6.5z"/>
<path d="M277.4 631.7l6.5 -6.5l6.5 6.5l-6.5 6.5z"/>
<path d="M278.7 630.9l6.5 -6.5l6.5 6.5l-6.5 6.5z"/>
<path d="M279.9 630.2l6.5 -6.5l6.5 6.5l-6.5 6.5z"/>
<path d="M281.1 629.4l6.5 -6.5l6.5 6.5l-6.5 6.5z"/>
<path d="M282.3 628.7l6.5 -6.5l6.5 6.5l-6.5 6.5z"/>
<path d="M283.5 628l6.5 -6.5l6.5 6.5l-6.5 6.5z"/>
<path d="M284.7 627.3l6.5 -6.5l6.5 6.5l-6.5 6.5z"/>
<path d="M285.9 626.7l6.5 -6.5l6.5 6.5l-6.5 6.5z"/>
<path d="M287.1 626l6.5 -6.5l6.5 6.5l-6.5 6.5z"/>
<path d="M288.3 625.3l6.5 -6.5l6.5 6.5l-6.5 6.5z"/>
<path d="M289.5 624.7l6.5 -6.5l6.5 6.5l-6.5 6.5z"/>
<path d="M290.7 624l6.5 -6.5l6.5 6.5l-6.5 6.5z"/>
<path d="M291.9 623.4l6.5 -6.5l6.5 6.5l-6.5 6.5z"/>
<path d="M293.1 622.8l6.5 -6.5l6.5 6.5l-6.5 6.5z"/>
<path d="M294.3 622.1l6.5 -6.5l6.5 6.5l-6.5 6.5z"/>
<path d="M295.6 621.5l6.5 -6.5l6.5 6.5l-6.5 6.5z"/>
<path d="M296.8 620.9l6.5 -6.5l6.5 6.5l-6.5 6.5z"/>
<path d="M298 620.3l6.5 -6.5l6.5 6.5l-6.5 6.5z"/>
<path d="M299.2 619.7l6.5 -6.5l6.5 6.5l-6.5 6.5z"/>
<path d="M300.4 619.1l6.5 -6.5l6.5 6.5l-6.5 6.5z"/>
<path d="M301.6 618.5l6.5 -6.5l6.5 6.5l-6.5 6.5z"/>
<path d="M302.8 617.9l6.5 -6.5l6.5 6.5l-6.5 6.5z"/>
<path d="M304 617.3l6.5 -6.5l6.5 6.5l-6.5 6.5z"/>
<path d="M305.2 616.7l6.5 -6.5l6.5 6.5l-6.5 6.5z"/>
<path d="M306.4 616.1l6.5 -6.5l6.5 6.5l-6.5 6.5z"/>
<path d="M307.6 615.5l6.5 -6.5l6.5 6.5l-6.5 6.5z"/>
<path d="M308.8 614.9l6.5 -6.5l6.5 6.5l-6.5 6.5z"/>
<path d="M310 614.3l6.5 -6.5l6.5 6.5l-6.5 6.5z"/>
<path d="M311.3 613.7l6.5 -6.5l6.5 6.5l-6.5 6.5z"/>
<path d="M312.5 613.1l6.5 -6.5l6.5 6.5l-6.5 6.5z"/>
<path d="M313.7 612.5l6.5 -6.5l6.5 6.5l-6.5 6.5z"/>
<path d="M314.9 611.9l6.5 -6.5l6.5 6.5l-6.5 6.5z"/>
<path d="M316.1 611.3l6.5 -6.5l6.5 6.5l-6.5 6.5z"/>
<path d="M317.3 610.7l6.5 -6.5l6.5 6.5l-6.5 6.5z"/>
<path d="M318.5 610.1l6.5 -6.5l6.5 6.5l-6.5 6.5z"/>
<path d="M319.7 609.5l6.5 -6.5l6.5 6.5l-6.5 6.5z"/>
<path d="M320.9 608.9l6.5 -6.5l6.5 6.5l-6.5 6.5z"/>
<path d="M322.1 608.3l6.5 -6.5l6.5 6.5l-6.5 6.5z"/>
<path d="M323.3 607.7l6.5 -6.5l6.5 6.5l-6.5 6.5z"/>
<path d="M324.5 607l6.5 -6.5l6.5 6.5l-6.5 6.5z"/>
<path d="M325.7 606.4l6.5 -6.5l6.5 6.5l-6.5 6.5z"/>
<path d="M327 605.8l6.5 -6.5l6.5 6.5l-6.5 6.5z"/>
<path d="M328.2 605.1l6.5 -6.5l6.5 6.5l-6.5 6.5z"/>
<path d="M329.4 604.4l6.5 -6.5l6.5 6.5l-6.5 6.5z"/>
<path d="M330.6 603.8l6.5 -6.5l6.5 6.5l-6.5 6.5z"/>
<path d="M331.8 603.1l6.5 -6.5l6.5 6.5l-6.5 6.5z"/>
<path d="M333 602.4l6.5 -6.5l6.5 6.5l-6.5 6.5z"/>
<path d="M334.2 601.7l6.5 -6.5l6.5 6.5l-6.5 6.5z"/>
<path d="M335.4 601l6.5 -6.5l6.5 6.5l-6.5 6.5z"/>
<path d="M336.6 600.3l6.5 -6.5l6.5 6.5l-6.5 6.5z"/>
<path d="M337.8 599.6l6.5 -6.5l6.5 6.5l-6.5 6.5z"/>
<path d="M339 598.8l6.5 -6.5l6.5 6.5l-6.5 6.5z"/>
<path d="M340.2 598.1l6.5 -6.5l6.5 6.5l-6.5 6.5z"/>
<path d="M341.4 597.3l6.5 -6.5l6.5 6.5l-6.5 6.5z"/>
<path d="M342.7 596.5l6.5 -6.5l6.5 6.5l-6.5 6.5z"/>
<path d="M343.9 595.7l6.5 -6.5l6.5 6.5l-6.5 6.5z"/>
<path d="M345.1 594.8l6.5 -6.5l6.5 6.5l-6.5 6.5z"/>
<path d="M346.3 594l6.5 -6.5l6.5 6.5l-6.5 6.5z"/>
<path d="M347.5 593.1l6.5 -6.5l6.5 6.5l-6.5 6.5z"/>
<path d="M348.7 592.2l6.5 -6.5l6.5 6.5l-6.5 6.5z"/>
<path d="M349.9 591.3l6.5 -6.5l6.5 6.5l-6.5 6.5z"/>
<path d="M351.1 590.4l6.5 -6.5l6.5 6.5l-6.5 6.5z"/>
<path d="M352.3 589.4l6.5 -6.5l6.5 6.5l-6.5 6.5z"/>
<path d="M353.5 588.4l6.5 -6.5l6.5 6.5l-6.5 6.5z"/>
<path d="M354.7 587.3l6.5 -6.5l6.5 6.5l-6.5 6.5z"/>
<path d="M355.9 586.3l6.5 -6.5l6.5 6.5l-6.5 6.5z"/>
<path d="M357.1 585.2l6.5 -6.5l6.5 6.5l-6.5 6.5z"/>
<path d="M358.4 584l6.5 -6.5l6.5 6.5l-6.5 6.5z"/>
<path d="M359.6 582.8l6.5 -6.5l6.5 6.5l-6.5 6.5z"/>
<path d="M360.8 581.6l6.5 -6.5l6.5 6.5l-6.5 6.5z"/>
<path d="M362 580.3l6.5 -6.5l6.5 6.5l-6.5 6.5z"/>
<path d="M363.2 579l6.5 -6.5l6.5 6.5l-6.5 6.5z"/>
<path d="M364.4 577.6l6.5 -6.5l6.5 6.5l-6.5 6.5z"/>
<path d="M365.6 576.2l6.5 -6.5l6.5 6.5l-6.5 6.5z"/>
<path d="M366.8 574.7l6.5 -6.5l6.5 6.5l-6.5 6.5z"/>
<path d="M368 573.2l6.5 -6.5l6.5 6.5l-6.5 6.5z"/>
<path d="M369.2 571.5l6.5 -6.5l6.5 6.5l-6.5 6.5z"/>
<path d="M370.4 569.8l6.5 -6.5l6.5 6.5l-6.5 6.5z"/>
<path d="M371.6 568.1l6.5 -6.5l6.5 6.5l-6.5 6.5z"/>
<path d="M372.8 566.2l6.5 -6.5l6.5 6.5l-6.5 6.5z"/>
<path d="M374 564.2l6.5 -6.5l6.5 6.5l-6.5 6.5z"/>
<path d="M375.3 562.2l6.5 -6.5l6.5 6.5l-6.5 6.5z"/>
<path d="M376.5 560.1l6.5 -6.5l6.5 6.5l-6.5 6.5z"/>
<path d="M377.7 557.8l6.5 -6.5l6.5 6.5l-6.5 6.5z"/>
<path d="M378.9 555.5l6.5 -6.5l6.5 6.5l-6.5 6.5z"/>
<path d="M380.1 553.1l6.5 -6.5l6.5 6.5l-6.5 6.5z"/>
<path d="M381.3 550.6l6.5 -6.5l6.5 6.5l-6.5 6.5z"/>
<path d="M382.5 547.9l6.5 -6.5l6.5 6.5l-6.5 6.5z"/>
<path d="M383.7 545.3l6.5 -6.5l6.5 6.5l-6.5 6.5z"/>
<path d="M384.9 542.5l6.5 -6.5l6.5 6.5l-6.5 6.5z"/>
<path d="M386.1 539.8l6.5 -6.5l6.5 6.5l-6.5 6.5z"/>
<path d="M387.3 537.1l6.5 -6.5l6.5 6.5l-6.5 6.5z"/>
<path d="M388.5 534.5l6.5 -6.5l6.5 6.5l-6.5 6.5z"/>
<path d="M389.7 532.2l6.5 -6.5l6.5 6.5l-6.5 6.5z"/>
<path d="M391 530.3l6.5 -6.5l6.5 6.5l-6.5 6.5z"/>
<path d="M392.2 529.1l6.5 -6.5l6.5 6.5l-6.5 6.5z"/>
<path d="M393.4 528.8l6.5 -6.5l6.5 6.5l-6.5 6.5z"/>
<path d="M394.6 529.8l6.5 -6.5l6.5 6.5l-6.5 6.5z"/>
<path d="M395.8 532.7l6.5 -6.5l6.5 6.5l-6.5 6.5z"/>
<path d="M397 538l6.5 -6.5l6.5 6.5l-6.5 6.5z"/>
<path d="M398.2 546.2l6.5 -6.5l6.5 6.5l-6.5 6.5z"/>
<path d="M399.4 557.7l6.5 -6.5l6.5 6.5l-6.5 6.5z"/>
<path d="M400.6 572.6l6.5 -6.5l6.5 6.5l-6.5 6.5z"/>
<path d="M401.8 590.3l6.5 -6.5l6.5 6.5l-6.5 6.5z"/>
<path d="M403 610l6.5 -6.5l6.5 6.5l-6.5 6.5z"/>
<path d="M404.2 630l6.5 -6.5l6.5 6.5l-6.5 6.5z"/>
<path d="M405.4 648.8l6.5 -6.5l6.5 6.5l-6.5 6.5z"/>
<path d="M406.7 665.3l6.5 -6.5l6.5 6.5l-6.5 6.5z"/>
<path d="M407.9 678.5l6.5 -6.5l6.5 6.5l-6.5 6.5z"/>
<path d="M409.1 688.3l6.5 -6.5l6.5 6.5l-6.5 6.5z"/>
<path d="M410.3 695.1l6.5 -6.5l6.5 6.5l-6.5 6.5z"/>
<path d="M411.5 699.1l6.5 -6.5l6.5 6.5l-6.5 6.5z"/>
<path d="M412.7 701l6.5 -6.5l6.5 6.5l-6.5 6.5z"/>
<path d="M413.9 701.4l6.5 -6.5l6.5 6.5l-6.5 6.5z"/>
<path d="M415.1 700.6l6.5 -6.5l6.5 6.5l-6.5 6.5z"/>
<path d="M416.3 699l6.5 -6.5l6.5 6.5l-6.5 6.5z"/>
<path d="M417.5 696.9l6.5 -6.5l6.5 6.5l-6.5 6.5z"/>
<path d="M418.7 694.4l6.5 -6.5l6.5 6.5l-6.5 6.5z"/>
<path d="M419.9 691.8l6.5 -6.5l6.5 6.5l-6.5 6.5z"/>
<path d="M421.1 689l6.5 -6.5l6.5 6.5l-6.5 6.5z"/>
<path d="M422.4 686.3l6.5 -6.5l6.5 6.5l-6.5 6.5z"/>
<path d="M423.6 683.6l6.5 -6.5l6.5 6.5l-6.5 6.5z"/>
<path d="M424.8 680.9l6.5 -6.5l6.5 6.5l-6.5 6.5z"/>
<path d="M426 678.3l6.5 -6.5l6.5 6.5l-6.5 6.5z"/>
<path d="M427.2 675.9l6.5 -6.5l6.5 6.5l-6.5 6.5z"/>
<path d="M428.4 673.5l6.5 -6.5l6.5 6.5l-6.5 6.5z"/>
<path d="M429.6 671.2l6.5 -6.5l6.5 6.5l-6.5 6.5z"/>
<path d="M430.8 669l6.5 -6.5l6.5 6.5l-6.5 6.5z"/>
<path d="M432 666.9l6.5 -6.5l6.5 6.5l-6.5 6.5z"/>
<path d="M433.2 664.9l6.5 -6.5l6.5 6.5l-6.5 6.5z"/>
<path d="M434.4 663l6.5 -6.5l6.5 6.5l-6.5 6.5z"/>
<path d="M435.6 661.2l6.5 -6.5l6.5 6.5l-6.5 6.5z"/>
<path d="M436.8 659.5l6.5 -6.5l6.5 6.5l-6.5 6.5z"/>
<path d="M438.1 657.8l6.5 -6.5l6.5 6.5l-6.5 6.5z"/>
<path d="M439.3 656.2l6.5 -6.5l6.5 6.5l-6.5 6.5z"/>
<path d="M440.5 654.7l6.5 -6.5l6.5 6.5l-6.5 6.5z"/>
<path d="M441.7 653.2l6.5 -6.5l6.5 6.5l-6.5 6.5z"/>
<path d="M442.9 651.8l6.5 -6.5l6.5 6.5l-6.5 6.5z"/>
<path d="M444.1 650.5l6.5 -6.5l6.5 6.5l-6.5 6.5z"/>
<path d="M445.3 649.2l6.5 -6.5l6.5 6.5l-6.5 6.5z"/>
<path d="M446.5 647.9l6.5 -6.5l6.5 6.5l-6.5 6.5z"/>
<path d="M447.7 646.7l6.5 -6.5l6.5 6.5l-6.5 6.5z"/>
<path d="M448.9 645.6l6.5 -6.5l6.5 6.5l-6.5 6.5z"/>
<path d="M450.1 644.4l6.5 -6.5l6.5 6.5l-6.5 6.5z"/>
<path d="M451.3 643.3l6.5 -6.5l6.5 6.5l-6.5 6.5z"/>
<path d="M452.5 642.3l6.5 -6.5l6.5 6.5l-6.5 6.5z"/>
<path d="M453.7 641.3l6.5 -6.5l6.5 6.5l-6.5 6.5z"/>
<path d="M455 640.3l6.5 -6.5l6.5 6.5l-6.5 6.5z"/>
<path d="M456.2 639.3l6.5 -6.5l6.5 6.5l-6.5 6.5z"/>
<path d="M457.4 638.4l6.5 -6.5l6.5 6.5l-6.5 6.5z"/>
<path d="M458.6 637.5l6.5 -6.5l6.5 6.5l-6.5 6.5z"/>
<path d="M459.8 636.6l6.5 -6.5l6.5 6.5l-6.5 6.5z"/>
<path d="M461 635.7l6.5 -6.5l6.5 6.5l-6.5 6.5z"/>
<path d="M462.2 634.9l6.5 -6.5l6.5 6.5l-6.5 6.5z"/>
<path d="M463.4 634.1l6.5 -6.5l6.5 6.5l-6.5 6.5z"/>
<path d="M464.6 633.3l6.5 -6.5l6.5 6.5l-6.5 6.5z"/>
<path d="M465.8 632.5l6.5 -6.5l6.5 6.5l-6.5 6.5z"/>
<path d="M467 631.7l6.5 -6.5l6.5 6.5l-6.5 6.5z"/>
<path d="M468.2 631l6.5 -6.5l6.5 6.5l-6.5 6.5z"/>
<path d="M469.4 630.2l6.5 -6.5l6.5 6.5l-6.5 6.5z"/>
<path d="M470.7 629.5l6.5 -6.5l6.5 6.5l-6.5 6.5z"/>
<path d="M471.9 628.8l6.5 -6.5l6.5 6.5l-6.5 6.5z"/>
<path d="M473.1 628.1l6.5 -6.5l6.5 6.5l-6.5 6.5z"/>
<path d="M474.3 627.4l6.5 -6.5l6.5 6.5l-6.5 6.5z"/>
<path d="M475.5 626.7l6.5 -6.5l6.5 6.5l-6.5 6.5z"/>
<path d="M476.7 626l6.5 -6.5l6.5 6.5l-6.5 6.5z"/>
<path d="M477.9 625.4l6.5 -6.5l6.5 6.5l-6.5 6.5z"/>
<path d="M479.1 624.7l6.5 -6.5l6.5 6.5l-6.5 6.5z"/>
<path d="M480.3 624.1l6.5 -6.5l6.5 6.5l-6.5 6.5z"/>
<path d="M481.5 623.4l6.5 -6.5l6.5 6.5l-6.5 6.5z"/>
<path d="M482.7 622.8l6.5 -6.5l6.5 6.5l-6.5 6.5z"/>
<path d="M483.9 622.2l6.5 -6.5l6.5 6.5l-6.5 6.5z"/>
<path d="M485.1 621.6l6.5 -6.5l6.5 6.5l-6.5 6.5z"/>
<path d="M486.4 621l6.5 -6.5l6.5 6.5l-6.5 6.5z"/>
<path d="M487.6 620.3l6.5 -6.5l6.5 6.5l-6.5 6.5z"/>
<path d="M488.8 619.7l6.5 -6.5l6.5 6.5l-6.5 6.5z"/>
<path d="M490 619.1l6.5 -6.5l6.5 6.5l-6.5 6.5z"/>
<path d="M491.2 618.5l6.5 -6.5l6.5 6.5l-6.5 6.5z"/>
<path d="M492.4 617.9l6.5 -6.5l6.5 6.5l-6.5 6.5z"/>
<path d="M493.6 617.3l6.5 -6.5l6.5 6.5l-6.5 6.5z"/>
<path d="M494.8 616.7l6.5 -6.5l6.5 6.5l-6.5 6.5z"/>
<path d="M496 616.1l6.5 -6.5l6.5 6.5l-6.5 6.5z"/>
<path d="M497.2 615.5l6.5 -6.5l6.5 6.5l-6.5 6.5z"/>
<path d="M498.4 615l6.5 -6.5l6.5 6.5l-6.5 6.5z"/>
<path d="M499.6 614.4l6.5 -6.5l6.5 6.5l-6.5 6.5z"/>
<path d="M500.8 613.8l6.5 -6.5l6.5 6.5l-6.5 6.5z"/>
<path d="M502.1 613.2l6.5 -6.5l6.5 6.5l-6.5 6.5z"/>
<path d="M503.3 612.6l6.5 -6.5l6.5 6.5l-6.5 6.5z"/>
<path d="M504.5 612l6.5 -6.5l6.5 6.5l-6.5 6.5z"/>
<path d="M505.7 611.4l6.5 -6.5l6.5 6.5l-6.5 6.5z"/>
<path d="M506.9 610.8l6.5 -6.5l6.5 6.5l-6.5 6.5z"/>
<path d="M508.1 610.2l6.5 -6.5l6.5 6.5l-6.5 6.5z"/>
<path d="M509.3 609.6l6.5 -6.5l6.5 6.5l-6.5 6.5z"/>
<path d="M510.5 609l6.5 -6.5l6.5 6.5l-6.5 6.5z"/>
<path d="M511.7 608.3l6.5 -6.5l6.5 6.5l-6.5 6.5z"/>
<path d="M512.9 607.7l6.5 -6.5l6.5 6.5l-6.5 6.5z"/>
<path d="M514.1 607.1l6.5 -6.5l6.5 6.5l-6.5 6.5z"/>
<path d="M515.3 606.4l6.5 -6.5l6.5 6.5l-6.5 6.5z"/>
<path d="M516.5 605.8l6.5 -6.5l6.5 6.5l-6.5 6.5z"/>
<path d="M517.8 605.2l6.5 -6.5l6.5 6.5l-6.5 6.5z"/>
<path d="M519 604.5l6.5 -6.5l6.5 6.5l-6.5 6.5z"/>
<path d="M520.2 603.8l6.5 -6.5l6.5 6.5l-6.5 6.5z"/>
<path d="M521.4 603.2l6.5 -6.5l6.5 6.5l-6.5 6.5z"/>
<path d="M522.6 602.5l6.5 -6.5l6.5 6.5l-6.5 6.5z"/>
<path d="M523.8 601.8l6.5 -6.5l6.5 6.5l-6.5 6.5z"/>
<path d="M525 601.1l6.5 -6.5l6.5 6.5l-6.5 6.5z"/>
<path d="M526.2 600.4l6.5 -6.5l6.5 6.5l-6.5 6.5z"/>
<path d="M527.4 599.6l6.5 -6.5l6.5 6.5l-6.5 6.5z"/>
<path d="M528.6 598.9l6.5 -6.5l6.5 6.5l-6.5 6.5z"/>
<path d="M529.8 598.1l6.5 -6.5l6.5 6.5l-6.5 6.5z"/>
<path d="M531 597.3l6.5 -6.5l6.5 6.5l-6.5 6.5z"/>
<path d="M532.2 596.5l6.5 -6.5l6.5 6.5l-6.5 6.5z"/>
<path d="M533.4 595.7l6.5 -6.5l6.5 6.5l-6.5 6.5z"/>
<path d="M534.7 594.9l6.5 -6.5l6.5 6.5l-6.5 6.5z"/>
<path d="M535.9 594.1l6.5 -6.5l6.5 6.5l-6.5 6.5z"/>
<path d="M537.1 593.2l6.5 -6.5l6.5 6.5l-6.5 6.5z"/>
<path d="M538.3 592.3l6.5 -6.5l6.5 6.5l-6.5 6.5z"/>
<path d="M539.5 591.4l6.5 -6.5l6.5 6.5l-6.5 6.5z"/>
<path d="M540.7 590.4l6.5 -6.5l6.5 6.5l-6.5 6.5z"/>
<path d="M541.9 589.5l6.5 -6.5l6.5 6.5l-6.5 6.5z"/>
<path d="M543.1 588.5l6.5 -6.5l6.5 6.5l-6.5 6.5z"/>
<path d="M544.3 587.4l6.5 -6.5l6.5 6.5l-6.5 6.5z"/>
<path d="M545.5 586.4l6.5 -6.5l6.5 6.5l-6.5 6.5z"/>
<path d="M546.7 585.3l6.5 -6.5l6.5 6.5l-6.5 6.5z"/>
<path d="M547.9 584.1l6.5 -6.5l6.5 6.5l-6.5 6.5z"/>
<path d="M549.1 582.9l6.5 -6.5l6.5 6.5l-6.5 6.5z"/>
<path d="M550.4 581.7l6.5 -6.5l6.5 6.5l-6.5 6.5z"/>
<path d="M551.6 580.5l6.5 -6.5l6.5 6.5l-6.5 6.5z"/>
<path d="M552.8 579.1l6.5 -6.5l6.5 6.5l-6.5 6.5z"/>
<path d="M554 577.8l6.5 -6.5l6.5 6.5l-6.5 6.5z"/>
<path d="M555.2 576.3l6.5 -6.5l6.5 6.5l-6.5 6.5z"/>
<path d="M556.4 574.8l6.5 -6.5l6.5 6.5l-6.5 6.5z"/>
<path d="M557.6 573.3l6.5 -6.5l6.5 6.5l-6.5 6.5z"/>
<path d="M558.8 571.7l6.5 -6.5l6.5 6.5l-6.5 6.5z"/>
<path d="M560 570l6.5 -6.5l6.5 6.5l-6.5 6.5z"/>
<path d="M561.2 568.2l6.5 -6.5l6.5 6.5l-6.5 6.5z"/>
<path d="M562.4 566.3l6.5 -6.5l6.5 6.5l-6.5 6.5z"/>
<path d="M563.6 564.4l6.5 -6.5l6.5 6.5l-6.5 6.5z"/>
<path d="M564.8 562.4l6.5 -6.5l6.5 6.5l-6.5 6.5z"/>
<path d="M566.1 560.3l6.5 -6.5l6.5 6.5l-6.5 6.5z"/>
<path d="M567.3 558l6.5 -6.5l6.5 6.5l-6.5 6.5z"/>
<path d="M568.5 555.7l6.5 -6.5l6.5 6.5l-6.5 6.5z"/>
<path d="M569.7 553.3l6.5 -6.5l6.5 6.5l-6.5 6.5z"/>
<path d="M570.9 550.8l6.5 -6.5l6.5 6.5l-6.5 6.5z"/>
<path d="M572.1 548.2l6.5 -6.5l6.5 6.5l-6.5 6.5z"/>
<path d="M573.3 545.5l6.5 -6.5l6.5 6.5l-6.5 6.5z"/>
<path d="M574.5 542.7l6.5 -6.5l6.5 6.5l-6.5 6.5z"/>
<path d="M575.7 540l6.5 -6.5l6.5 6.5l-6.5 6.5z"/>
<path d="M576.9 537.3l6.5 -6.5l6.5 6.5l-6.5 6.5z"/>
<path d="M578.1 534.7l6.5 -6.5l6.5 6.5l-6.5 6.5z"/>
<path d="M579.3 532.4l6.5 -6.5l6.5 6.5l-6.5 6.5z"/>
<path d="M580.5 530.4l6.5 -6.5l6.5 6.5l-6.5 6.5z"/>
<path d="M581.8 529.1l6.5 -6.5l6.5 6.5l-6.5 6.5z"/>
<path d="M583 528.7l6.5 -6.5l6.5 6.5l-6.5 6.5z"/>
<path d="M584.2 529.7l6.5 -6.5l6.5 6.5l-6.5 6.5z"/>
<path d="M585.4 532.4l6.5 -6.5l6.5 6.5l-6.5 6.5z"/>
<path d="M586.6 537.5l6.5 -6.5l6.5 6.5l-6.5 6.5z"/>
<path d="M587.8 545.5l6.5 -6.5l6.5 6.5l-6.5 6.5z"/>
<path d="M589 556.7l6.5 -6.5l6.5 6.5l-6.5 6.5z"/>
<path d="M590.2 571.3l6.5 -6.5l6.5 6.5l-6.5 6.5z"/>
<path d="M591.4 588.9l6.5 -6.5l6.5 6.5l-6.5 6.5z"/>
<path d="M592.6 608.4l6.5 -6.5l6.5 6.5l-6.5 6.5z"/>
<path d="M593.8 628.4l6.5 -6.5l6.5 6.5l-6.5 6.5z"/>
<path d="M595 647.4l6.5 -6.5l6.5 6.5l-6.5 6.5z"/>
<path d="M596.2 664.1l6.5 -6.5l6.5 6.5l-6.5 6.5z"/>
<path d="M597.4 677.6l6.5 -6.5l6.5 6.5l-6.5 6.5z"/>
<path d="M598.7 687.7l6.5 -6.5l6.5 6.5l-6.5 6.5z"/>
<path d="M599.9 694.6l6.5 -6.5l6.5 6.5l-6.5 6.5z"/>
<path d="M601.1 698.9l6.5 -6.5l6.5 6.5l-6.5 6.5z"/>
<path d="M602.3 701l6.5 -6.5l6.5 6.5l-6.5 6.5z"/>
<path d="M603.5 701.4l6.5 -6.5l6.5 6.5l-6.5 6.5z"/>
<path d="M604.7 700.7l6.5 -6.5l6.5 6.5l-6.5 6.5z"/>
<path d="M605.9 699.1l6.5 -6.5l6.5 6.5l-6.5 6.5z"/>
<path d="M607.1 697l6.5 -6.5l6.5 6.5l-6.5 6.5z"/>
<path d="M608.3 694.6l6.5 -6.5l6.5 6.5l-6.5 6.5z"/>
<path d="M609.5 692l6.5 -6.5l6.5 6.5l-6.5 6.5z"/>
<path d="M610.7 689.2l6.5 -6.5l6.5 6.5l-6.5 6.5z"/>
<path d="M611.9 686.5l6.5 -6.5l6.5 6.5l-6.5 6.5z"/>
<path d="M613.1 683.8l6.5 -6.5l6.5 6.5l-6.5 6.5z"/>
<path d="M614.4 681.1l6.5 -6.5l6.5 6.5l-6.5 6.5z"/>
<path d="M615.6 678.5l6.5 -6.5l6.5 6.5l-6.5 6.5z"/>
<path d="M616.8 676.1l6.5 -6.5l6.5 6.5l-6.5 6.5z"/>
<path d="M618 673.7l6.5 -6.5l6.5 6.5l-6.5 6.5z"/>
<path d="M619.2 671.4l6.5 -6.5l6.5 6.5l-6.5 6.5z"/>
<path d="M620.4 669.2l6.5 -6.5l6.5 6.5l-6.5 6.5z"/>
<path d="M621.6 667.1l6.5 -6.5l6.5 6.5l-6.5 6.5z"/>
<path d="M622.8 665.1l6.5 -6.5l6.5 6.5l-6.5 6.5z"/>
<path d="M624 663.2l6.5 -6.5l6.5 6.5l-6.5 6.5z"/>
<path d="M625.2 661.4l6.5 -6.5l6.5 6.5l-6.5 6.5z"/>
<path d="M626.4 659.6l6.5 -6.5l6.5 6.5l-6.5 6.5z"/>
<path d="M627.6 657.9l6.5 -6.5l6.5 6.5l-6.5 6.5z"/>
<path d="M628.8 656.3l6.5 -6.5l6.5 6.5l-6.5 6.5z"/>
<path d="M630.1 654.8l6.5 -6.5l6.5 6.5l-6.5 6.5z"/>
<path d="M631.3 653.3l6.5 -6.5l6.5 6.5l-6.5 6.5z"/>
<path d="M632.5 651.9l6.5 -6.5l6.5 6.5l-6.5 6.5z"/>
<path d="M633.7 650.6l6.5 -6.5l6.5 6.5l-6.5 6.5z"/>
<path d="M634.9 649.3l6.5 -6.5l6.5 6.5l-6.5 6.5z"/>
<path d="M636.1 648l6.5 -6.5l6.5 6.5l-6.5 6.5z"/>
<path d="M637.3 646.8l6.5 -6.5l6.5 6.5l-6.5 6.5z"/>
<path d="M638.5 645.7l6.5 -6.5l6.5 6.5l-6.5 6.5z"/>
<path d="M639.7 644.5l6.5 -6.5l6.5 6.5l-6.5 6.5z"/>
<path d="M640.9 643.4l6.5 -6.5l6.5 6.5l-6.5 6.5z"/>
<path d="M642.1 642.4l6.5 -6.5l6.5 6.5l-6.5 6.5z"/>
<path d="M643.3 641.4l6.5 -6.5l6.5 6.5l-6.5 6.5z"/>
<path d="M644.5 640.4l6.5 -6.5l6.5 6.5l-6.5 6.5z"/>
<path d="M645.8 639.4l6.5 -6.5l6.5 6.5l-6.5 6.5z"/>
<path d="M647 638.5l6.5 -6.5l6.5 6.5l-6.5 6.5z"/>
<path d="M648.2 637.6l6.5 -6.5l6.5 6.5l-6.5 6.5z"/>
<path d="M649.4 636.7l6.5 -6.5l6.5 6.5l-6.5 6.5z"/>
<path d="M650.6 635.8l6.5 -6.5l6.5 6.5l-6.5 6.5z"/>
<path d="M651.8 635l6.5 -6.5l6.5 6.5l-6.5 6.5z"/>
<path d="M653 634.1l6.5 -6.5l6.5 6.5l-6.5 6.5z"/>
<path d="M654.2 633.3l6.5 -6.5l6.5 6.5l-6.5 6.5z"/>
<path d="M655.4 632.6l6.5 -6.5l6.5 6.5l-6.5 6.5z"/>
<path d="M656.6 631.8l6.5 -6.5l6.5 6.5l-6.5 6.5z"/>
<path d="M657.8 631l6.5 -6.5l6.5 6.5l-6.5 6.5z"/>
<path d="M659 630.3l6.5 -6.5l6.5 6.5l-6.5 6.5z"/>
<path d="M660.2 629.6l6.5 -6.5l6.5 6.5l-6.5 6.5z"/>
<path d="M661.5 628.8l6.5 -6.5l6.5 6.5l-6.5 6.5z"/>
<path d="M662.7 628.1l6.5 -6.5l6.5 6.5l-6.5 6.5z"/>
<path d="M663.9 627.5l6.5 -6.5l6.5 6.5l-6.5 6.5z"/>
<path d="M665.1 626.8l6.5 -6.5l6.5 6.5l-6.5 6.5z"/>
<path d="M666.3 626.1l6.5 -6.5l6.5 6.5l-6.5 6.5z"/>
<path d="M667.5 625.4l6.5 -6.5l6.5 6.5l-6.5 6.5z"/>
<path d="M668.7 624.8l6.5 -6.5l6.5 6.5l-6.5 6.5z"/>
<path d="M669.9 624.1l6.5 -6.5l6.5 6.5l-6.5 6.5z"/>
<path d="M671.1 623.5l6.5 -6.5l6.5 6.5l-6.5 6.5z"/>
<path d="M672.3 622.9l6.5 -6.5l6.5 6.5l-6.5 6.5z"/>
<path d="M673.5 622.2l6.5 -6.5l6.5 6.5l-6.5 6.5z"/>
<path d="M674.7 621.6l6.5 -6.5l6.5 6.5l-6.5 6.5z"/>
<path d="M675.9 621l6.5 -6.5l6.5 6.5l-6.5 6.5z"/>
<path d="M677.1 620.4l6.5 -6.5l6.5 6.5l-6.5 6.5z"/>
<path d="M678.4 619.8l6.5 -6.5l6.5 6.5l-6.5 6.5z"/>
<path d="M679.6 619.2l6.5 -6.5l6.5 6.5l-6.5 6.5z"/>
<path d="M680.8 618.6l6.5 -6.5l6.5 6.5l-6.5 6.5z"/>
<path d="M682 618l6.5 -6.5l6.5 6.5l-6.5 6.5z"/>
<path d="M683.2 617.4l6.5 -6.5l6.5 6.5l-6.5 6.5z"/>
<path d="M684.4 616.8l6.5 -6.5l6.5 6.5l-6.5 6.5z"/>
<path d="M685.6 616.2l6.5 -6.5l6.5 6.5l-6.5 6.5z"/>
<path d="M686.8 615.6l6.5 -6.5l6.5 6.5l-6.5 6.5z"/>
<path d="M688 615l6.5 -6.5l6.5 6.5l-6.5 6.5z"/>
<path d="M689.2 614.4l6.5 -6.5l6.5 6.5l-6.5 6.5z"/>
<path d="M690.4 613.8l6.5 -6.5l6.5 6.5l-6.5 6.5z"/>
<path d="M691.6 613.2l6.5 -6.5l6.5 6.5l-6.5 6.5z"/>
<path d="M692.8 612.6l6.5 -6.5l6.5 6.5l-6.5 6.5z"/>
<path d="M694.1 612l6.5 -6.5l6.5 6.5l-6.5 6.5z"/>
<path d="M695.3 611.4l6.5 -6.5l6.5 6.5l-6.5 6.5z"/>
<path d="M696.5 610.8l6.5 -6.5l6.5 6.5l-6.5 6.5z"/>
<path d="M697.7 610.2l6.5 -6.5l6.5 6.5l-6.5 6.5z"/>
<path d="M698.9 609.6l6.5 -6.5l6.5 6.5l-6.5 6.5z"/>
<path d="M700.1 609l6.5 -6.5l6.5 6.5l-6.5 6.5z"/>
<path d="M701.3 608.4l6.5 -6.5l6.5 6.5l-6.5 6.5z"/>
<path d="M702.5 607.8l6.5 -6.5l6.5 6.5l-6.5 6.5z"/>
<path d="M703.7 607.1l6.5 -6.5l6.5 6.5l-6.5 6.5z"/>
<path d="M704.9 606.5l6.5 -6.5l6.5 6.5l-6.5 6.5z"/>
<path d="M706.1 605.9l6.5 -6.5l6.5 6.5l-6.5 6.5z"/>
<path d="M707.3 605.2l6.5 -6.5l6.5 6.5l-6.5 6.5z"/>
<path d="M708.5 604.6l6.5 -6.5l6.5 6.5l-6.5 6.5z"/>
<path d="M709.8 603.9l6.5 -6.5l6.5 6.5l-6.5 6.5z"/>
<path d="M711 603.2l6.5 -6.5l6.5 6.5l-6.5 6.5z"/>
<path d="M712.2 602.5l6.5 -6.5l6.5 6.5l-6.5 6.5z"/>
<path d="M713.4 601.8l6.5 -6.5l6.5 6.5l-6.5 6.5z"/>
<path d="M714.6 601.1l6.5 -6.5l6.5 6.5l-6.5 6.5z"/>
<path d="M715.8 600.4l6.5 -6.5l6.5 6.5l-6.5 6.5z"/>
<path d="M717 599.7l6.5 -6.5l6.5 6.5l-6.5 6.5z"/>
<path d="M718.2 598.9l6.5 -6.5l6.5 6.5l-6.5 6.5z"/>
<path d="M719.4 598.2l6.5 -6.5l6.5 6.5l-6.5 6.5z"/>
<path d="M720.6 597.4l6.5 -6.5l6.5 6.5l-6.5 6.5z"/>
<path d="M721.8 596.6l6.5 -6.5l6.5 6.5l-6.5 6.5z"/>
<path d="M723 595.8l6.5 -6.5l6.5 6.5l-6.5 6.5z"/>
<path d="M724.2 595l6.5 -6.5l6.5 6.5l-6.5 6.5z"/>
<path d="M725.5 594.1l6.5 -6.5l6.5 6.5l-6.5 6.5z"/>
<path d="M726.7 593.3l6.5 -6.5l6.5 6.5l-6.5 6.5z"/>
<path d="M727.9 592.4l6.5 -6.5l6.5 6.5l-6.5 6.5z"/>
<path d="M729.1 591.5l6.5 -6.5l6.5 6.5l-6.5 6.5z"/>
<path d="M730.3 590.5l6.5 -6.5l6.5 6.5l-6.5 6.5z"/>
<path d="M731.5 589.5l6.5 -6.5l6.5 6.5l-6.5 6.5z"/>
<path d="M732.7 588.5l6.5 -6.5l6.5 6.5l-6.5 6.5z"/>
<path d="M733.9 587.5l6.5 -6.5l6.5 6.5l-6.5 6.5z"/>
<path d="M735.1 586.5l6.5 -6.5l6.5 6.5l-6.5 6.5z"/>
<path d="M736.3 585.4l6.5 -6.5l6.5 6.5l-6.5 6.5z"/>
<path d="M737.5 584.2l6.5 -6.5l6.5 6.5l-6.5 6.5z"/>
<path d="M738.7 583l6.5 -6.5l6.5 6.5l-6.5 6.5z"/>
<path d="M739.9 581.8l6.5 -6.5l6.5 6.5l-6.5 6.5z"/>
<path d="M741.2 580.6l6.5 -6.5l6.5 6.5l-6.5 6.5z"/>
<path d="M742.4 579.2l6.5 -6.5l6.5 6.5l-6.5 6.5z"/>
<path d="M743.6 577.9l6.5 -6.5l6.5 6.5l-6.5 6.5z"/>
<path d="M744.8 576.4l6.5 -6.5l6.5 6.5l-6.5 6.5z"/>
<path d="M746 575l6.5 -6.5l6.5 6.5l-6.5 6.5z"/>
<path d="M747.2 573.4l6.5 -6.5l6.5 6.5l-6.5 6.5z"/>
<path d="M748.4 571.8l6.5 -6.5l6.5 6.5l-6.5 6.5z"/>
<path d="M749.6 570.1l6.5 -6.5l6.5 6.5l-6.5 6.5z"/>
<path d="M750.8 568.3l6.5 -6.5l6.5 6.5l-6.5 6.5z"/>
<path d="M752 566.5l6.5 -6.5l6.5 6.5l-6.5 6.5z"/>
<path d="M753.2 564.6l6.5 -6.5l6.5 6.5l-6.5 6.5z"/>
<path d="M754.4 562.5l6.5 -6.5l6.5 6.5l-6.5 6.5z"/>
<path d="M755.6 560.4l6.5 -6.5l6.5 6.5l-6.5 6.5z"/>
<path d="M756.8 558.2l6.5 -6.5l6.5 6.5l-6.5 6.5z"/>
<path d="M758.1 555.9l6.5 -6.5l6.5 6.5l-6.5 6.5z"/>
<path d="M759.3 553.5l6.5 -6.5l6.5 6.5l-6.5 6.5z"/>
<path d="M760.5 551l6.5 -6.5l6.5 6.5l-6.5 6.5z"/>
<path d="M761.7 548.4l6.5 -6.5l6.5 6.5l-6.5 6.5z"/>
<path d="M762.9 545.7l6.5 -6.5l6.5 6.5l-6.5 6.5z"/>
<path d="M764.1 543l6.5 -6.5l6.5 6.5l-6.5 6.5z"/>
<path d="M765.3 540.2l6.5 -6.5l6.5 6.5l-6.5 6.5z"/>
<path d="M766.5 537.5l6.5 -6.5l6.5 6.5l-6.5 6.5z"/>
<path d="M767.7 534.9l6.5 -6.5l6.5 6.5l-6.5 6.5z"/>
<path d="M768.9 532.6l6.5 -6.5l6.5 6.5l-6.5 6.5z"/>
<path d="M770.1 530.6l6.5 -6.5l6.5 6.5l-6.5 6.5z"/>
<path d="M771.3 529.2l6.5 -6.5l6.5 6.5l-6.5 6.5z"/>
<path d="M772.5 528.7l6.5 -6.5l6.5 6.5l-6.5 6.5z"/>
<path d="M773.8 529.6l6.5 -6.5l6.5 6.5l-6.5 6.5z"/>
<path d="M775 532.1l6.5 -6.5l6.5 6.5l-6.5 6.5z"/>
<path d="M776.2 537l6.5 -6.5l6.5 6.5l-6.5 6.5z"/>
<path d="M777.4 544.7l6.5 -6.5l6.5 6.5l-6.5 6.5z"/>
<path d="M778.6 555.7l6.5 -6.5l6.5 6.5l-6.5 6.5z"/>
<path d="M779.8 570l6.5 -6.5l6.5 6.5l-6.5 6.5z"/>
<path d="M781 587.4l6.5 -6.5l6.5 6.5l-6.5 6.5z"/>
<path d="M782.2 606.8l6.5 -6.5l6.5 6.5l-6.5 6.5z"/>
<path d="M783.4 626.8l6.5 -6.5l6.5 6.5l-6.5 6.5z"/>
<path d="M784.6 646l6.5 -6.5l6.5 6.5l-6.5 6.5z"/>
<path d="M785.8 662.8l6.5 -6.5l6.5 6.5l-6.5 6.5z"/>
<path d="M787 676.6l6.5 -6.5l6.5 6.5l-6.5 6.5z"/>
<path d="M788.2 687l6.5 -6.5l6.5 6.5l-6.5 6.5z"/>
<path d="M789.5 694.2l6.5 -6.5l6.5 6.5l-6.5 6.5z"/>
<path d="M790.7 698.6l6.5 -6.5l6.5 6.5l-6.5 6.5z"/>
<path d="M791.9 700.9l6.5 -6.5l6.5 6.5l-6.5 6.5z"/>
<path d="M793.1 701.4l6.5 -6.5l6.5 6.5l-6.5 6.5z"/>
<path d="M794.3 700.8l6.5 -6.5l6.5 6.5l-6.5 6.5z"/>
<path d="M795.5 699.3l6.5 -6.5l6.5 6.5l-6.5 6.5z"/>
<path d="M796.7 697.2l6.5 -6.5l6.5 6.5l-6.5 6.5z"/>
<path d="M797.9 694.8l6.5 -6.5l6.5 6.5l-6.5 6.5z"/>
<path d="M799.1 692.2l6.5 -6.5l6.5 6.5l-6.5 6.5z"/>
<path d="M800.3 689.5l6.5 -6.5l6.5 6.5l-6.5 6.5z"/>
<path d="M801.5 686.7l6.5 -6.5l6.5 6.5l-6.5 6.5z"/>
<path d="M802.7 684l6.5 -6.5l6.5 6.5l-6.5 6.5z"/>
<path d="M803.9 681.3l6.5 -6.5l6.5 6.5l-6.5 6.5z"/>
<path d="M805.2 678.8l6.5 -6.5l6.5 6.5l-6.5 6.5z"/>
<path d="M806.4 676.3l6.5 -6.5l6.5 6.5l-6.5 6.5z"/>
<path d="M807.6 673.9l6.5 -6.5l6.5 6.5l-6.5 6.5z"/>
<path d="M808.8 671.6l6.5 -6.5l6.5 6.5l-6.5 6.5z"/>
<path d="M810 669.4l6.5 -6.5l6.5 6.5l-6.5 6.5z"/>
<path d="M811.2 667.3l6.5 -6.5l6.5 6.5l-6.5 6.5z"/>
<path d="M812.4 665.3l6.5 -6.5l6.5 6.5l-6.5 6.5z"/>
<path d="M813.6 663.3l6.5 -6.5l6.5 6.5l-6.5 6.5z"/>
<path d="M814.8 661.5l6.5 -6.5l6.5 6.5l-6.5 6.5z"/>
<path d="M816 659.7l6.5 -6.5l6.5 6.5l-6.5 6.5z"/>
<path d="M817.2 658.1l6.5 -6.5l6.5 6.5l-6.5 6.5z"/>
<path d="M818.4 656.5l6.5 -6.5l6.5 6.5l-6.5 6.5z"/>
<path d="M819.6 654.9l6.5 -6.5l6.5 6.5l-6.5 6.5z"/>
<path d="M820.9 653.5l6.5 -6.5l6.5 6.5l-6.5 6.5z"/>
<path d="M822.1 652l6.5 -6.5l6.5 6.5l-6.5 6.5z"/>
<path d="M823.3 650.7l6.5 -6.5l6.5 6.5l-6.5 6.5z"/>
<path d="M824.5 649.4l6.5 -6.5l6.5 6.5l-6.5 6.5z"/>
<path d="M825.7 648.1l6.5 -6.5l6.5 6.5l-6.5 6.5z"/>
<path d="M826.9 646.9l6.5 -6.5l6.5 6.5l-6.5 6.5z"/>
<path d="M828.1 645.7l6.5 -6.5l6.5 6.5l-6.5 6.5z"/>
<path d="M829.3 644.6l6.5 -6.5l6.5 6.5l-6.5 6.5z"/>
<path d="M830.5 643.5l6.5 -6.5l6.5 6.5l-6.5 6.5z"/>
<path d="M831.7 642.5l6.5 -6.5l6.5 6.5l-6.5 6.5z"/>
<path d="M832.9 641.4l6.5 -6.5l6.5 6.5l-6.5 6.5z"/>
<path d="M834.1 640.4l6.5 -6.5l6.5 6.5l-6.5 6.5z"/>
<path d="M835.3 639.5l6.5 -6.5l6.5 6.5l-6.5 6.5z"/>
<path d="M836.5 638.5l6.5 -6.5l6.5 6.5l-6.5 6.5z"/>
<path d="M837.8 637.6l6.5 -6.5l6.5 6.5l-6.5 6.5z"/>
<path d="M839 636.7l6.5 -6.5l6.5 6.5l-6.5 6.5z"/>
<path d="M840.2 635.9l6.5 -6.5l6.5 6.5l-6.5 6.5z"/>
<path d="M841.4 635l6.5 -6.5l6.5 6.5l-6.5 6.5z"/>
<path d="M842.6 634.2l6.5 -6.5l6.5 6.5l-6.5 6.5z"/>
<path d="M843.8 633.4l6.5 -6.5l6.5 6.5l-6.5 6.5z"/>
<path d="M845 632.6l6.5 -6.5l6.5 6.5l-6.5 6.5z"/>
<path d="M846.2 631.8l6.5 -6.5l6.5 6.5l-6.5 6.5z"/>
<path d="M847.4 631.1l6.5 -6.5l6.5 6.5l-6.5 6.5z"/>
<path d="M848.6 630.3l6.5 -6.5l6.5 6.5l-6.5 6.5z"/>
<path d="M849.8 629.6l6.5 -6.5l6.5 6.5l-6.5 6.5z"/>
<path d="M851 628.9l6.5 -6.5l6.5 6.5l-6.5 6.5z"/>
<path d="M852.2 628.2l6.5 -6.5l6.5 6.5l-6.5 6.5z"/>
<path d="M853.5 627.5l6.5 -6.5l6.5 6.5l-6.5 6.5z"/>
<path d="M854.7 626.8l6.5 -6.5l6.5 6.5l-6.5 6.5z"/>
<path d="M855.9 626.2l6.5 -6.5l6.5 6.5l-6.5 6.5z"/>
<path d="M857.1 625.5l6.5 -6.5l6.5 6.5l-6.5 6.5z"/>
<path d="M858.3 624.8l6.5 -6.5l6.5 6.5l-6.5 6.5z"/>
<path d="M859.5 624.2l6.5 -6.5l6.5 6.5l-6.5 6.5z"/>
<path d="M860.7 623.5l6.5 -6.5l6.5 6.5l-6.5 6.5z"/>
<path d="M861.9 622.9l6.5 -6.5l6.5 6.5l-6.5 6.5z"/>
<path d="M863.1 622.3l6.5 -6.5l6.5 6.5l-6.5 6.5z"/>
<path d="M864.3 621.7l6.5 -6.5l6.5 6.5l-6.5 6.5z"/>
<path d="M865.5 621l6.5 -6.5l6.5 6.5l-6.5 6.5z"/>
<path d="M866.7 620.4l6.5 -6.5l6.5 6.5l-6.5 6.5z"/>
<path d="M867.9 619.8l6.5 -6.5l6.5 6.5l-6.5 6.5z"/>
<path d="M869.2 619.2l6.5 -6.5l6.5 6.5l-6.5 6.5z"/>
<path d="M870.4 618.6l6.5 -6.5l6.5 6.5l-6.5 6.5z"/>
<path d="M871.6 618l6.5 -6.5l6.5 6.5l-6.5 6.5z"/>
<path d="M872.8 617.4l6.5 -6.5l6.5 6.5l-6.5 6.5z"/>
<path d="M874 616.8l6.5 -6.5l6.5 6.5l-6.5 6.5z"/>
<path d="M875.2 616.2l6.5 -6.5l6.5 6.5l-6.5 6.5z"/>
<path d="M876.4 615.6l6.5 -6.5l6.5 6.5l-6.5 6.5z"/>
<path d="M877.6 615.1l6.5 -6.5l6.5 6.5l-6.5 6.5z"/>
<path d="M878.8 614.5l6.5 -6.5l6.5 6.5l-6.5 6.5z"/>
<path d="M880 613.9l6.5 -6.5l6.5 6.5l-6.5 6.5z"/>
<path d="M881.2 613.3l6.5 -6.5l6.5 6.5l-6.5 6.5z"/>
<path d="M882.4 612.7l6.5 -6.5l6.5 6.5l-6.5 6.5z"/>
<path d="M883.6 612.1l6.5 -6.5l6.5 6.5l-6.5 6.5z"/>
<path d="M884.9 611.5l6.5 -6.5l6.5 6.5l-6.5 6.5z"/>
<path d="M886.1 610.9l6.5 -6.5l6.5 6.5l-6.5 6.5z"/>
<path d="M887.3 610.3l6.5 -6.5l6.5 6.5l-6.5 6.5z"/>
<path d="M888.5 609.7l6.5 -6.5l6.5 6.5l-6.5 6.5z"/>
<path d="M889.7 609.1l6.5 -6.5l6.5 6.5l-6.5 6.5z"/>
<path d="M890.9 608.4l6.5 -6.5l6.5 6.5l-6.5 6.5z"/>
<path d="M892.1 607.8l6.5 -6.5l6.5 6.5l-6.5 6.5z"/>
<path d="M893.3 607.2l6.5 -6.5l6.5 6.5l-6.5 6.5z"/>
<path d="M894.5 606.5l6.5 -6.5l6.5 6.5l-6.5 6.5z"/>
<path d="M895.7 605.9l6.5 -6.5l6.5 6.5l-6.5 6.5z"/>
<path d="M896.9 605.3l6.5 -6.5l6.5 6.5l-6.5 6.5z"/>
<path d="M898.1 604.6l6.5 -6.5l6.5 6.5l-6.5 6.5z"/>
<path d="M899.3 603.9l6.5 -6.5l6.5 6.5l-6.5 6.5z"/>
<path d="M900.6 603.3l6.5 -6.5l6.5 6.5l-6.5 6.5z"/>
<path d="M901.8 602.6l6.5 -6.5l6.5 6.5l-6.5 6.5z"/>
<path d="M903 601.9l6.5 -6.5l6.5 6.5l-6.5 6.5z"/>
<path d="M904.2 601.2l6.5 -6.5l6.5 6.5l-6.5 6.5z"/>
<path d="M905.4 600.5l6.5 -6.5l6.5 6.5l-6.5 6.5z"/>
<path d="M906.6 599.7l6.5 -6.5l6.5 6.5l-6.5 6.5z"/>
<path d="M907.8 599l6.5 -6.5l6.5 6.5l-6.5 6.5z"/>
<path d="M909 598.2l6.5 -6.5l6.5 6.5l-6.5 6.5z"/>
<path d="M910.2 597.5l6.5 -6.5l6.5 6.5l-6.5 6.5z"/>
<path d="M911.4 596.7l6.5 -6.5l6.5 6.5l-6.5 6.5z"/>
<path d="M912.6 595.9l6.5 -6.5l6.5 6.5l-6.5 6.5z"/>
<path d="M913.8 595l6.5 -6.5l6.5 6.5l-6.5 6.5z"/>
<path d="M915 594.2l6.5 -6.5l6.5 6.5l-6.5 6.5z"/>
<path d="M916.2 593.3l6.5 -6.5l6.5 6.5l-6.5 6.5z"/>
<path d="M917.5 592.4l6.5 -6.5l6.5 6.5l-6.5 6.5z"/>
<path d="M918.7 591.5l6.5 -6.5l6.5 6.5l-6.5 6.5z"/>
<path d="M919.9 590.6l6.5 -6.5l6.5 6.5l-6.5 6.5z"/>
<path d="M921.1 589.6l6.5 -6.5l6.5 6.5l-6.5 6.5z"/>
<path d="M922.3 588.6l6.5 -6.5l6.5 6.5l-6.5 6.5z"/>
<path d="M923.5 587.6l6.5 -6.5l6.5 6.5l-6.5 6.5z"/>
<path d="M924.7 586.5l6.5 -6.5l6.5 6.5l-6.5 6.5z"/>
<path d="M925.9 585.4l6.5 -6.5l6.5 6.5l-6.5 6.5z"/>
<path d="M927.1 584.3l6.5 -6.5l6.5 6.5l-6.5 6.5z"/>
<path d="M928.3 583.1l6.5 -6.5l6.5 6.5l-6.5 6.5z"/>
<path d="M929.5 581.9l6.5 -6.5l6.5 6.5l-6.5 6.5z"/>
<path d="M930.7 580.7l6.5 -6.5l6.5 6.5l-6.5 6.5z"/>
<path d="M931.9 579.3l6.5 -6.5l6.5 6.5l-6.5 6.5z"/>
<path d="M933.2 578l6.5 -6.5l6.5 6.5l-6.5 6.5z"/>
<path d="M934.4 576.6l6.5 -6.5l6.5 6.5l-6.5 6.5z"/>
<path d="M935.6 575.1l6.5 -6.5l6.5 6.5l-6.5 6.5z"/>
<path d="M936.8 573.5l6.5 -6.5l6.5 6.5l-6.5 6.5z"/>
<path d="M938 571.9l6.5 -6.5l6.5 6.5l-6.5 6.5z"/>
<path d="M939.2 570.2l6.5 -6.5l6.5 6.5l-6.5 6.5z"/>
<path d="M940.4 568.5l6.5 -6.5l6.5 6.5l-6.5 6.5z"/>
</g>
<path d="M101.6 676.1L102.8 673.6L104 671.1L105.2 668.4L106.4 665.6L107.6 662.8L108.8 659.9L110.1 656.9L111.3 653.8L112.5 650.7L113.7 647.5L114.9 644.3L116.1 641L117.3 637.7L118.5 634.4L119.7 631L120.9 627.6L122.1 624.2L123.3 620.7L124.5 617.3L125.8 613.8L127 610.4L128.2 606.9L129.4 603.5L130.6 600.1L131.8 596.7L133 593.3L134.2 590L135.4 586.7L136.6 583.5L137.8 580.3L139 577.2L140.2 574.1L141.4 571.1L142.7 568.1L143.9 565.3L145.1 562.5L146.3 559.8L147.5 557.2L148.7 554.7L149.9 552.3L151.1 549.9L152.3 547.7L153.5 545.6L154.7 543.6L155.9 541.7L157.1 540L158.4 538.3L159.6 536.8L160.8 535.4L162 534.1L163.2 533L164.4 532L165.6 531.1L166.8 530.4L168 529.8L169.2 529.3L170.4 529L171.6 528.8L172.8 528.7L174.1 528.8L175.3 529L176.5 529.4L177.7 529.9L178.9 530.5L180.1 531.3L181.3 532.2L182.5 533.2L183.7 534.4L184.9 535.7L186.1 537.1L187.3 538.6L188.5 540.3L189.8 542.1L191 544L192.2 546L193.4 548.1L194.6 550.4L195.8 552.7L197 555.2L198.2 557.7L199.4 560.3L200.6 563L201.8 565.8L203 568.7L204.2 571.7L205.5 574.7L206.7 577.8L207.9 580.9L209.1 584.1L210.3 587.3L211.5 590.6L212.7 594L213.9 597.3L215.1 600.7L216.3 604.1L217.5 607.6L218.7 611L219.9 614.5L221.1 617.9L222.4 621.4L223.6 624.8L224.8 628.2L226 631.6L227.2 635L228.4 638.4L229.6 641.7L230.8 644.9L232 648.1L233.2 651.3L234.4 654.4L235.6 657.5L236.8 660.4L238.1 663.3L239.3 666.2L240.5 668.9L241.7 671.6L242.9 674.1L244.1 676.6L245.3 679L246.5 681.2L247.7 683.4L248.9 685.5L250.1 687.4L251.3 689.2L252.5 690.9L253.8 692.5L255 694L256.2 695.3L257.4 696.5L258.6 697.6L259.8 698.6L261 699.4L262.2 700.1L263.4 700.6L264.6 701L265.8 701.3L267 701.4L268.2 701.4L269.5 701.3L270.7 701L271.9 700.6L273.1 700L274.3 699.3L275.5 698.5L276.7 697.5L277.9 696.4L279.1 695.2L280.3 693.8L281.5 692.4L282.7 690.8L283.9 689L285.2 687.2L286.4 685.2L287.6 683.2L288.8 681L290 678.7L291.2 676.3L292.4 673.8L293.6 671.3L294.8 668.6L296 665.9L297.2 663L298.4 660.1L299.6 657.1L300.8 654.1L302.1 651L303.3 647.8L304.5 644.6L305.7 641.3L306.9 638L308.1 634.6L309.3 631.3L310.5 627.9L311.7 624.4L312.9 621L314.1 617.5L315.3 614.1L316.5 610.6L317.8 607.2L319 603.8L320.2 600.3L321.4 597L322.6 593.6L323.8 590.3L325 587L326.2 583.7L327.4 580.5L328.6 577.4L329.8 574.3L331 571.3L332.2 568.4L333.5 565.5L334.7 562.7L335.9 560L337.1 557.4L338.3 554.9L339.5 552.5L340.7 550.1L341.9 547.9L343.1 545.8L344.3 543.8L345.5 541.9L346.7 540.1L347.9 538.5L349.2 536.9L350.4 535.5L351.6 534.2L352.8 533.1L354 532.1L355.2 531.2L356.4 530.4L357.6 529.8L358.8 529.3L360 529L361.2 528.8L362.4 528.7L363.6 528.8L364.9 529L366.1 529.4L367.3 529.8L368.5 530.5L369.7 531.2L370.9 532.1L372.1 533.1L373.3 534.3L374.5 535.6L375.7 537L376.9 538.5L378.1 540.2L379.3 541.9L380.5 543.8L381.8 545.9L383 548L384.2 550.2L385.4 552.5L386.6 555L387.8 557.5L389 560.1L390.2 562.8L391.4 565.6L392.6 568.5L393.8 571.4L395 574.4L396.2 577.5L397.5 580.6L398.7 583.8L399.9 587.1L401.1 590.4L402.3 593.7L403.5 597.1L404.7 600.5L405.9 603.9L407.1 607.3L408.3 610.7L409.5 614.2L410.7 617.7L411.9 621.1L413.2 624.5L414.4 628L415.6 631.4L416.8 634.7L418 638.1L419.2 641.4L420.4 644.7L421.6 647.9L422.8 651.1L424 654.2L425.2 657.2L426.4 660.2L427.6 663.1L428.9 665.9L430.1 668.7L431.3 671.4L432.5 673.9L433.7 676.4L434.9 678.8L436.1 681.1L437.3 683.2L438.5 685.3L439.7 687.3L440.9 689.1L442.1 690.8L443.3 692.4L444.6 693.9L445.8 695.2L447 696.5L448.2 697.5L449.4 698.5L450.6 699.3L451.8 700L453 700.6L454.2 701L455.4 701.3L456.6 701.4L457.8 701.4L459 701.3L460.2 701L461.5 700.6L462.7 700L463.9 699.4L465.1 698.5L466.3 697.6L467.5 696.5L468.7 695.3L469.9 694L471.1 692.5L472.3 690.9L473.5 689.2L474.7 687.4L475.9 685.4L477.2 683.3L478.4 681.2L479.6 678.9L480.8 676.5L482 674L483.2 671.5L484.4 668.8L485.6 666.1L486.8 663.2L488 660.3L489.2 657.4L490.4 654.3L491.6 651.2L492.9 648L494.1 644.8L495.3 641.6L496.5 638.3L497.7 634.9L498.9 631.5L500.1 628.1L501.3 624.7L502.5 621.3L503.7 617.8L504.9 614.4L506.1 610.9L507.3 607.5L508.6 604L509.8 600.6L511 597.2L512.2 593.9L513.4 590.5L514.6 587.2L515.8 584L517 580.8L518.2 577.7L519.4 574.6L520.6 571.6L521.8 568.6L523 565.7L524.2 562.9L525.5 560.2L526.7 557.6L527.9 555.1L529.1 552.6L530.3 550.3L531.5 548.1L532.7 546L533.9 543.9L535.1 542L536.3 540.3L537.5 538.6L538.7 537L539.9 535.6L541.2 534.3L542.4 533.2L543.6 532.2L544.8 531.3L546 530.5L547.2 529.9L548.4 529.4L549.6 529L550.8 528.8L552 528.7L553.2 528.8L554.4 529L555.6 529.3L556.9 529.8L558.1 530.4L559.3 531.2L560.5 532L561.7 533L562.9 534.2L564.1 535.5L565.3 536.9L566.5 538.4L567.7 540L568.9 541.8L570.1 543.7L571.3 545.7L572.6 547.8L573.8 550L575 552.3L576.2 554.8L577.4 557.3L578.6 559.9L579.8 562.6L581 565.4L582.2 568.2L583.4 571.2L584.6 574.2L585.8 577.3L587 580.4L588.3 583.6L589.5 586.8L590.7 590.1L591.9 593.4L593.1 596.8L594.3 600.2L595.5 603.6L596.7 607L597.9 610.5L599.1 613.9L600.3 617.4L601.5 620.8L602.7 624.3L603.9 627.7L605.2 631.1L606.4 634.5L607.6 637.8L608.8 641.1L610 644.4L611.2 647.6L612.4 650.8L613.6 653.9L614.8 657L616 660L617.2 662.9L618.4 665.7L619.6 668.5L620.9 671.1L622.1 673.7L623.3 676.2L624.5 678.6L625.7 680.9L626.9 683.1L628.1 685.1L629.3 687.1L630.5 689L631.7 690.7L632.9 692.3L634.1 693.8L635.3 695.1L636.6 696.4L637.8 697.5L639 698.4L640.2 699.3L641.4 700L642.6 700.5L643.8 701L645 701.2L646.2 701.4L647.4 701.4L648.6 701.3L649.8 701L651 700.6L652.3 700.1L653.5 699.4L654.7 698.6L655.9 697.7L657.1 696.6L658.3 695.4L659.5 694.1L660.7 692.6L661.9 691L663.1 689.3L664.3 687.5L665.5 685.6L666.7 683.5L668 681.4L669.2 679.1L670.4 676.7L671.6 674.2L672.8 671.7L674 669L675.2 666.3L676.4 663.5L677.6 660.6L678.8 657.6L680 654.6L681.2 651.5L682.4 648.3L683.6 645.1L684.9 641.8L686.1 638.5L687.3 635.2L688.5 631.8L689.7 628.4L690.9 625L692.1 621.5L693.3 618.1L694.5 614.6L695.7 611.2L696.9 607.7L698.1 604.3L699.3 600.9L700.6 597.5L701.8 594.1L703 590.8L704.2 587.5L705.4 584.3L706.6 581.1L707.8 577.9L709 574.8L710.2 571.8L711.4 568.8L712.6 566L713.8 563.2L715 560.4L716.3 557.8L717.5 555.3L718.7 552.8L719.9 550.5L721.1 548.2L722.3 546.1L723.5 544.1L724.7 542.2L725.9 540.4L727.1 538.7L728.3 537.2L729.5 535.7L730.7 534.4L732 533.3L733.2 532.2L734.4 531.3L735.6 530.6L736.8 529.9L738 529.4L739.2 529L740.4 528.8L741.6 528.7L742.8 528.8L744 529L745.2 529.3L746.4 529.8L747.7 530.4L748.9 531.1L750.1 532L751.3 533L752.5 534.1L753.7 535.4L754.9 536.7L756.1 538.3L757.3 539.9L758.5 541.7L759.7 543.5L760.9 545.5L762.1 547.6L763.3 549.8L764.6 552.1L765.8 554.6L767 557.1L768.2 559.7L769.4 562.4L770.6 565.1L771.8 568L773 570.9L774.2 573.9L775.4 577L776.6 580.1L777.8 583.3L779 586.6L780.3 589.8L781.5 593.2L782.7 596.5L783.9 599.9L785.1 603.3L786.3 606.8L787.5 610.2L788.7 613.6L789.9 617.1L791.1 620.6L792.3 624L793.5 627.4L794.7 630.8L796 634.2L797.2 637.6L798.4 640.9L799.6 644.2L800.8 647.4L802 650.6L803.2 653.7L804.4 656.7L805.6 659.7L806.8 662.6L808 665.5L809.2 668.3L810.4 670.9L811.7 673.5L812.9 676L814.1 678.4L815.3 680.7L816.5 682.9L817.7 685L818.9 687L820.1 688.8L821.3 690.6L822.5 692.2L823.7 693.7L824.9 695L826.1 696.3L827.4 697.4L828.6 698.4L829.8 699.2L831 699.9L832.2 700.5L833.4 700.9L834.6 701.2L835.8 701.4L837 701.4L838.2 701.3L839.4 701.1L840.6 700.7L841.8 700.1L843 699.5L844.3 698.7L845.5 697.8L846.7 696.7L847.9 695.5L849.1 694.2L850.3 692.7L851.5 691.2L852.7 689.5L853.9 687.7L855.1 685.7L856.3 683.7L857.5 681.5L858.7 679.3L860 676.9L861.2 674.4L862.4 671.9L863.6 669.2L864.8 666.5L866 663.7L867.2 660.8L868.4 657.8L869.6 654.8L870.8 651.7L872 648.6L873.2 645.3L874.4 642.1L875.7 638.8L876.9 635.4L878.1 632.1L879.3 628.7L880.5 625.3L881.7 621.8L882.9 618.4L884.1 614.9L885.3 611.5L886.5 608L887.7 604.6L888.9 601.2L890.1 597.8L891.4 594.4L892.6 591.1L893.8 587.8L895 584.5L896.2 581.3L897.4 578.2L898.6 575.1L899.8 572L901 569.1L902.2 566.2L903.4 563.4L904.6 560.7L905.8 558L907.1 555.5L908.3 553L909.5 550.7L910.7 548.4L911.9 546.3L913.1 544.3L914.3 542.3L915.5 540.5L916.7 538.8L917.9 537.3L919.1 535.8L920.3 534.5L921.5 533.4L922.7 532.3L924 531.4L925.2 530.6L926.4 530L927.6 529.4L928.8 529.1L930 528.8L931.2 528.7L932.4 528.8L933.6 528.9L934.8 529.3L936 529.7L937.2 530.3L938.4 531L939.7 531.9L940.9 532.9L942.1 534L943.3 535.2L944.5 536.6L945.7 538.1L946.9 539.8" fill="none" stroke="#ff0000" stroke-width="3.3" stroke-linejoin="round"/>
</g>
<rect x="730.4" y="10.8" width="209.5" height="136.2" fill="#fff" stroke="#111" stroke-width="1.7"/>
<path d="M734.7 32H802.2" stroke="#ff0000" stroke-width="3.3" stroke-linecap="round"/>
<path d="M733.5 76.2H803.4" stroke="#d00808" stroke-width="1.7"/>
<g fill="#ff6a60" stroke="#7810ff" stroke-width="1.2"><circle cx="768.5" cy="76.2" r="5.1"/></g>
<path d="M733.5 120.2H803.4" stroke="#9900cc" stroke-width="1.5"/>
<g fill="#00ff00" stroke="#0808ff" stroke-width="1.2"><path d="M762 120.2l6.5 -6.5l6.5 6.5l-6.5 6.5z"/></g>
<g font-family="'Liberation Sans', sans-serif" fill="#000">
<text transform="translate(810.5 42.4) scale(1.0 1.015)" font-size="30.3">W</text>
<text transform="translate(839.1 50.7) scale(1.0 1.035)" font-size="21">p,I</text>
<text transform="translate(863.8 42.4) scale(1.15 1.015)" font-size="30.3">/</text>
<text transform="translate(875.4 42.4) scale(1.0 1.015)" font-size="30.3">W</text>
<text transform="translate(903.7 50.7) scale(1.0 1.035)" font-size="21">p,R</text>
<text transform="translate(810.5 86.6) scale(1.0 1.015)" font-size="30.3">W</text>
<text transform="translate(839.1 94.9) scale(1.0 1.035)" font-size="21">p,R</text>
<text transform="translate(810.5 130.6) scale(1.0 1.015)" font-size="30.3">W</text>
<text transform="translate(839.1 138.9) scale(1.0 1.035)" font-size="21">p,I</text>
</g>
<rect x="751" y="380.8" width="188.9" height="136" fill="#fff" stroke="#111" stroke-width="1.7"/>
<path d="M758.1 401.7H825.5" stroke="#ff0000" stroke-width="3.3" stroke-linecap="round"/>
<path d="M756.9 445.9H826.7" stroke="#d00808" stroke-width="1.7"/>
<g fill="#ff6a60" stroke="#7810ff" stroke-width="1.2"><circle cx="791.8" cy="445.9" r="5.1"/></g>
<path d="M756.9 489.9H826.7" stroke="#9900cc" stroke-width="1.5"/>
<g fill="#00ff00" stroke="#0808ff" stroke-width="1.2"><path d="M785.3 489.9l6.5 -6.5l6.5 6.5l-6.5 6.5z"/></g>
<g font-family="'Liberation Sans', sans-serif" fill="#000">
<text transform="translate(836.3 412.1) scale(1.0 1.015)" font-size="30.3">W</text>
<text transform="translate(865.7 420.4) scale(1.0 1.035)" font-size="21">I</text>
<text transform="translate(874.4 412.1) scale(1.15 1.015)" font-size="30.3">/</text>
<text transform="translate(888 412.1) scale(1.0 1.015)" font-size="30.3">W</text>
<text transform="translate(916.3 420.4) scale(1.0 1.035)" font-size="21">R</text>
<text transform="translate(836.3 456.3) scale(1.0 1.015)" font-size="30.3">W</text>
<text transform="translate(864.6 464.6) scale(1.0 1.035)" font-size="21">R</text>
<text transform="translate(836.3 500.3) scale(1.0 1.015)" font-size="30.3">W</text>
<text transform="translate(865.7 508.6) scale(1.0 1.035)" font-size="21">I</text>
</g>
<g font-family="'Liberation Sans', sans-serif" fill="#000">
<text transform="translate(92.3 379)" font-size="39.5" text-anchor="end">-4</text>
<text transform="translate(92.3 318.03)" font-size="39.5" text-anchor="end">-2</text>
<text transform="translate(92.3 257.05)" font-size="39.5" text-anchor="end">0</text>
<text transform="translate(92.3 196.08)" font-size="39.5" text-anchor="end">2</text>
<text transform="translate(92.3 135.1)" font-size="39.5" text-anchor="end">4</text>
<text transform="translate(92.3 74.13)" font-size="39.5" text-anchor="end">6</text>
<text transform="translate(92.3 748.39)" font-size="39.5" text-anchor="end">-4</text>
<text transform="translate(92.3 687.34)" font-size="39.5" text-anchor="end">-2</text>
<text transform="translate(92.3 626.28)" font-size="39.5" text-anchor="end">0</text>
<text transform="translate(92.3 565.22)" font-size="39.5" text-anchor="end">2</text>
<text transform="translate(92.3 504.16)" font-size="39.5" text-anchor="end">4</text>
<text transform="translate(92.3 443.1)" font-size="39.5" text-anchor="end">6</text>
<text transform="translate(101.6 783.3)" font-size="38.5" text-anchor="middle">0</text>
<text transform="translate(222.36 783.3)" font-size="38.5" text-anchor="middle">2</text>
<text transform="translate(343.11 783.3)" font-size="38.5" text-anchor="middle">4</text>
<text transform="translate(463.87 783.3)" font-size="38.5" text-anchor="middle">6</text>
<text transform="translate(584.63 783.3)" font-size="38.5" text-anchor="middle">8</text>
<text transform="translate(705.39 783.3)" font-size="38.5" text-anchor="middle">10</text>
<text transform="translate(826.14 783.3)" font-size="38.5" text-anchor="middle">12</text>
<text transform="translate(944.9 783.3)" font-size="38.5" text-anchor="middle">14</text>
<text transform="translate(524.2 826) scale(1.0 1.08)" font-size="41" text-anchor="middle" stroke="#000" stroke-width="0.35">t</text>
<text transform="translate(6.4 35) scale(1.0 1.01)" font-size="42" font-weight="bold">A</text>
<text transform="translate(4.3 413.7) scale(1.0 1.01)" font-size="42" font-weight="bold">B</text>
<text transform="translate(155.1 50.8) scale(1.0 1.035)" font-size="33">A=1</text>
<text transform="translate(155.2 91.5) scale(1.0 1.035)" font-size="33">B=5</text>
<text transform="translate(135.1 420.8) scale(1.0 1.035)" font-size="33">A=1</text>
<text transform="translate(135.2 461.5) scale(1.0 1.035)" font-size="33">B=5</text>
<text transform="translate(35.3 319.7) rotate(-90) scale(1.0 1.06)" font-size="42">W</text>
<text transform="translate(45.9 280.1) rotate(-90) scale(1.0 1.06)" font-size="27" letter-spacing="0.8">p,I</text>
<text transform="translate(35.3 248.2) rotate(-90) scale(0.92 1.03)" font-size="42" stroke="#000" stroke-width="0.3">(</text>
<text transform="translate(35.3 231.9) rotate(-90) scale(1.0 1.03)" font-size="42" stroke="#000" stroke-width="0.5">t</text>
<text transform="translate(35.3 218.05) rotate(-90) scale(0.92 1.03)" font-size="42" stroke="#000" stroke-width="0.3">)</text>
<text transform="translate(35.3 202.6) rotate(-90) scale(1.0 1.06)" font-size="42">/</text>
<text transform="translate(35.3 183) rotate(-90) scale(1.0 1.06)" font-size="42">W</text>
<text transform="translate(45.9 143.4) rotate(-90) scale(1.0 1.06)" font-size="27" letter-spacing="0.8">p,R</text>
<text transform="translate(35.3 101.4) rotate(-90) scale(0.92 1.03)" font-size="42" stroke="#000" stroke-width="0.3">(</text>
<text transform="translate(35.3 84) rotate(-90) scale(1.0 1.03)" font-size="42" stroke="#000" stroke-width="0.5">t</text>
<text transform="translate(35.3 70.15) rotate(-90) scale(0.92 1.03)" font-size="42" stroke="#000" stroke-width="0.3">)</text>
<text transform="translate(35.3 664.7) rotate(-90) scale(1.0 1.06)" font-size="42">W</text>
<text transform="translate(45.9 625.1) rotate(-90) scale(1.0 1.06)" font-size="27" letter-spacing="0.8">I</text>
<text transform="translate(35.3 616.2) rotate(-90) scale(0.92 1.03)" font-size="42" stroke="#000" stroke-width="0.3">(</text>
<text transform="translate(35.3 602.5) rotate(-90) scale(1.0 1.03)" font-size="42" stroke="#000" stroke-width="0.5">t</text>
<text transform="translate(35.3 588.85) rotate(-90) scale(0.92 1.03)" font-size="42" stroke="#000" stroke-width="0.3">)</text>
<text transform="translate(35.3 572.1) rotate(-90) scale(1.0 1.06)" font-size="42">/</text>
<text transform="translate(35.3 553) rotate(-90) scale(1.0 1.06)" font-size="42">W</text>
<text transform="translate(45.9 513.4) rotate(-90) scale(1.0 1.06)" font-size="27" letter-spacing="0.8">R</text>
<text transform="translate(35.3 492.5) rotate(-90) scale(0.92 1.03)" font-size="42" stroke="#000" stroke-width="0.3">(</text>
<text transform="translate(35.3 478.2) rotate(-90) scale(1.0 1.03)" font-size="42" stroke="#000" stroke-width="0.5">t</text>
<text transform="translate(35.3 463.35) rotate(-90) scale(0.92 1.03)" font-size="42" stroke="#000" stroke-width="0.3">)</text>
</g>
</svg>
</body></html>
